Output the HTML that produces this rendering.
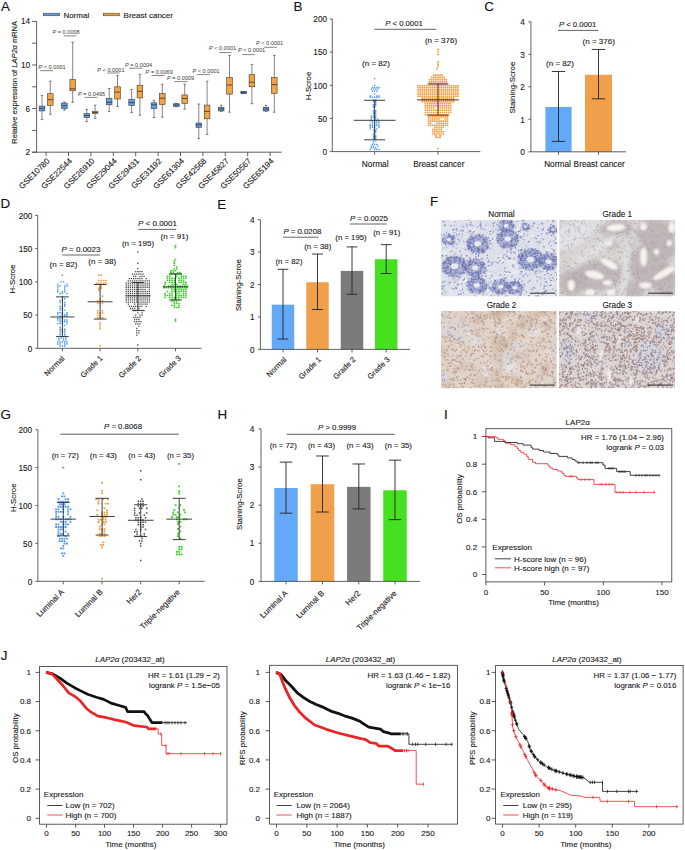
<!DOCTYPE html>
<html><head><meta charset="utf-8"><style>
html,body{margin:0;padding:0;background:#fff;overflow:hidden;}
svg{display:block;font-family:"Liberation Sans", sans-serif;}
text{stroke:#1a1a1a;stroke-width:0.12px;}
text.ns{stroke:none;}
</style></head><body>
<svg width="685" height="850" viewBox="0 0 685 850">
<defs><filter id="bl1" x="-0.2" y="-0.2" width="1.4" height="1.4"><feGaussianBlur stdDeviation="1.3"/></filter><filter id="bl2" x="-0.2" y="-0.2" width="1.4" height="1.4"><feGaussianBlur stdDeviation="2.2"/></filter><filter id="soft" x="0" y="0" width="1" height="1"><feGaussianBlur stdDeviation="0.3"/></filter><clipPath id="cn"><rect x="440.8" y="219.8" width="116.2" height="76.6"/></clipPath><clipPath id="c1"><rect x="559.2" y="219.8" width="116" height="76.6"/></clipPath><clipPath id="c2"><rect x="440.8" y="311" width="116" height="77.3"/></clipPath><clipPath id="c3"><rect x="559" y="311" width="116" height="77.3"/></clipPath></defs>
<rect width="685" height="850" fill="#fff"/>
<text x="0.9" y="10.8" font-size="13.4" text-anchor="start" fill="#111">A</text>
<text x="293.6" y="10.8" font-size="13.4" text-anchor="start" fill="#111">B</text>
<text x="484.2" y="10.7" font-size="13.4" text-anchor="start" fill="#111">C</text>
<text x="0.5" y="208.4" font-size="13.4" text-anchor="start" fill="#111">D</text>
<text x="217.35" y="208.6" font-size="13.4" text-anchor="start" fill="#111">E</text>
<text x="430" y="205.8" font-size="13.4" text-anchor="start" fill="#111">F</text>
<text x="0.56" y="418.8" font-size="13.4" text-anchor="start" fill="#111">G</text>
<text x="217.6" y="418.9" font-size="13.4" text-anchor="start" fill="#111">H</text>
<text x="444.1" y="418.9" font-size="13.4" text-anchor="start" fill="#111">I</text>
<text x="0.7" y="660.2" font-size="13.4" text-anchor="start" fill="#111">J</text>
<line x1="36.6" y1="21.4" x2="36.6" y2="152.2" stroke="#3a3a3a" stroke-width="0.8"/>
<line x1="32.1" y1="152.2" x2="281.7" y2="152.2" stroke="#3a3a3a" stroke-width="0.8"/>
<line x1="32.1" y1="152.2" x2="36.6" y2="152.2" stroke="#3a3a3a" stroke-width="0.8"/>
<line x1="32.1" y1="130.4" x2="36.6" y2="130.4" stroke="#3a3a3a" stroke-width="0.8"/>
<line x1="32.1" y1="108.6" x2="36.6" y2="108.6" stroke="#3a3a3a" stroke-width="0.8"/>
<line x1="32.1" y1="86.8" x2="36.6" y2="86.8" stroke="#3a3a3a" stroke-width="0.8"/>
<line x1="32.1" y1="65" x2="36.6" y2="65" stroke="#3a3a3a" stroke-width="0.8"/>
<line x1="32.1" y1="43.2" x2="36.6" y2="43.2" stroke="#3a3a3a" stroke-width="0.8"/>
<line x1="32.1" y1="21.4" x2="36.6" y2="21.4" stroke="#3a3a3a" stroke-width="0.8"/>
<text x="30" y="155.2" font-size="8.2" text-anchor="end" fill="#1a1a1a">2</text>
<text x="30" y="111.6" font-size="8.2" text-anchor="end" fill="#1a1a1a">6</text>
<text x="30" y="68" font-size="8.2" text-anchor="end" fill="#1a1a1a">10</text>
<text x="30" y="24.4" font-size="8.2" text-anchor="end" fill="#1a1a1a">14</text>
<text x="16.8" y="82.3" font-size="7.5" text-anchor="middle" fill="#1a1a1a" transform="rotate(-90 16.8 82.3)">Relative expression of <tspan font-style="italic">LAP2&#945;</tspan> mRNA</text>
<rect x="43.4" y="13.2" width="16.3" height="2.6" fill="#5ea2ea" stroke="#333" stroke-width="0.5"/>
<text x="63.4" y="17.5" font-size="8" text-anchor="start" fill="#1a1a1a">Normal</text>
<rect x="103.4" y="13.2" width="16.3" height="2.6" fill="#f2a443" stroke="#333" stroke-width="0.5"/>
<text x="123.6" y="17.5" font-size="8" text-anchor="start" fill="#1a1a1a">Breast cancer</text>
<line x1="46.1" y1="152.2" x2="46.1" y2="156.2" stroke="#3a3a3a" stroke-width="0.8"/>
<line x1="42" y1="95.4" x2="42" y2="106.1" stroke="#333" stroke-width="0.6"/>
<line x1="42" y1="110.9" x2="42" y2="119.6" stroke="#333" stroke-width="0.6"/>
<line x1="40.7" y1="95.4" x2="43.3" y2="95.4" stroke="#333" stroke-width="0.6"/>
<line x1="40.7" y1="119.6" x2="43.3" y2="119.6" stroke="#333" stroke-width="0.6"/>
<rect x="39.2" y="106.1" width="5.6" height="4.8" fill="#5ea2ea" stroke="#3a3a3a" stroke-width="0.6"/>
<line x1="39.2" y1="108.4" x2="44.8" y2="108.4" stroke="#222" stroke-width="0.7"/>
<line x1="50.3" y1="81.2" x2="50.3" y2="93.7" stroke="#333" stroke-width="0.6"/>
<line x1="50.3" y1="105.3" x2="50.3" y2="114.3" stroke="#333" stroke-width="0.6"/>
<line x1="49" y1="81.2" x2="51.6" y2="81.2" stroke="#333" stroke-width="0.6"/>
<line x1="49" y1="114.3" x2="51.6" y2="114.3" stroke="#333" stroke-width="0.6"/>
<rect x="47.5" y="93.7" width="5.6" height="11.6" fill="#f2a443" stroke="#3a3a3a" stroke-width="0.6"/>
<line x1="47.5" y1="99.7" x2="53.1" y2="99.7" stroke="#222" stroke-width="0.7"/>
<text x="50.2" y="161.5" font-size="8.1" text-anchor="end" fill="#1a1a1a" transform="rotate(-45 50.2 161.5)">GSE10780</text>
<line x1="68.5" y1="152.2" x2="68.5" y2="156.2" stroke="#3a3a3a" stroke-width="0.8"/>
<line x1="64.4" y1="102" x2="64.4" y2="103.1" stroke="#333" stroke-width="0.6"/>
<line x1="64.4" y1="108.6" x2="64.4" y2="110.2" stroke="#333" stroke-width="0.6"/>
<line x1="63.1" y1="102" x2="65.7" y2="102" stroke="#333" stroke-width="0.6"/>
<line x1="63.1" y1="110.2" x2="65.7" y2="110.2" stroke="#333" stroke-width="0.6"/>
<rect x="61.6" y="103.1" width="5.6" height="5.5" fill="#5ea2ea" stroke="#3a3a3a" stroke-width="0.6"/>
<line x1="61.6" y1="105.8" x2="67.2" y2="105.8" stroke="#222" stroke-width="0.7"/>
<line x1="72.7" y1="42.2" x2="72.7" y2="79.6" stroke="#333" stroke-width="0.6"/>
<line x1="72.7" y1="90.8" x2="72.7" y2="102.3" stroke="#333" stroke-width="0.6"/>
<line x1="71.4" y1="42.2" x2="74" y2="42.2" stroke="#333" stroke-width="0.6"/>
<line x1="71.4" y1="102.3" x2="74" y2="102.3" stroke="#333" stroke-width="0.6"/>
<rect x="69.9" y="79.6" width="5.6" height="11.2" fill="#f2a443" stroke="#3a3a3a" stroke-width="0.6"/>
<line x1="69.9" y1="88.8" x2="75.5" y2="88.8" stroke="#222" stroke-width="0.7"/>
<text x="72.6" y="161.5" font-size="8.1" text-anchor="end" fill="#1a1a1a" transform="rotate(-45 72.6 161.5)">GSE22544</text>
<line x1="90.9" y1="152.2" x2="90.9" y2="156.2" stroke="#3a3a3a" stroke-width="0.8"/>
<line x1="86.8" y1="109.4" x2="86.8" y2="113.5" stroke="#333" stroke-width="0.6"/>
<line x1="86.8" y1="117.5" x2="86.8" y2="121.6" stroke="#333" stroke-width="0.6"/>
<line x1="85.5" y1="109.4" x2="88.1" y2="109.4" stroke="#333" stroke-width="0.6"/>
<line x1="85.5" y1="121.6" x2="88.1" y2="121.6" stroke="#333" stroke-width="0.6"/>
<rect x="84" y="113.5" width="5.6" height="4" fill="#5ea2ea" stroke="#3a3a3a" stroke-width="0.6"/>
<line x1="84" y1="115.5" x2="89.6" y2="115.5" stroke="#222" stroke-width="0.7"/>
<line x1="95.1" y1="105.1" x2="95.1" y2="111.5" stroke="#333" stroke-width="0.6"/>
<line x1="95.1" y1="113.5" x2="95.1" y2="118.3" stroke="#333" stroke-width="0.6"/>
<line x1="93.8" y1="105.1" x2="96.4" y2="105.1" stroke="#333" stroke-width="0.6"/>
<line x1="93.8" y1="118.3" x2="96.4" y2="118.3" stroke="#333" stroke-width="0.6"/>
<rect x="92.3" y="111.5" width="5.6" height="2" fill="#f2a443" stroke="#3a3a3a" stroke-width="0.6"/>
<line x1="92.3" y1="112.5" x2="97.9" y2="112.5" stroke="#222" stroke-width="0.7"/>
<text x="95" y="161.5" font-size="8.1" text-anchor="end" fill="#1a1a1a" transform="rotate(-45 95 161.5)">GSE26910</text>
<line x1="113.3" y1="152.2" x2="113.3" y2="156.2" stroke="#3a3a3a" stroke-width="0.8"/>
<line x1="109.2" y1="88.5" x2="109.2" y2="98.4" stroke="#333" stroke-width="0.6"/>
<line x1="109.2" y1="104.8" x2="109.2" y2="111.4" stroke="#333" stroke-width="0.6"/>
<line x1="107.9" y1="88.5" x2="110.5" y2="88.5" stroke="#333" stroke-width="0.6"/>
<line x1="107.9" y1="111.4" x2="110.5" y2="111.4" stroke="#333" stroke-width="0.6"/>
<rect x="106.4" y="98.4" width="5.6" height="6.4" fill="#5ea2ea" stroke="#3a3a3a" stroke-width="0.6"/>
<line x1="106.4" y1="102.3" x2="112" y2="102.3" stroke="#222" stroke-width="0.7"/>
<line x1="117.5" y1="75.5" x2="117.5" y2="86.8" stroke="#333" stroke-width="0.6"/>
<line x1="117.5" y1="99" x2="117.5" y2="106.4" stroke="#333" stroke-width="0.6"/>
<line x1="116.2" y1="75.5" x2="118.8" y2="75.5" stroke="#333" stroke-width="0.6"/>
<line x1="116.2" y1="106.4" x2="118.8" y2="106.4" stroke="#333" stroke-width="0.6"/>
<rect x="114.7" y="86.8" width="5.6" height="12.2" fill="#f2a443" stroke="#3a3a3a" stroke-width="0.6"/>
<line x1="114.7" y1="92.1" x2="120.3" y2="92.1" stroke="#222" stroke-width="0.7"/>
<text x="117.4" y="161.5" font-size="8.1" text-anchor="end" fill="#1a1a1a" transform="rotate(-45 117.4 161.5)">GSE29044</text>
<line x1="135.7" y1="152.2" x2="135.7" y2="156.2" stroke="#3a3a3a" stroke-width="0.8"/>
<line x1="131.6" y1="89.5" x2="131.6" y2="99.3" stroke="#333" stroke-width="0.6"/>
<line x1="131.6" y1="105.6" x2="131.6" y2="112.5" stroke="#333" stroke-width="0.6"/>
<line x1="130.3" y1="89.5" x2="132.9" y2="89.5" stroke="#333" stroke-width="0.6"/>
<line x1="130.3" y1="112.5" x2="132.9" y2="112.5" stroke="#333" stroke-width="0.6"/>
<rect x="128.8" y="99.3" width="5.6" height="6.3" fill="#5ea2ea" stroke="#3a3a3a" stroke-width="0.6"/>
<line x1="128.8" y1="102.6" x2="134.4" y2="102.6" stroke="#222" stroke-width="0.7"/>
<line x1="139.9" y1="74.3" x2="139.9" y2="85.5" stroke="#333" stroke-width="0.6"/>
<line x1="139.9" y1="97.9" x2="139.9" y2="115.2" stroke="#333" stroke-width="0.6"/>
<line x1="138.6" y1="74.3" x2="141.2" y2="74.3" stroke="#333" stroke-width="0.6"/>
<line x1="138.6" y1="115.2" x2="141.2" y2="115.2" stroke="#333" stroke-width="0.6"/>
<rect x="137.1" y="85.5" width="5.6" height="12.4" fill="#f2a443" stroke="#3a3a3a" stroke-width="0.6"/>
<line x1="137.1" y1="91.3" x2="142.7" y2="91.3" stroke="#222" stroke-width="0.7"/>
<text x="139.8" y="161.5" font-size="8.1" text-anchor="end" fill="#1a1a1a" transform="rotate(-45 139.8 161.5)">GSE29431</text>
<line x1="158.1" y1="152.2" x2="158.1" y2="156.2" stroke="#3a3a3a" stroke-width="0.8"/>
<line x1="154" y1="100.3" x2="154" y2="102.8" stroke="#333" stroke-width="0.6"/>
<line x1="154" y1="108.6" x2="154" y2="117.5" stroke="#333" stroke-width="0.6"/>
<line x1="152.7" y1="100.3" x2="155.3" y2="100.3" stroke="#333" stroke-width="0.6"/>
<line x1="152.7" y1="117.5" x2="155.3" y2="117.5" stroke="#333" stroke-width="0.6"/>
<rect x="151.2" y="102.8" width="5.6" height="5.8" fill="#5ea2ea" stroke="#3a3a3a" stroke-width="0.6"/>
<line x1="151.2" y1="104.8" x2="156.8" y2="104.8" stroke="#222" stroke-width="0.7"/>
<line x1="162.3" y1="84.2" x2="162.3" y2="93.6" stroke="#333" stroke-width="0.6"/>
<line x1="162.3" y1="104.3" x2="162.3" y2="117.1" stroke="#333" stroke-width="0.6"/>
<line x1="161" y1="84.2" x2="163.6" y2="84.2" stroke="#333" stroke-width="0.6"/>
<line x1="161" y1="117.1" x2="163.6" y2="117.1" stroke="#333" stroke-width="0.6"/>
<rect x="159.5" y="93.6" width="5.6" height="10.7" fill="#f2a443" stroke="#3a3a3a" stroke-width="0.6"/>
<line x1="159.5" y1="98.2" x2="165.1" y2="98.2" stroke="#222" stroke-width="0.7"/>
<text x="162.2" y="161.5" font-size="8.1" text-anchor="end" fill="#1a1a1a" transform="rotate(-45 162.2 161.5)">GSE31192</text>
<line x1="180.5" y1="152.2" x2="180.5" y2="156.2" stroke="#3a3a3a" stroke-width="0.8"/>
<line x1="176.4" y1="103.5" x2="176.4" y2="103.8" stroke="#333" stroke-width="0.6"/>
<line x1="176.4" y1="106.4" x2="176.4" y2="106.6" stroke="#333" stroke-width="0.6"/>
<line x1="175.1" y1="103.5" x2="177.7" y2="103.5" stroke="#333" stroke-width="0.6"/>
<line x1="175.1" y1="106.6" x2="177.7" y2="106.6" stroke="#333" stroke-width="0.6"/>
<rect x="173.6" y="103.8" width="5.6" height="2.6" fill="#5ea2ea" stroke="#3a3a3a" stroke-width="0.6"/>
<line x1="173.6" y1="105" x2="179.2" y2="105" stroke="#222" stroke-width="0.7"/>
<line x1="184.7" y1="84.2" x2="184.7" y2="94.9" stroke="#333" stroke-width="0.6"/>
<line x1="184.7" y1="103.5" x2="184.7" y2="109.2" stroke="#333" stroke-width="0.6"/>
<line x1="183.4" y1="84.2" x2="186" y2="84.2" stroke="#333" stroke-width="0.6"/>
<line x1="183.4" y1="109.2" x2="186" y2="109.2" stroke="#333" stroke-width="0.6"/>
<rect x="181.9" y="94.9" width="5.6" height="8.6" fill="#f2a443" stroke="#3a3a3a" stroke-width="0.6"/>
<line x1="181.9" y1="98.5" x2="187.5" y2="98.5" stroke="#222" stroke-width="0.7"/>
<text x="184.6" y="161.5" font-size="8.1" text-anchor="end" fill="#1a1a1a" transform="rotate(-45 184.6 161.5)">GSE61304</text>
<line x1="202.9" y1="152.2" x2="202.9" y2="156.2" stroke="#3a3a3a" stroke-width="0.8"/>
<line x1="198.8" y1="104" x2="198.8" y2="123" stroke="#333" stroke-width="0.6"/>
<line x1="198.8" y1="127.5" x2="198.8" y2="138.6" stroke="#333" stroke-width="0.6"/>
<line x1="197.5" y1="104" x2="200.1" y2="104" stroke="#333" stroke-width="0.6"/>
<line x1="197.5" y1="138.6" x2="200.1" y2="138.6" stroke="#333" stroke-width="0.6"/>
<rect x="196" y="123" width="5.6" height="4.5" fill="#5ea2ea" stroke="#3a3a3a" stroke-width="0.6"/>
<line x1="196" y1="125" x2="201.6" y2="125" stroke="#222" stroke-width="0.7"/>
<line x1="207.1" y1="81.2" x2="207.1" y2="105.1" stroke="#333" stroke-width="0.6"/>
<line x1="207.1" y1="118.8" x2="207.1" y2="134.4" stroke="#333" stroke-width="0.6"/>
<line x1="205.8" y1="81.2" x2="208.4" y2="81.2" stroke="#333" stroke-width="0.6"/>
<line x1="205.8" y1="134.4" x2="208.4" y2="134.4" stroke="#333" stroke-width="0.6"/>
<rect x="204.3" y="105.1" width="5.6" height="13.7" fill="#f2a443" stroke="#3a3a3a" stroke-width="0.6"/>
<line x1="204.3" y1="111.4" x2="209.9" y2="111.4" stroke="#222" stroke-width="0.7"/>
<text x="207" y="161.5" font-size="8.1" text-anchor="end" fill="#1a1a1a" transform="rotate(-45 207 161.5)">GSE42568</text>
<line x1="225.3" y1="152.2" x2="225.3" y2="156.2" stroke="#3a3a3a" stroke-width="0.8"/>
<line x1="221.2" y1="105.3" x2="221.2" y2="107.3" stroke="#333" stroke-width="0.6"/>
<line x1="221.2" y1="110.9" x2="221.2" y2="111.4" stroke="#333" stroke-width="0.6"/>
<line x1="219.9" y1="105.3" x2="222.5" y2="105.3" stroke="#333" stroke-width="0.6"/>
<line x1="219.9" y1="111.4" x2="222.5" y2="111.4" stroke="#333" stroke-width="0.6"/>
<rect x="218.4" y="107.3" width="5.6" height="3.6" fill="#5ea2ea" stroke="#3a3a3a" stroke-width="0.6"/>
<line x1="218.4" y1="109" x2="224" y2="109" stroke="#222" stroke-width="0.7"/>
<line x1="229.5" y1="55.4" x2="229.5" y2="77.6" stroke="#333" stroke-width="0.6"/>
<line x1="229.5" y1="94.1" x2="229.5" y2="112.2" stroke="#333" stroke-width="0.6"/>
<line x1="228.2" y1="55.4" x2="230.8" y2="55.4" stroke="#333" stroke-width="0.6"/>
<line x1="228.2" y1="112.2" x2="230.8" y2="112.2" stroke="#333" stroke-width="0.6"/>
<rect x="226.7" y="77.6" width="5.6" height="16.5" fill="#f2a443" stroke="#3a3a3a" stroke-width="0.6"/>
<line x1="226.7" y1="85" x2="232.3" y2="85" stroke="#222" stroke-width="0.7"/>
<text x="229.4" y="161.5" font-size="8.1" text-anchor="end" fill="#1a1a1a" transform="rotate(-45 229.4 161.5)">GSE45827</text>
<line x1="247.7" y1="152.2" x2="247.7" y2="156.2" stroke="#3a3a3a" stroke-width="0.8"/>
<line x1="243.6" y1="91.6" x2="243.6" y2="91.6" stroke="#333" stroke-width="0.6"/>
<line x1="243.6" y1="93.6" x2="243.6" y2="93.6" stroke="#333" stroke-width="0.6"/>
<line x1="242.3" y1="91.6" x2="244.9" y2="91.6" stroke="#333" stroke-width="0.6"/>
<line x1="242.3" y1="93.6" x2="244.9" y2="93.6" stroke="#333" stroke-width="0.6"/>
<rect x="240.8" y="91.6" width="5.6" height="2" fill="#5ea2ea" stroke="#3a3a3a" stroke-width="0.6"/>
<line x1="240.8" y1="92.6" x2="246.4" y2="92.6" stroke="#222" stroke-width="0.7"/>
<line x1="251.9" y1="64.4" x2="251.9" y2="74.7" stroke="#333" stroke-width="0.6"/>
<line x1="251.9" y1="86.7" x2="251.9" y2="103.7" stroke="#333" stroke-width="0.6"/>
<line x1="250.6" y1="64.4" x2="253.2" y2="64.4" stroke="#333" stroke-width="0.6"/>
<line x1="250.6" y1="103.7" x2="253.2" y2="103.7" stroke="#333" stroke-width="0.6"/>
<rect x="249.1" y="74.7" width="5.6" height="12" fill="#f2a443" stroke="#3a3a3a" stroke-width="0.6"/>
<line x1="249.1" y1="82.2" x2="254.7" y2="82.2" stroke="#222" stroke-width="0.7"/>
<text x="251.8" y="161.5" font-size="8.1" text-anchor="end" fill="#1a1a1a" transform="rotate(-45 251.8 161.5)">GSE50567</text>
<line x1="270.1" y1="152.2" x2="270.1" y2="156.2" stroke="#3a3a3a" stroke-width="0.8"/>
<line x1="266" y1="105.3" x2="266" y2="107.3" stroke="#333" stroke-width="0.6"/>
<line x1="266" y1="110.9" x2="266" y2="111.4" stroke="#333" stroke-width="0.6"/>
<line x1="264.7" y1="105.3" x2="267.3" y2="105.3" stroke="#333" stroke-width="0.6"/>
<line x1="264.7" y1="111.4" x2="267.3" y2="111.4" stroke="#333" stroke-width="0.6"/>
<rect x="263.2" y="107.3" width="5.6" height="3.6" fill="#5ea2ea" stroke="#3a3a3a" stroke-width="0.6"/>
<line x1="263.2" y1="109" x2="268.8" y2="109" stroke="#222" stroke-width="0.7"/>
<line x1="274.3" y1="55.4" x2="274.3" y2="77.3" stroke="#333" stroke-width="0.6"/>
<line x1="274.3" y1="93.3" x2="274.3" y2="112.2" stroke="#333" stroke-width="0.6"/>
<line x1="273" y1="55.4" x2="275.6" y2="55.4" stroke="#333" stroke-width="0.6"/>
<line x1="273" y1="112.2" x2="275.6" y2="112.2" stroke="#333" stroke-width="0.6"/>
<rect x="271.5" y="77.3" width="5.6" height="16" fill="#f2a443" stroke="#3a3a3a" stroke-width="0.6"/>
<line x1="271.5" y1="84.6" x2="277.1" y2="84.6" stroke="#222" stroke-width="0.7"/>
<text x="274.2" y="161.5" font-size="8.1" text-anchor="end" fill="#1a1a1a" transform="rotate(-45 274.2 161.5)">GSE65194</text>
<text x="38.5" y="69.2" font-size="5.6" text-anchor="start" fill="#3a3a3a" class="ns"><tspan font-style="italic">P</tspan> &lt; 0.0001</text>
<line x1="40.1" y1="70.7" x2="53" y2="70.7" stroke="#555" stroke-width="0.7"/>
<text x="52.5" y="34" font-size="5.6" text-anchor="start" fill="#3a3a3a" class="ns"><tspan font-style="italic">P</tspan> = 0.0008</text>
<line x1="63.7" y1="35.9" x2="76.4" y2="35.9" stroke="#555" stroke-width="0.7"/>
<text x="78" y="95.6" font-size="5.6" text-anchor="start" fill="#3a3a3a" class="ns"><tspan font-style="italic">P</tspan> = 0.0495</text>
<line x1="84.6" y1="97.4" x2="97.5" y2="97.4" stroke="#555" stroke-width="0.7"/>
<text x="97.3" y="71.5" font-size="5.6" text-anchor="start" fill="#3a3a3a" class="ns"><tspan font-style="italic">P</tspan> &lt; 0.0001</text>
<line x1="107.2" y1="73" x2="119.7" y2="73" stroke="#555" stroke-width="0.7"/>
<text x="125" y="66.7" font-size="5.6" text-anchor="start" fill="#3a3a3a" class="ns"><tspan font-style="italic">P</tspan> = 0.0004</text>
<line x1="129.1" y1="68.2" x2="142.3" y2="68.2" stroke="#555" stroke-width="0.7"/>
<text x="145.6" y="73.8" font-size="5.6" text-anchor="start" fill="#3a3a3a" class="ns"><tspan font-style="italic">P</tspan> = 0.0069</text>
<line x1="151.7" y1="75.5" x2="164.5" y2="75.5" stroke="#555" stroke-width="0.7"/>
<text x="167" y="79.8" font-size="5.6" text-anchor="start" fill="#3a3a3a" class="ns"><tspan font-style="italic">P</tspan> = 0.0009</text>
<line x1="174.4" y1="81.6" x2="187.6" y2="81.6" stroke="#555" stroke-width="0.7"/>
<text x="192.5" y="72.8" font-size="5.6" text-anchor="start" fill="#3a3a3a" class="ns"><tspan font-style="italic">P</tspan> &lt; 0.0001</text>
<line x1="197" y1="74.6" x2="209.8" y2="74.6" stroke="#555" stroke-width="0.7"/>
<text x="209" y="50.2" font-size="5.6" text-anchor="start" fill="#3a3a3a" class="ns"><tspan font-style="italic">P</tspan> &lt; 0.0001</text>
<line x1="219.2" y1="52.6" x2="231.6" y2="52.6" stroke="#555" stroke-width="0.7"/>
<text x="237.9" y="52.4" font-size="5.6" text-anchor="start" fill="#3a3a3a" class="ns"><tspan font-style="italic">P</tspan> &lt; 0.0001</text>
<line x1="242.3" y1="54.6" x2="254.7" y2="54.6" stroke="#555" stroke-width="0.7"/>
<text x="256" y="44.5" font-size="5.6" text-anchor="start" fill="#3a3a3a" class="ns"><tspan font-style="italic">P</tspan> &lt; 0.0001</text>
<line x1="264.2" y1="47.3" x2="276.9" y2="47.3" stroke="#555" stroke-width="0.7"/>
<line x1="332.3" y1="19" x2="332.3" y2="151.6" stroke="#3a3a3a" stroke-width="0.8"/>
<line x1="329.8" y1="151.6" x2="332.3" y2="151.6" stroke="#3a3a3a" stroke-width="0.8"/>
<text x="327" y="154.8" font-size="8.2" text-anchor="end" fill="#1a1a1a">0</text>
<line x1="329.8" y1="118.45" x2="332.3" y2="118.45" stroke="#3a3a3a" stroke-width="0.8"/>
<text x="327" y="121.65" font-size="8.2" text-anchor="end" fill="#1a1a1a">50</text>
<line x1="329.8" y1="85.3" x2="332.3" y2="85.3" stroke="#3a3a3a" stroke-width="0.8"/>
<text x="327" y="88.5" font-size="8.2" text-anchor="end" fill="#1a1a1a">100</text>
<line x1="329.8" y1="52.15" x2="332.3" y2="52.15" stroke="#3a3a3a" stroke-width="0.8"/>
<text x="327" y="55.35" font-size="8.2" text-anchor="end" fill="#1a1a1a">150</text>
<line x1="329.8" y1="19" x2="332.3" y2="19" stroke="#3a3a3a" stroke-width="0.8"/>
<text x="327" y="22.2" font-size="8.2" text-anchor="end" fill="#1a1a1a">200</text>
<line x1="332.3" y1="151.6" x2="480.4" y2="151.6" stroke="#3a3a3a" stroke-width="0.8"/>
<line x1="374.6" y1="151.6" x2="374.6" y2="154.6" stroke="#3a3a3a" stroke-width="0.8"/>
<line x1="438" y1="151.6" x2="438" y2="154.6" stroke="#3a3a3a" stroke-width="0.8"/>
<text x="311.2" y="86" font-size="7.8" text-anchor="middle" fill="#1a1a1a" transform="rotate(-90 311.2 86)">H-Scroe</text>
<text x="375.2" y="166.6" font-size="8.3" text-anchor="middle" fill="#1a1a1a">Normal</text>
<text x="438.8" y="166.6" font-size="8.3" text-anchor="middle" fill="#1a1a1a">Breast cancer</text>
<text x="404" y="26.2" font-size="7.7" text-anchor="middle" fill="#1a1a1a"><tspan font-style="italic">P</tspan> &lt; 0.0001</text>
<line x1="374.4" y1="29.3" x2="436.4" y2="29.3" stroke="#555" stroke-width="0.9"/>
<text x="376" y="65.6" font-size="8" text-anchor="middle" fill="#1a1a1a">(n = 82)</text>
<text x="441" y="42.6" font-size="8" text-anchor="middle" fill="#1a1a1a">(n = 376)</text>
<path d="M373.93 78.67h1.35M373.93 85.3h1.35M371.73 87.45h1.35M373.93 87.45h1.35M376.12 87.45h1.35M378.32 87.45h1.35M370.62 89.11h1.35M372.82 89.11h1.35M375.03 89.11h1.35M377.23 89.11h1.35M371.73 91.27h1.35M373.93 91.27h1.35M376.12 91.27h1.35M373.93 93.92h1.35M369.53 95.91h1.35M376.12 95.91h1.35M378.32 95.91h1.35M369.53 97.23h1.35M371.73 97.23h1.35M373.93 97.23h1.35M376.12 97.23h1.35M378.32 97.23h1.35M372.82 99.99h1.35M375.03 99.99h1.35M372.82 101.51h1.35M375.03 101.51h1.35M375.03 103.04h1.35M372.82 104.56h1.35M375.03 104.56h1.35M372.82 106.09h1.35M375.03 106.09h1.35M372.82 107.61h1.35M372.82 110.66h1.35M375.03 110.66h1.35M372.82 112.18h1.35M375.03 112.18h1.35M372.82 113.71h1.35M375.03 113.71h1.35M370.62 115.95h1.35M372.82 115.95h1.35M375.03 115.95h1.35M370.62 117.57h1.35M372.82 117.57h1.35M375.03 117.57h1.35M370.62 119.19h1.35M375.03 119.19h1.35M377.23 119.19h1.35M369.53 120.81h1.35M371.73 120.81h1.35M373.93 120.81h1.35M376.12 120.81h1.35M378.32 120.81h1.35M371.73 122.43h1.35M373.93 122.43h1.35M376.12 122.43h1.35M378.32 122.43h1.35M369.53 124.05h1.35M371.73 124.05h1.35M373.93 124.05h1.35M376.12 124.05h1.35M378.32 124.05h1.35M369.53 125.67h1.35M371.73 125.67h1.35M373.93 125.67h1.35M376.12 125.67h1.35M378.32 125.67h1.35M369.53 127.29h1.35M371.73 127.29h1.35M373.93 127.29h1.35M378.32 127.29h1.35M369.53 128.91h1.35M373.93 128.91h1.35M376.12 128.91h1.35M372.82 130.49h1.35M375.03 130.49h1.35M375.03 132.04h1.35M372.82 133.59h1.35M372.82 135.14h1.35M375.03 135.14h1.35M372.82 136.68h1.35M375.03 136.68h1.35M372.82 138.23h1.35M375.03 138.23h1.35M372.82 141.16h1.35M375.03 141.16h1.35M372.82 142.82h1.35M371.73 144.47h1.35M373.93 144.47h1.35M376.12 144.47h1.35M370.62 146.13h1.35M372.82 146.13h1.35M377.23 146.13h1.35M370.62 147.79h1.35M372.82 147.79h1.35M375.03 147.79h1.35M369.53 149.45h1.35M373.93 149.45h1.35M376.12 149.45h1.35M378.32 149.45h1.35" stroke="#4a97ef" stroke-width="1.35"/>
<path d="M437.2 49.39h1.6M437.2 51.82h1.6M437.2 54.25h1.6M437.2 61.9h1.6M437.2 64.15h1.6M437.2 66.4h1.6M436.15 68.66h1.6M433 75.13h1.6M435.1 75.13h1.6M437.2 75.13h1.6M439.3 75.13h1.6M441.4 75.13h1.6M430.9 77.34h1.6M433 77.34h1.6M435.1 77.34h1.6M437.2 77.34h1.6M439.3 77.34h1.6M441.4 77.34h1.6M443.5 77.34h1.6M428.8 79.55h1.6M430.9 79.55h1.6M433 79.55h1.6M435.1 79.55h1.6M437.2 79.55h1.6M439.3 79.55h1.6M441.4 79.55h1.6M443.5 79.55h1.6M445.6 79.55h1.6M428.8 81.65h1.6M430.9 81.65h1.6M433 81.65h1.6M435.1 81.65h1.6M437.2 81.65h1.6M439.3 81.65h1.6M441.4 81.65h1.6M443.5 81.65h1.6M445.6 81.65h1.6M428.8 83.64h1.6M430.9 83.64h1.6M433 83.64h1.6M435.1 83.64h1.6M437.2 83.64h1.6M439.3 83.64h1.6M441.4 83.64h1.6M443.5 83.64h1.6M445.6 83.64h1.6M417.25 85.69h1.6M419.35 85.69h1.6M421.45 85.69h1.6M423.55 85.69h1.6M425.65 85.69h1.6M427.75 85.69h1.6M429.85 85.69h1.6M431.95 85.69h1.6M434.05 85.69h1.6M436.15 85.69h1.6M438.25 85.69h1.6M440.35 85.69h1.6M442.45 85.69h1.6M444.55 85.69h1.6M446.65 85.69h1.6M448.75 85.69h1.6M450.85 85.69h1.6M452.95 85.69h1.6M455.05 85.69h1.6M457.15 85.69h1.6M417.25 87.79h1.6M419.35 87.79h1.6M421.45 87.79h1.6M423.55 87.79h1.6M425.65 87.79h1.6M427.75 87.79h1.6M429.85 87.79h1.6M431.95 87.79h1.6M434.05 87.79h1.6M436.15 87.79h1.6M438.25 87.79h1.6M440.35 87.79h1.6M442.45 87.79h1.6M444.55 87.79h1.6M446.65 87.79h1.6M448.75 87.79h1.6M450.85 87.79h1.6M452.95 87.79h1.6M455.05 87.79h1.6M457.15 87.79h1.6M417.25 89.89h1.6M419.35 89.89h1.6M421.45 89.89h1.6M423.55 89.89h1.6M425.65 89.89h1.6M427.75 89.89h1.6M429.85 89.89h1.6M431.95 89.89h1.6M434.05 89.89h1.6M436.15 89.89h1.6M438.25 89.89h1.6M440.35 89.89h1.6M442.45 89.89h1.6M444.55 89.89h1.6M446.65 89.89h1.6M448.75 89.89h1.6M450.85 89.89h1.6M452.95 89.89h1.6M455.05 89.89h1.6M457.15 89.89h1.6M417.25 91.99h1.6M419.35 91.99h1.6M421.45 91.99h1.6M423.55 91.99h1.6M425.65 91.99h1.6M427.75 91.99h1.6M429.85 91.99h1.6M431.95 91.99h1.6M434.05 91.99h1.6M436.15 91.99h1.6M438.25 91.99h1.6M440.35 91.99h1.6M442.45 91.99h1.6M444.55 91.99h1.6M446.65 91.99h1.6M448.75 91.99h1.6M450.85 91.99h1.6M452.95 91.99h1.6M455.05 91.99h1.6M457.15 91.99h1.6M417.25 94.08h1.6M419.35 94.08h1.6M421.45 94.08h1.6M423.55 94.08h1.6M425.65 94.08h1.6M427.75 94.08h1.6M429.85 94.08h1.6M431.95 94.08h1.6M434.05 94.08h1.6M436.15 94.08h1.6M438.25 94.08h1.6M440.35 94.08h1.6M442.45 94.08h1.6M444.55 94.08h1.6M446.65 94.08h1.6M448.75 94.08h1.6M450.85 94.08h1.6M452.95 94.08h1.6M455.05 94.08h1.6M457.15 94.08h1.6M417.25 96.18h1.6M419.35 96.18h1.6M421.45 96.18h1.6M423.55 96.18h1.6M425.65 96.18h1.6M427.75 96.18h1.6M429.85 96.18h1.6M431.95 96.18h1.6M434.05 96.18h1.6M436.15 96.18h1.6M438.25 96.18h1.6M440.35 96.18h1.6M442.45 96.18h1.6M444.55 96.18h1.6M446.65 96.18h1.6M448.75 96.18h1.6M450.85 96.18h1.6M452.95 96.18h1.6M455.05 96.18h1.6M457.15 96.18h1.6M421.45 98.12h1.6M423.55 98.12h1.6M425.65 98.12h1.6M427.75 98.12h1.6M429.85 98.12h1.6M431.95 98.12h1.6M434.05 98.12h1.6M436.15 98.12h1.6M438.25 98.12h1.6M440.35 98.12h1.6M442.45 98.12h1.6M444.55 98.12h1.6M446.65 98.12h1.6M448.75 98.12h1.6M450.85 98.12h1.6M452.95 98.12h1.6M421.45 99.89h1.6M423.55 99.89h1.6M425.65 99.89h1.6M427.75 99.89h1.6M429.85 99.89h1.6M431.95 99.89h1.6M434.05 99.89h1.6M436.15 99.89h1.6M438.25 99.89h1.6M440.35 99.89h1.6M442.45 99.89h1.6M444.55 99.89h1.6M446.65 99.89h1.6M448.75 99.89h1.6M450.85 99.89h1.6M452.95 99.89h1.6M421.45 101.65h1.6M423.55 101.65h1.6M425.65 101.65h1.6M427.75 101.65h1.6M429.85 101.65h1.6M431.95 101.65h1.6M434.05 101.65h1.6M436.15 101.65h1.6M438.25 101.65h1.6M440.35 101.65h1.6M442.45 101.65h1.6M444.55 101.65h1.6M446.65 101.65h1.6M448.75 101.65h1.6M450.85 101.65h1.6M452.95 101.65h1.6M424.6 103.64h1.6M426.7 103.64h1.6M428.8 103.64h1.6M430.9 103.64h1.6M433 103.64h1.6M435.1 103.64h1.6M437.2 103.64h1.6M439.3 103.64h1.6M441.4 103.64h1.6M443.5 103.64h1.6M445.6 103.64h1.6M447.7 103.64h1.6M449.8 103.64h1.6M424.6 105.85h1.6M426.7 105.85h1.6M428.8 105.85h1.6M430.9 105.85h1.6M433 105.85h1.6M435.1 105.85h1.6M437.2 105.85h1.6M439.3 105.85h1.6M441.4 105.85h1.6M443.5 105.85h1.6M445.6 105.85h1.6M447.7 105.85h1.6M449.8 105.85h1.6M424.6 108.06h1.6M426.7 108.06h1.6M428.8 108.06h1.6M430.9 108.06h1.6M433 108.06h1.6M437.2 108.06h1.6M439.3 108.06h1.6M441.4 108.06h1.6M443.5 108.06h1.6M445.6 108.06h1.6M447.7 108.06h1.6M449.8 108.06h1.6M424.6 110.27h1.6M426.7 110.27h1.6M428.8 110.27h1.6M430.9 110.27h1.6M433 110.27h1.6M435.1 110.27h1.6M437.2 110.27h1.6M439.3 110.27h1.6M441.4 110.27h1.6M443.5 110.27h1.6M445.6 110.27h1.6M447.7 110.27h1.6M449.8 110.27h1.6M424.6 112.48h1.6M426.7 112.48h1.6M428.8 112.48h1.6M430.9 112.48h1.6M433 112.48h1.6M435.1 112.48h1.6M437.2 112.48h1.6M439.3 112.48h1.6M441.4 112.48h1.6M443.5 112.48h1.6M445.6 112.48h1.6M447.7 112.48h1.6M449.8 112.48h1.6M424.6 114.69h1.6M426.7 114.69h1.6M428.8 114.69h1.6M430.9 114.69h1.6M433 114.69h1.6M435.1 114.69h1.6M437.2 114.69h1.6M439.3 114.69h1.6M441.4 114.69h1.6M443.5 114.69h1.6M445.6 114.69h1.6M447.7 114.69h1.6M427.75 116.86h1.6M429.85 116.86h1.6M431.95 116.86h1.6M434.05 116.86h1.6M436.15 116.86h1.6M438.25 116.86h1.6M440.35 116.86h1.6M442.45 116.86h1.6M444.55 116.86h1.6M446.65 116.86h1.6M427.75 118.98h1.6M429.85 118.98h1.6M431.95 118.98h1.6M434.05 118.98h1.6M436.15 118.98h1.6M438.25 118.98h1.6M444.55 118.98h1.6M446.65 118.98h1.6M427.75 121.1h1.6M429.85 121.1h1.6M431.95 121.1h1.6M434.05 121.1h1.6M436.15 121.1h1.6M438.25 121.1h1.6M440.35 121.1h1.6M442.45 121.1h1.6M444.55 121.1h1.6M446.65 121.1h1.6M427.75 123.22h1.6M429.85 123.22h1.6M436.15 123.22h1.6M438.25 123.22h1.6M440.35 123.22h1.6M442.45 123.22h1.6M444.55 123.22h1.6M446.65 123.22h1.6M427.75 125.35h1.6M429.85 125.35h1.6M431.95 125.35h1.6M434.05 125.35h1.6M436.15 125.35h1.6M438.25 125.35h1.6M440.35 125.35h1.6M442.45 125.35h1.6M444.55 125.35h1.6M446.65 125.35h1.6M434.05 127.48h1.6M436.15 127.48h1.6M438.25 127.48h1.6M440.35 127.48h1.6M442.45 127.48h1.6M431.95 129.64h1.6M434.05 129.64h1.6M436.15 129.64h1.6M438.25 129.64h1.6M440.35 129.64h1.6M431.95 131.79h1.6M434.05 131.79h1.6M436.15 131.79h1.6M438.25 131.79h1.6M440.35 131.79h1.6M442.45 131.79h1.6M431.95 133.95h1.6M434.05 133.95h1.6M436.15 133.95h1.6M438.25 133.95h1.6M440.35 133.95h1.6M442.45 133.95h1.6M435.1 135.85h1.6M439.3 135.85h1.6M435.1 137.51h1.6M437.2 137.51h1.6M439.3 137.51h1.6M437.2 148.62h1.6" stroke="#f39a3c" stroke-width="1.6"/>
<line x1="374.6" y1="100.28" x2="374.6" y2="139.8" stroke="#2a2a2a" stroke-width="0.9"/>
<line x1="353.6" y1="120.31" x2="395.6" y2="120.31" stroke="#2a2a2a" stroke-width="0.9"/>
<line x1="364.1" y1="100.28" x2="385.1" y2="100.28" stroke="#2a2a2a" stroke-width="0.9"/>
<line x1="364.1" y1="139.8" x2="385.1" y2="139.8" stroke="#2a2a2a" stroke-width="0.9"/>
<line x1="438" y1="83.97" x2="438" y2="115.13" stroke="#2a2a2a" stroke-width="0.9"/>
<line x1="417" y1="99.89" x2="459" y2="99.89" stroke="#2a2a2a" stroke-width="0.9"/>
<line x1="427.5" y1="83.97" x2="448.5" y2="83.97" stroke="#2a2a2a" stroke-width="0.9"/>
<line x1="427.5" y1="115.13" x2="448.5" y2="115.13" stroke="#2a2a2a" stroke-width="0.9"/>
<rect x="545.4" y="106.95" width="26.2" height="44.85" fill="#63a9f8"/>
<line x1="558.5" y1="141.4" x2="558.5" y2="71.53" stroke="#222" stroke-width="0.9"/>
<line x1="551.8" y1="141.4" x2="565.2" y2="141.4" stroke="#222" stroke-width="0.9"/>
<line x1="551.8" y1="71.53" x2="565.2" y2="71.53" stroke="#222" stroke-width="0.9"/>
<rect x="585" y="74.78" width="27" height="77.03" fill="#f0a04a"/>
<line x1="598.5" y1="98.83" x2="598.5" y2="49.43" stroke="#222" stroke-width="0.9"/>
<line x1="591.8" y1="98.83" x2="605.2" y2="98.83" stroke="#222" stroke-width="0.9"/>
<line x1="591.8" y1="49.43" x2="605.2" y2="49.43" stroke="#222" stroke-width="0.9"/>
<line x1="530.9" y1="21.8" x2="530.9" y2="151.8" stroke="#3a3a3a" stroke-width="0.8"/>
<line x1="528.4" y1="151.8" x2="530.9" y2="151.8" stroke="#3a3a3a" stroke-width="0.8"/>
<text x="524.8" y="155" font-size="8.2" text-anchor="end" fill="#1a1a1a">0</text>
<line x1="528.4" y1="119.3" x2="530.9" y2="119.3" stroke="#3a3a3a" stroke-width="0.8"/>
<text x="524.8" y="122.5" font-size="8.2" text-anchor="end" fill="#1a1a1a">1</text>
<line x1="528.4" y1="86.8" x2="530.9" y2="86.8" stroke="#3a3a3a" stroke-width="0.8"/>
<text x="524.8" y="90" font-size="8.2" text-anchor="end" fill="#1a1a1a">2</text>
<line x1="528.4" y1="54.3" x2="530.9" y2="54.3" stroke="#3a3a3a" stroke-width="0.8"/>
<text x="524.8" y="57.5" font-size="8.2" text-anchor="end" fill="#1a1a1a">3</text>
<line x1="528.4" y1="21.8" x2="530.9" y2="21.8" stroke="#3a3a3a" stroke-width="0.8"/>
<text x="524.8" y="25" font-size="8.2" text-anchor="end" fill="#1a1a1a">4</text>
<line x1="530.9" y1="151.8" x2="626" y2="151.8" stroke="#3a3a3a" stroke-width="0.8"/>
<line x1="558.5" y1="151.8" x2="558.5" y2="154.8" stroke="#3a3a3a" stroke-width="0.8"/>
<line x1="598.5" y1="151.8" x2="598.5" y2="154.8" stroke="#3a3a3a" stroke-width="0.8"/>
<text x="515" y="87.6" font-size="7.9" text-anchor="middle" fill="#1a1a1a" transform="rotate(-90 515 87.6)">Staining-Scroe</text>
<text x="557.5" y="166.5" font-size="8.3" text-anchor="middle" fill="#1a1a1a">Normal</text>
<text x="599.2" y="166.5" font-size="8.3" text-anchor="middle" fill="#1a1a1a">Breast cancer</text>
<text x="577.6" y="27.3" font-size="7.7" text-anchor="middle" fill="#1a1a1a"><tspan font-style="italic">P</tspan> &lt; 0.0001</text>
<line x1="558" y1="30.4" x2="598.4" y2="30.4" stroke="#555" stroke-width="0.9"/>
<text x="560" y="65.5" font-size="8" text-anchor="middle" fill="#1a1a1a">(n = 82)</text>
<text x="598.7" y="44.4" font-size="8" text-anchor="middle" fill="#1a1a1a">(n = 376)</text>
<line x1="37.7" y1="215.4" x2="37.7" y2="348.3" stroke="#3a3a3a" stroke-width="0.8"/>
<line x1="35.2" y1="348.3" x2="37.7" y2="348.3" stroke="#3a3a3a" stroke-width="0.8"/>
<text x="32.3" y="351.5" font-size="8.2" text-anchor="end" fill="#1a1a1a">0</text>
<line x1="35.2" y1="315.07" x2="37.7" y2="315.07" stroke="#3a3a3a" stroke-width="0.8"/>
<text x="32.3" y="318.27" font-size="8.2" text-anchor="end" fill="#1a1a1a">50</text>
<line x1="35.2" y1="281.85" x2="37.7" y2="281.85" stroke="#3a3a3a" stroke-width="0.8"/>
<text x="32.3" y="285.05" font-size="8.2" text-anchor="end" fill="#1a1a1a">100</text>
<line x1="35.2" y1="248.62" x2="37.7" y2="248.62" stroke="#3a3a3a" stroke-width="0.8"/>
<text x="32.3" y="251.82" font-size="8.2" text-anchor="end" fill="#1a1a1a">150</text>
<line x1="35.2" y1="215.4" x2="37.7" y2="215.4" stroke="#3a3a3a" stroke-width="0.8"/>
<text x="32.3" y="218.6" font-size="8.2" text-anchor="end" fill="#1a1a1a">200</text>
<line x1="37.7" y1="348.3" x2="201.5" y2="348.3" stroke="#3a3a3a" stroke-width="0.8"/>
<line x1="62.4" y1="348.3" x2="62.4" y2="351.3" stroke="#3a3a3a" stroke-width="0.8"/>
<line x1="100.1" y1="348.3" x2="100.1" y2="351.3" stroke="#3a3a3a" stroke-width="0.8"/>
<line x1="137.8" y1="348.3" x2="137.8" y2="351.3" stroke="#3a3a3a" stroke-width="0.8"/>
<line x1="175.5" y1="348.3" x2="175.5" y2="351.3" stroke="#3a3a3a" stroke-width="0.8"/>
<text x="14.9" y="278.9" font-size="7.9" text-anchor="middle" fill="#1a1a1a" transform="rotate(-90 14.9 278.9)">H-Scroe</text>
<text x="64.9" y="359" font-size="7.7" text-anchor="end" fill="#1a1a1a" transform="rotate(-45 64.9 359)">Normal</text>
<text x="103.2" y="358.7" font-size="7.7" text-anchor="end" fill="#1a1a1a" transform="rotate(-45 103.2 358.7)">Grade 1</text>
<text x="141.5" y="358.9" font-size="7.7" text-anchor="end" fill="#1a1a1a" transform="rotate(-45 141.5 358.9)">Grade 2</text>
<text x="181.5" y="358.7" font-size="7.7" text-anchor="end" fill="#1a1a1a" transform="rotate(-45 181.5 358.7)">Grade 3</text>
<path d="M61.67 275.21h1.45M60.52 281.85h1.45M62.82 281.85h1.45M57.07 284.12h1.45M66.28 284.12h1.45M57.07 286h1.45M59.38 286h1.45M63.98 286h1.45M66.28 286h1.45M57.07 287.89h1.45M63.98 287.89h1.45M57.07 289.77h1.45M63.98 289.77h1.45M57.07 291.65h1.45M61.67 291.65h1.45M63.98 291.65h1.45M59.38 293.53h1.45M61.67 293.53h1.45M66.28 293.53h1.45M61.67 296.76h1.45M63.98 298.67h1.45M59.38 300.58h1.45M61.67 300.58h1.45M59.38 302.49h1.45M63.98 302.49h1.45M63.98 304.4h1.45M59.38 306.31h1.45M63.98 306.31h1.45M59.38 308.22h1.45M61.67 308.22h1.45M59.38 310.13h1.45M61.67 310.13h1.45M63.98 310.13h1.45M57.07 312.67h1.45M59.38 312.67h1.45M61.67 312.67h1.45M66.28 312.67h1.45M57.07 314.49h1.45M61.67 314.49h1.45M63.98 314.49h1.45M66.28 314.49h1.45M59.38 316.32h1.45M61.67 316.32h1.45M63.98 316.32h1.45M66.28 316.32h1.45M57.07 318.15h1.45M59.38 318.15h1.45M61.67 318.15h1.45M57.07 319.98h1.45M59.38 319.98h1.45M61.67 319.98h1.45M63.98 319.98h1.45M66.28 319.98h1.45M59.38 321.8h1.45M61.67 321.8h1.45M63.98 321.8h1.45M66.28 321.8h1.45M57.07 323.63h1.45M59.38 323.63h1.45M61.67 323.63h1.45M66.28 323.63h1.45M63.98 325.46h1.45M59.38 327.3h1.45M59.38 329.16h1.45M61.67 329.16h1.45M63.98 329.16h1.45M59.38 331.02h1.45M61.67 331.02h1.45M63.98 331.02h1.45M59.38 332.88h1.45M61.67 332.88h1.45M63.98 332.88h1.45M59.38 334.74h1.45M63.98 334.74h1.45M58.22 338h1.45M60.52 338h1.45M62.82 338h1.45M65.12 338h1.45M58.22 339.99h1.45M62.82 339.99h1.45M65.12 339.99h1.45M57.07 341.99h1.45M59.38 341.99h1.45M61.67 341.99h1.45M63.98 341.99h1.45M66.28 341.99h1.45M57.07 343.98h1.45M59.38 343.98h1.45M63.98 343.98h1.45M66.28 343.98h1.45M59.38 345.97h1.45M61.67 345.97h1.45M63.98 345.97h1.45" stroke="#4a97ef" stroke-width="1.45"/>
<path d="M98.1 275.21h1.6M100.5 275.21h1.6M98.1 280.52h1.6M100.5 280.52h1.6M102.9 280.52h1.6M105.3 280.52h1.6M95.7 283.18h1.6M98.1 283.18h1.6M100.5 283.18h1.6M102.9 283.18h1.6M105.3 283.18h1.6M100.5 286.17h1.6M98.1 288.16h1.6M100.5 288.16h1.6M98.1 290.16h1.6M101.7 296.34h1.6M99.3 298.73h1.6M96.9 301.12h1.6M99.3 301.12h1.6M101.7 301.12h1.6M96.9 303.51h1.6M99.3 303.51h1.6M101.7 303.51h1.6M96.9 310.69h1.6M101.7 310.69h1.6M96.9 313.08h1.6M99.3 313.08h1.6M101.7 313.08h1.6M96.9 315.47h1.6M99.3 315.47h1.6M96.9 317.87h1.6M99.3 317.87h1.6M101.7 317.87h1.6M99.3 322.72h1.6M99.3 324.71h1.6M99.3 326.7h1.6M99.3 328.7h1.6M99.3 345.64h1.6" stroke="#f39a3c" stroke-width="1.6"/>
<path d="M137.15 251.95h1.3M137.15 263.24h1.3M137.15 268.56h1.3M135.05 271.72h1.3M137.15 271.72h1.3M139.25 271.72h1.3M141.35 271.72h1.3M131.9 274.04h1.3M134 274.04h1.3M136.1 274.04h1.3M138.2 274.04h1.3M140.3 274.04h1.3M142.4 274.04h1.3M132.95 276.37h1.3M135.05 276.37h1.3M139.25 276.37h1.3M141.35 276.37h1.3M143.45 276.37h1.3M128.75 278.69h1.3M130.85 278.69h1.3M132.95 278.69h1.3M135.05 278.69h1.3M137.15 278.69h1.3M139.25 278.69h1.3M141.35 278.69h1.3M145.55 278.69h1.3M127.7 280.91h1.3M129.8 280.91h1.3M131.9 280.91h1.3M134 280.91h1.3M136.1 280.91h1.3M138.2 280.91h1.3M140.3 280.91h1.3M142.4 280.91h1.3M144.5 280.91h1.3M146.6 280.91h1.3M148.7 280.91h1.3M125.6 283.03h1.3M127.7 283.03h1.3M129.8 283.03h1.3M131.9 283.03h1.3M134 283.03h1.3M136.1 283.03h1.3M138.2 283.03h1.3M140.3 283.03h1.3M142.4 283.03h1.3M144.5 283.03h1.3M146.6 283.03h1.3M148.7 283.03h1.3M125.6 285.14h1.3M127.7 285.14h1.3M129.8 285.14h1.3M131.9 285.14h1.3M134 285.14h1.3M136.1 285.14h1.3M138.2 285.14h1.3M140.3 285.14h1.3M142.4 285.14h1.3M144.5 285.14h1.3M146.6 285.14h1.3M148.7 285.14h1.3M125.6 287.26h1.3M127.7 287.26h1.3M129.8 287.26h1.3M131.9 287.26h1.3M134 287.26h1.3M136.1 287.26h1.3M138.2 287.26h1.3M140.3 287.26h1.3M142.4 287.26h1.3M144.5 287.26h1.3M146.6 287.26h1.3M148.7 287.26h1.3M125.6 289.37h1.3M127.7 289.37h1.3M129.8 289.37h1.3M131.9 289.37h1.3M134 289.37h1.3M136.1 289.37h1.3M138.2 289.37h1.3M140.3 289.37h1.3M142.4 289.37h1.3M144.5 289.37h1.3M148.7 289.37h1.3M125.6 291.49h1.3M127.7 291.49h1.3M129.8 291.49h1.3M131.9 291.49h1.3M134 291.49h1.3M136.1 291.49h1.3M138.2 291.49h1.3M140.3 291.49h1.3M142.4 291.49h1.3M144.5 291.49h1.3M146.6 291.49h1.3M148.7 291.49h1.3M125.6 293.6h1.3M127.7 293.6h1.3M129.8 293.6h1.3M131.9 293.6h1.3M134 293.6h1.3M136.1 293.6h1.3M138.2 293.6h1.3M140.3 293.6h1.3M142.4 293.6h1.3M144.5 293.6h1.3M146.6 293.6h1.3M148.7 293.6h1.3M127.7 295.71h1.3M129.8 295.71h1.3M131.9 295.71h1.3M134 295.71h1.3M136.1 295.71h1.3M138.2 295.71h1.3M140.3 295.71h1.3M142.4 295.71h1.3M144.5 295.71h1.3M146.6 295.71h1.3M148.7 295.71h1.3M125.6 297.83h1.3M127.7 297.83h1.3M129.8 297.83h1.3M131.9 297.83h1.3M134 297.83h1.3M136.1 297.83h1.3M138.2 297.83h1.3M140.3 297.83h1.3M142.4 297.83h1.3M144.5 297.83h1.3M146.6 297.83h1.3M148.7 297.83h1.3M125.6 299.94h1.3M127.7 299.94h1.3M129.8 299.94h1.3M131.9 299.94h1.3M134 299.94h1.3M136.1 299.94h1.3M138.2 299.94h1.3M140.3 299.94h1.3M142.4 299.94h1.3M144.5 299.94h1.3M146.6 299.94h1.3M148.7 299.94h1.3M125.6 302.06h1.3M127.7 302.06h1.3M129.8 302.06h1.3M131.9 302.06h1.3M134 302.06h1.3M136.1 302.06h1.3M138.2 302.06h1.3M140.3 302.06h1.3M142.4 302.06h1.3M144.5 302.06h1.3M146.6 302.06h1.3M148.7 302.06h1.3M127.7 304.19h1.3M134 304.19h1.3M138.2 304.19h1.3M140.3 304.19h1.3M142.4 304.19h1.3M144.5 304.19h1.3M146.6 304.19h1.3M128.75 306.35h1.3M130.85 306.35h1.3M132.95 306.35h1.3M135.05 306.35h1.3M137.15 306.35h1.3M139.25 306.35h1.3M141.35 306.35h1.3M145.55 306.35h1.3M129.8 308.51h1.3M131.9 308.51h1.3M134 308.51h1.3M138.2 308.51h1.3M132.95 310.67h1.3M135.05 310.67h1.3M137.15 310.67h1.3M141.35 310.67h1.3M143.45 310.67h1.3M137.15 312.86h1.3M141.35 312.86h1.3M135.05 315.07h1.3M139.25 315.07h1.3M141.35 315.07h1.3M132.95 317.29h1.3M135.05 317.29h1.3M137.15 317.29h1.3M139.25 317.29h1.3M134 319.5h1.3M136.1 319.5h1.3M138.2 319.5h1.3M134 321.72h1.3M136.1 321.72h1.3M138.2 321.72h1.3M140.3 321.72h1.3M135.05 323.94h1.3M137.15 323.94h1.3M139.25 323.94h1.3M138.2 326.17h1.3M136.1 328.43h1.3M136.1 330.69h1.3M138.2 330.69h1.3M136.1 332.95h1.3M138.2 332.95h1.3M136.1 335.21h1.3M137.15 344.98h1.3" stroke="#4a4a4a" stroke-width="1.3"/>
<path d="M174.7 245.63h1.6M174.7 247.63h1.6M174.7 259.53h1.6M173.55 261.42h1.6M173.55 263.3h1.6M173.55 265.18h1.6M175.85 267.06h1.6M173.55 268.95h1.6M175.85 268.95h1.6M170.1 270.78h1.6M172.4 270.78h1.6M174.7 270.78h1.6M170.1 272.55h1.6M172.4 272.55h1.6M177 272.55h1.6M179.3 272.55h1.6M168.95 274.32h1.6M171.25 274.32h1.6M173.55 274.32h1.6M175.85 274.32h1.6M178.15 274.32h1.6M180.45 274.32h1.6M166.65 276.2h1.6M168.95 276.2h1.6M175.85 276.2h1.6M180.45 276.2h1.6M182.75 276.2h1.6M185.05 276.2h1.6M166.65 278.2h1.6M168.95 278.2h1.6M171.25 278.2h1.6M173.55 278.2h1.6M178.15 278.2h1.6M180.45 278.2h1.6M182.75 278.2h1.6M185.05 278.2h1.6M166.65 280.19h1.6M168.95 280.19h1.6M171.25 280.19h1.6M173.55 280.19h1.6M178.15 280.19h1.6M180.45 280.19h1.6M182.75 280.19h1.6M164.35 282.18h1.6M168.95 282.18h1.6M171.25 282.18h1.6M173.55 282.18h1.6M178.15 282.18h1.6M180.45 282.18h1.6M182.75 282.18h1.6M185.05 282.18h1.6M164.35 284.18h1.6M171.25 284.18h1.6M173.55 284.18h1.6M175.85 284.18h1.6M182.75 284.18h1.6M185.05 284.18h1.6M163.2 286h1.6M167.8 286h1.6M170.1 286h1.6M172.4 286h1.6M174.7 286h1.6M177 286h1.6M179.3 286h1.6M181.6 286h1.6M183.9 286h1.6M186.2 286h1.6M163.2 287.66h1.6M165.5 287.66h1.6M167.8 287.66h1.6M170.1 287.66h1.6M172.4 287.66h1.6M174.7 287.66h1.6M177 287.66h1.6M179.3 287.66h1.6M181.6 287.66h1.6M183.9 287.66h1.6M186.2 287.66h1.6M171.25 289.49h1.6M173.55 289.49h1.6M175.85 289.49h1.6M178.15 289.49h1.6M180.45 289.49h1.6M182.75 289.49h1.6M185.05 289.49h1.6M166.65 291.49h1.6M171.25 291.49h1.6M173.55 291.49h1.6M175.85 291.49h1.6M178.15 291.49h1.6M180.45 291.49h1.6M182.75 291.49h1.6M185.05 291.49h1.6M164.35 293.48h1.6M168.95 293.48h1.6M171.25 293.48h1.6M175.85 293.48h1.6M178.15 293.48h1.6M182.75 293.48h1.6M185.05 293.48h1.6M164.35 295.47h1.6M166.65 295.47h1.6M168.95 295.47h1.6M171.25 295.47h1.6M175.85 295.47h1.6M178.15 295.47h1.6M180.45 295.47h1.6M182.75 295.47h1.6M185.05 295.47h1.6M164.35 297.47h1.6M168.95 297.47h1.6M171.25 297.47h1.6M173.55 297.47h1.6M175.85 297.47h1.6M178.15 297.47h1.6M180.45 297.47h1.6M182.75 297.47h1.6M185.05 297.47h1.6M171.25 299.46h1.6M173.55 299.46h1.6M175.85 299.46h1.6M178.15 299.46h1.6M171.25 301.45h1.6M173.55 301.45h1.6M175.85 301.45h1.6M173.55 303.45h1.6M175.85 303.45h1.6M178.15 303.45h1.6M171.25 305.44h1.6M173.55 305.44h1.6M178.15 305.44h1.6M173.55 307.43h1.6M175.85 307.43h1.6M178.15 307.43h1.6M174.7 319.23h1.6M174.7 320.89h1.6" stroke="#33d11f" stroke-width="1.6"/>
<line x1="62.4" y1="296.87" x2="62.4" y2="336.47" stroke="#2a2a2a" stroke-width="0.9"/>
<line x1="50.25" y1="316.94" x2="74.55" y2="316.94" stroke="#2a2a2a" stroke-width="0.9"/>
<line x1="56" y1="296.87" x2="68.8" y2="296.87" stroke="#2a2a2a" stroke-width="0.9"/>
<line x1="56" y1="336.47" x2="68.8" y2="336.47" stroke="#2a2a2a" stroke-width="0.9"/>
<line x1="100.1" y1="284.51" x2="100.1" y2="319.06" stroke="#2a2a2a" stroke-width="0.9"/>
<line x1="87.7" y1="301.79" x2="112.5" y2="301.79" stroke="#2a2a2a" stroke-width="0.9"/>
<line x1="93.75" y1="284.51" x2="106.45" y2="284.51" stroke="#2a2a2a" stroke-width="0.9"/>
<line x1="93.75" y1="319.06" x2="106.45" y2="319.06" stroke="#2a2a2a" stroke-width="0.9"/>
<line x1="137.8" y1="282.51" x2="137.8" y2="310.42" stroke="#2a2a2a" stroke-width="0.9"/>
<line x1="124.9" y1="295.87" x2="150.7" y2="295.87" stroke="#2a2a2a" stroke-width="0.9"/>
<line x1="131.8" y1="282.51" x2="143.8" y2="282.51" stroke="#2a2a2a" stroke-width="0.9"/>
<line x1="131.8" y1="310.42" x2="143.8" y2="310.42" stroke="#2a2a2a" stroke-width="0.9"/>
<line x1="175.5" y1="273.88" x2="175.5" y2="299.99" stroke="#2a2a2a" stroke-width="0.9"/>
<line x1="162.8" y1="286.83" x2="188.2" y2="286.83" stroke="#2a2a2a" stroke-width="0.9"/>
<line x1="169.1" y1="273.88" x2="181.9" y2="273.88" stroke="#2a2a2a" stroke-width="0.9"/>
<line x1="169.1" y1="299.99" x2="181.9" y2="299.99" stroke="#2a2a2a" stroke-width="0.9"/>
<text x="81" y="251.6" font-size="8" text-anchor="middle" fill="#1a1a1a"><tspan font-style="italic">P</tspan> = 0.0023</text>
<line x1="62.4" y1="255" x2="100.1" y2="255" stroke="#555" stroke-width="0.9"/>
<text x="157.5" y="226" font-size="8" text-anchor="middle" fill="#1a1a1a"><tspan font-style="italic">P</tspan> &lt; 0.0001</text>
<line x1="138.4" y1="229.4" x2="176.1" y2="229.4" stroke="#555" stroke-width="0.9"/>
<text x="63.5" y="266.5" font-size="8" text-anchor="middle" fill="#1a1a1a">(n = 82)</text>
<text x="102.2" y="264.4" font-size="8" text-anchor="middle" fill="#1a1a1a">(n = 38)</text>
<text x="138" y="246.3" font-size="8" text-anchor="middle" fill="#1a1a1a">(n = 195)</text>
<text x="174.4" y="239" font-size="8" text-anchor="middle" fill="#1a1a1a">(n = 91)</text>
<rect x="271.75" y="304.65" width="22.5" height="44.75" fill="#63a9f8"/>
<line x1="283" y1="339.02" x2="283" y2="269.3" stroke="#222" stroke-width="0.9"/>
<line x1="277.6" y1="339.02" x2="288.4" y2="339.02" stroke="#222" stroke-width="0.9"/>
<line x1="277.6" y1="269.3" x2="288.4" y2="269.3" stroke="#222" stroke-width="0.9"/>
<rect x="306.25" y="282.27" width="22.5" height="67.13" fill="#f0a04a"/>
<line x1="317.5" y1="309.51" x2="317.5" y2="254.06" stroke="#222" stroke-width="0.9"/>
<line x1="312.1" y1="309.51" x2="322.9" y2="309.51" stroke="#222" stroke-width="0.9"/>
<line x1="312.1" y1="254.06" x2="322.9" y2="254.06" stroke="#222" stroke-width="0.9"/>
<rect x="340.75" y="270.92" width="22.5" height="78.48" fill="#7b7b7b"/>
<line x1="352" y1="294.27" x2="352" y2="246.92" stroke="#222" stroke-width="0.9"/>
<line x1="346.6" y1="294.27" x2="357.4" y2="294.27" stroke="#222" stroke-width="0.9"/>
<line x1="346.6" y1="246.92" x2="357.4" y2="246.92" stroke="#222" stroke-width="0.9"/>
<rect x="374.95" y="259.24" width="22.5" height="90.16" fill="#45e020"/>
<line x1="386.2" y1="273.51" x2="386.2" y2="244.65" stroke="#222" stroke-width="0.9"/>
<line x1="380.8" y1="273.51" x2="391.6" y2="273.51" stroke="#222" stroke-width="0.9"/>
<line x1="380.8" y1="244.65" x2="391.6" y2="244.65" stroke="#222" stroke-width="0.9"/>
<line x1="260.4" y1="219.68" x2="260.4" y2="349.4" stroke="#3a3a3a" stroke-width="0.8"/>
<line x1="257.9" y1="349.4" x2="260.4" y2="349.4" stroke="#3a3a3a" stroke-width="0.8"/>
<text x="254.5" y="352.6" font-size="8.2" text-anchor="end" fill="#1a1a1a">0</text>
<line x1="257.9" y1="316.97" x2="260.4" y2="316.97" stroke="#3a3a3a" stroke-width="0.8"/>
<text x="254.5" y="320.17" font-size="8.2" text-anchor="end" fill="#1a1a1a">1</text>
<line x1="257.9" y1="284.54" x2="260.4" y2="284.54" stroke="#3a3a3a" stroke-width="0.8"/>
<text x="254.5" y="287.74" font-size="8.2" text-anchor="end" fill="#1a1a1a">2</text>
<line x1="257.9" y1="252.11" x2="260.4" y2="252.11" stroke="#3a3a3a" stroke-width="0.8"/>
<text x="254.5" y="255.31" font-size="8.2" text-anchor="end" fill="#1a1a1a">3</text>
<line x1="257.9" y1="219.68" x2="260.4" y2="219.68" stroke="#3a3a3a" stroke-width="0.8"/>
<text x="254.5" y="222.88" font-size="8.2" text-anchor="end" fill="#1a1a1a">4</text>
<line x1="260.4" y1="349.4" x2="410" y2="349.4" stroke="#3a3a3a" stroke-width="0.8"/>
<line x1="283" y1="349.4" x2="283" y2="352.4" stroke="#3a3a3a" stroke-width="0.8"/>
<line x1="317.5" y1="349.4" x2="317.5" y2="352.4" stroke="#3a3a3a" stroke-width="0.8"/>
<line x1="352" y1="349.4" x2="352" y2="352.4" stroke="#3a3a3a" stroke-width="0.8"/>
<line x1="386.2" y1="349.4" x2="386.2" y2="352.4" stroke="#3a3a3a" stroke-width="0.8"/>
<text x="241" y="285" font-size="7.9" text-anchor="middle" fill="#1a1a1a" transform="rotate(-90 241 285)">Staining-Scroe</text>
<text x="287" y="360" font-size="7.7" text-anchor="end" fill="#1a1a1a" transform="rotate(-45 287 360)">Normal</text>
<text x="321.5" y="360" font-size="7.7" text-anchor="end" fill="#1a1a1a" transform="rotate(-45 321.5 360)">Grade 1</text>
<text x="356" y="360" font-size="7.7" text-anchor="end" fill="#1a1a1a" transform="rotate(-45 356 360)">Grade 2</text>
<text x="390.2" y="360" font-size="7.7" text-anchor="end" fill="#1a1a1a" transform="rotate(-45 390.2 360)">Grade 3</text>
<text x="302.4" y="233.5" font-size="7.8" text-anchor="middle" fill="#1a1a1a"><tspan font-style="italic">P</tspan> = 0.0208</text>
<line x1="283" y1="237.2" x2="318.6" y2="237.2" stroke="#555" stroke-width="0.9"/>
<text x="368.9" y="220.8" font-size="7.8" text-anchor="middle" fill="#1a1a1a"><tspan font-style="italic">P</tspan> = 0.0025</text>
<line x1="349.9" y1="224" x2="386.7" y2="224" stroke="#555" stroke-width="0.9"/>
<text x="289" y="263.5" font-size="7.8" text-anchor="middle" fill="#1a1a1a">(n = 82)</text>
<text x="317.7" y="248.5" font-size="7.8" text-anchor="middle" fill="#1a1a1a">(n = 38)</text>
<text x="351" y="239.5" font-size="7.8" text-anchor="middle" fill="#1a1a1a">(n = 195)</text>
<text x="386.7" y="235" font-size="7.8" text-anchor="middle" fill="#1a1a1a">(n = 91)</text>
<line x1="37.9" y1="429.7" x2="37.9" y2="581.3" stroke="#3a3a3a" stroke-width="0.8"/>
<line x1="35.4" y1="581.3" x2="37.9" y2="581.3" stroke="#3a3a3a" stroke-width="0.8"/>
<text x="32.2" y="584.5" font-size="8.2" text-anchor="end" fill="#1a1a1a">0</text>
<line x1="35.4" y1="543.4" x2="37.9" y2="543.4" stroke="#3a3a3a" stroke-width="0.8"/>
<text x="32.2" y="546.6" font-size="8.2" text-anchor="end" fill="#1a1a1a">50</text>
<line x1="35.4" y1="505.5" x2="37.9" y2="505.5" stroke="#3a3a3a" stroke-width="0.8"/>
<text x="32.2" y="508.7" font-size="8.2" text-anchor="end" fill="#1a1a1a">100</text>
<line x1="35.4" y1="467.6" x2="37.9" y2="467.6" stroke="#3a3a3a" stroke-width="0.8"/>
<text x="32.2" y="470.8" font-size="8.2" text-anchor="end" fill="#1a1a1a">150</text>
<line x1="35.4" y1="429.7" x2="37.9" y2="429.7" stroke="#3a3a3a" stroke-width="0.8"/>
<text x="32.2" y="432.9" font-size="8.2" text-anchor="end" fill="#1a1a1a">200</text>
<line x1="37.9" y1="581.3" x2="204.6" y2="581.3" stroke="#3a3a3a" stroke-width="0.8"/>
<line x1="63.3" y1="581.3" x2="63.3" y2="584.3" stroke="#3a3a3a" stroke-width="0.8"/>
<line x1="102.1" y1="581.3" x2="102.1" y2="584.3" stroke="#3a3a3a" stroke-width="0.8"/>
<line x1="140.7" y1="581.3" x2="140.7" y2="584.3" stroke="#3a3a3a" stroke-width="0.8"/>
<line x1="179.2" y1="581.3" x2="179.2" y2="584.3" stroke="#3a3a3a" stroke-width="0.8"/>
<text x="16" y="497.8" font-size="7.8" text-anchor="middle" fill="#1a1a1a" transform="rotate(-90 16 497.8)">H-Scroe</text>
<text x="64.5" y="592.6" font-size="8" text-anchor="end" fill="#1a1a1a" transform="rotate(-45 64.5 592.6)">Luminal A</text>
<text x="103.3" y="592.6" font-size="8" text-anchor="end" fill="#1a1a1a" transform="rotate(-45 103.3 592.6)">Luminal B</text>
<text x="141.9" y="592.6" font-size="8" text-anchor="end" fill="#1a1a1a" transform="rotate(-45 141.9 592.6)">Her2</text>
<text x="180.4" y="592.6" font-size="8" text-anchor="end" fill="#1a1a1a" transform="rotate(-45 180.4 592.6)">Triple-negative</text>
<path d="M62.4 467.6h1.8M62.4 493.37h1.8M61.2 496.4h1.8M63.6 496.4h1.8M57.6 499.18h1.8M64.8 499.18h1.8M67.2 499.18h1.8M57.6 501.71h1.8M60 501.71h1.8M62.4 501.71h1.8M64.8 501.71h1.8M67.2 501.71h1.8M58.8 504.24h1.8M61.2 504.24h1.8M63.6 504.24h1.8M57.6 506.76h1.8M60 506.76h1.8M62.4 506.76h1.8M64.8 506.76h1.8M67.2 506.76h1.8M55.2 509.29h1.8M57.6 509.29h1.8M62.4 509.29h1.8M67.2 509.29h1.8M69.6 509.29h1.8M55.2 511.82h1.8M57.6 511.82h1.8M60 511.82h1.8M62.4 511.82h1.8M67.2 511.82h1.8M55.2 514.34h1.8M67.2 514.34h1.8M55.2 516.87h1.8M57.6 516.87h1.8M62.4 516.87h1.8M69.6 516.87h1.8M55.2 519.4h1.8M57.6 519.4h1.8M60 519.4h1.8M64.8 519.4h1.8M67.2 519.4h1.8M69.6 519.4h1.8M60 521.92h1.8M62.4 521.92h1.8M64.8 521.92h1.8M69.6 521.92h1.8M55.2 524.45h1.8M57.6 524.45h1.8M62.4 524.45h1.8M64.8 524.45h1.8M67.2 524.45h1.8M55.2 526.98h1.8M57.6 526.98h1.8M60 526.98h1.8M62.4 526.98h1.8M64.8 526.98h1.8M57.6 529.38h1.8M60 529.38h1.8M62.4 529.38h1.8M57.6 531.65h1.8M64.8 531.65h1.8M57.6 533.92h1.8M60 533.92h1.8M62.4 533.92h1.8M67.2 533.92h1.8M57.6 536.2h1.8M64.8 536.2h1.8M58.8 538.57h1.8M61.2 538.57h1.8M63.6 538.57h1.8M66 538.57h1.8M58.8 541.03h1.8M61.2 541.03h1.8M63.6 541.03h1.8M63.6 543.49h1.8M66 543.49h1.8M62.4 545.96h1.8M60 548.42h1.8M62.4 548.42h1.8M61.2 553.35h1.8M63.6 553.35h1.8M62.4 555.81h1.8" stroke="#4a97ef" stroke-width="1.8"/>
<path d="M101.2 482.76h1.8M101.2 490.85h1.8M101.2 493.37h1.8M95.2 499.06h1.8M97.6 499.06h1.8M102.4 499.06h1.8M107.2 499.06h1.8M97.6 501.33h1.8M97.6 503.6h1.8M104.8 503.6h1.8M107.2 503.6h1.8M103.6 508.15h1.8M96.4 510.43h1.8M106 510.43h1.8M101.2 512.7h1.8M103.6 512.7h1.8M106 512.7h1.8M96.4 514.97h1.8M101.2 514.97h1.8M103.6 514.97h1.8M106 514.97h1.8M102.4 517.29h1.8M104.8 517.29h1.8M97.6 519.65h1.8M100 519.65h1.8M102.4 519.65h1.8M104.8 519.65h1.8M97.6 522.01h1.8M102.4 522.01h1.8M104.8 522.01h1.8M101.2 524.37h1.8M103.6 524.37h1.8M98.8 526.72h1.8M98.8 529.08h1.8M101.2 529.08h1.8M103.6 529.08h1.8M101.2 531.44h1.8M103.6 531.44h1.8M98.8 533.8h1.8M101.2 533.8h1.8M103.6 533.8h1.8M98.8 536.16h1.8M101.2 536.16h1.8M103.6 536.16h1.8M102.4 542.39h1.8M100 544.92h1.8M102.4 544.92h1.8M101.2 547.44h1.8M101.2 578.65h1.8" stroke="#f39a3c" stroke-width="1.8"/>
<path d="M139.95 470.63h1.5M139.95 479.73h1.5M141.15 499.06h1.5M137.55 501.33h1.5M139.95 501.33h1.5M142.35 501.33h1.5M137.55 503.6h1.5M139.95 503.6h1.5M142.35 503.6h1.5M137.55 505.88h1.5M139.95 505.88h1.5M142.35 505.88h1.5M133.95 508.2h1.5M138.75 508.2h1.5M141.15 508.2h1.5M145.95 508.2h1.5M133.95 510.55h1.5M133.95 512.91h1.5M138.75 512.91h1.5M145.95 512.91h1.5M133.95 515.27h1.5M136.35 515.27h1.5M143.55 515.27h1.5M135.15 517.63h1.5M137.55 517.63h1.5M139.95 517.63h1.5M144.75 517.63h1.5M135.15 519.99h1.5M137.55 519.99h1.5M139.95 519.99h1.5M142.35 519.99h1.5M137.55 522.34h1.5M139.95 522.34h1.5M142.35 522.34h1.5M144.75 522.34h1.5M137.55 524.7h1.5M139.95 524.7h1.5M142.35 524.7h1.5M139.95 527.06h1.5M142.35 527.06h1.5M135.15 529.38h1.5M139.95 529.38h1.5M144.75 529.38h1.5M133.95 531.65h1.5M136.35 531.65h1.5M136.35 533.92h1.5M143.55 533.92h1.5M133.95 536.2h1.5M136.35 536.2h1.5M138.75 536.2h1.5M141.15 536.2h1.5M143.55 536.2h1.5M141.15 538.57h1.5M138.75 541.03h1.5M141.15 541.03h1.5M139.95 543.49h1.5M139.95 545.96h1.5M139.95 560.45h1.5" stroke="#4a4a4a" stroke-width="1.5"/>
<path d="M178.3 463.81h1.8M178.3 486.4h1.8M178.3 491.25h1.8M178.3 493.68h1.8M174.7 505.18h1.8M179.5 505.18h1.8M178.3 507.56h1.8M173.5 509.94h1.8M183.1 509.94h1.8M172.3 512.32h1.8M177.1 512.32h1.8M184.3 512.32h1.8M172.3 514.7h1.8M174.7 514.7h1.8M179.5 514.7h1.8M171.1 517.09h1.8M175.9 517.09h1.8M178.3 517.09h1.8M175.9 519.47h1.8M183.1 519.47h1.8M185.5 519.47h1.8M177.1 521.84h1.8M179.5 521.84h1.8M177.1 524.21h1.8M179.5 526.58h1.8M177.1 528.95h1.8M179.5 531.32h1.8M177.1 533.69h1.8M177.1 536.06h1.8M179.5 538.43h1.8M178.3 546.91h1.8M180.7 546.91h1.8M178.3 549.37h1.8M180.7 549.37h1.8M175.9 551.83h1.8M178.3 551.83h1.8M175.9 554.3h1.8M178.3 554.3h1.8M180.7 554.3h1.8" stroke="#33d11f" stroke-width="1.8"/>
<line x1="63.3" y1="502.47" x2="63.3" y2="535.82" stroke="#2a2a2a" stroke-width="0.9"/>
<line x1="50.55" y1="519.14" x2="76.05" y2="519.14" stroke="#2a2a2a" stroke-width="0.9"/>
<line x1="56.95" y1="502.47" x2="69.65" y2="502.47" stroke="#2a2a2a" stroke-width="0.9"/>
<line x1="56.95" y1="535.82" x2="69.65" y2="535.82" stroke="#2a2a2a" stroke-width="0.9"/>
<line x1="102.1" y1="498.3" x2="102.1" y2="535.06" stroke="#2a2a2a" stroke-width="0.9"/>
<line x1="89.4" y1="516.49" x2="114.8" y2="516.49" stroke="#2a2a2a" stroke-width="0.9"/>
<line x1="95.6" y1="498.3" x2="108.6" y2="498.3" stroke="#2a2a2a" stroke-width="0.9"/>
<line x1="95.6" y1="535.06" x2="108.6" y2="535.06" stroke="#2a2a2a" stroke-width="0.9"/>
<line x1="140.7" y1="504.74" x2="140.7" y2="536.58" stroke="#2a2a2a" stroke-width="0.9"/>
<line x1="127.85" y1="520.28" x2="153.55" y2="520.28" stroke="#2a2a2a" stroke-width="0.9"/>
<line x1="134.2" y1="504.74" x2="147.2" y2="504.74" stroke="#2a2a2a" stroke-width="0.9"/>
<line x1="134.2" y1="536.58" x2="147.2" y2="536.58" stroke="#2a2a2a" stroke-width="0.9"/>
<line x1="179.2" y1="498.3" x2="179.2" y2="539.61" stroke="#2a2a2a" stroke-width="0.9"/>
<line x1="166.35" y1="519.14" x2="192.05" y2="519.14" stroke="#2a2a2a" stroke-width="0.9"/>
<line x1="172.7" y1="498.3" x2="185.7" y2="498.3" stroke="#2a2a2a" stroke-width="0.9"/>
<line x1="172.7" y1="539.61" x2="185.7" y2="539.61" stroke="#2a2a2a" stroke-width="0.9"/>
<text x="123" y="428.6" font-size="7.8" text-anchor="middle" fill="#1a1a1a"><tspan font-style="italic">P</tspan> = 0.8068</text>
<line x1="60.4" y1="434.2" x2="178.9" y2="434.2" stroke="#333" stroke-width="0.8"/>
<text x="65.2" y="457.6" font-size="7.8" text-anchor="middle" fill="#1a1a1a">(n = 72)</text>
<text x="103.4" y="457.6" font-size="7.8" text-anchor="middle" fill="#1a1a1a">(n = 43)</text>
<text x="141.9" y="457.6" font-size="7.8" text-anchor="middle" fill="#1a1a1a">(n = 43)</text>
<text x="180.5" y="457.6" font-size="7.8" text-anchor="middle" fill="#1a1a1a">(n = 35)</text>
<rect x="274.25" y="488.01" width="23.5" height="93.39" fill="#63a9f8"/>
<line x1="286" y1="513.17" x2="286" y2="462.08" stroke="#222" stroke-width="0.9"/>
<line x1="279.75" y1="513.17" x2="292.25" y2="513.17" stroke="#222" stroke-width="0.9"/>
<line x1="279.75" y1="462.08" x2="292.25" y2="462.08" stroke="#222" stroke-width="0.9"/>
<rect x="310.75" y="484.19" width="23.5" height="97.21" fill="#f0a04a"/>
<line x1="322.5" y1="512.02" x2="322.5" y2="455.99" stroke="#222" stroke-width="0.9"/>
<line x1="316.25" y1="512.02" x2="328.75" y2="512.02" stroke="#222" stroke-width="0.9"/>
<line x1="316.25" y1="455.99" x2="328.75" y2="455.99" stroke="#222" stroke-width="0.9"/>
<rect x="347.05" y="486.86" width="23.5" height="94.54" fill="#7b7b7b"/>
<line x1="358.8" y1="508.97" x2="358.8" y2="463.99" stroke="#222" stroke-width="0.9"/>
<line x1="352.55" y1="508.97" x2="365.05" y2="508.97" stroke="#222" stroke-width="0.9"/>
<line x1="352.55" y1="463.99" x2="365.05" y2="463.99" stroke="#222" stroke-width="0.9"/>
<rect x="383.25" y="490.29" width="23.5" height="91.11" fill="#45e020"/>
<line x1="395" y1="519.65" x2="395" y2="460.18" stroke="#222" stroke-width="0.9"/>
<line x1="388.75" y1="519.65" x2="401.25" y2="519.65" stroke="#222" stroke-width="0.9"/>
<line x1="388.75" y1="460.18" x2="401.25" y2="460.18" stroke="#222" stroke-width="0.9"/>
<line x1="261" y1="428.92" x2="261" y2="581.4" stroke="#3a3a3a" stroke-width="0.8"/>
<line x1="258.5" y1="581.4" x2="261" y2="581.4" stroke="#3a3a3a" stroke-width="0.8"/>
<text x="254.2" y="584.6" font-size="8.2" text-anchor="end" fill="#1a1a1a">0</text>
<line x1="258.5" y1="543.28" x2="261" y2="543.28" stroke="#3a3a3a" stroke-width="0.8"/>
<text x="254.2" y="546.48" font-size="8.2" text-anchor="end" fill="#1a1a1a">1</text>
<line x1="258.5" y1="505.16" x2="261" y2="505.16" stroke="#3a3a3a" stroke-width="0.8"/>
<text x="254.2" y="508.36" font-size="8.2" text-anchor="end" fill="#1a1a1a">2</text>
<line x1="258.5" y1="467.04" x2="261" y2="467.04" stroke="#3a3a3a" stroke-width="0.8"/>
<text x="254.2" y="470.24" font-size="8.2" text-anchor="end" fill="#1a1a1a">3</text>
<line x1="258.5" y1="428.92" x2="261" y2="428.92" stroke="#3a3a3a" stroke-width="0.8"/>
<text x="254.2" y="432.12" font-size="8.2" text-anchor="end" fill="#1a1a1a">4</text>
<line x1="261" y1="581.4" x2="419.9" y2="581.4" stroke="#3a3a3a" stroke-width="0.8"/>
<line x1="286" y1="581.4" x2="286" y2="584.4" stroke="#3a3a3a" stroke-width="0.8"/>
<line x1="322.5" y1="581.4" x2="322.5" y2="584.4" stroke="#3a3a3a" stroke-width="0.8"/>
<line x1="358.8" y1="581.4" x2="358.8" y2="584.4" stroke="#3a3a3a" stroke-width="0.8"/>
<line x1="395" y1="581.4" x2="395" y2="584.4" stroke="#3a3a3a" stroke-width="0.8"/>
<text x="241.9" y="504" font-size="7.9" text-anchor="middle" fill="#1a1a1a" transform="rotate(-90 241.9 504)">Staining-Scroe</text>
<text x="288.2" y="593.8" font-size="8" text-anchor="end" fill="#1a1a1a" transform="rotate(-45 288.2 593.8)">Luminal A</text>
<text x="324.7" y="593.8" font-size="8" text-anchor="end" fill="#1a1a1a" transform="rotate(-45 324.7 593.8)">Luminal B</text>
<text x="361" y="593.8" font-size="8" text-anchor="end" fill="#1a1a1a" transform="rotate(-45 361 593.8)">Her2</text>
<text x="397.2" y="593.8" font-size="8" text-anchor="end" fill="#1a1a1a" transform="rotate(-45 397.2 593.8)">Triple-negative</text>
<text x="337" y="430" font-size="7.8" text-anchor="middle" fill="#1a1a1a"><tspan font-style="italic">P</tspan> &gt; 0.9999</text>
<line x1="286.6" y1="434.3" x2="394.7" y2="434.3" stroke="#333" stroke-width="0.8"/>
<text x="283.2" y="447.6" font-size="7.8" text-anchor="middle" fill="#1a1a1a">(n = 72)</text>
<text x="321.5" y="447.6" font-size="7.8" text-anchor="middle" fill="#1a1a1a">(n = 43)</text>
<text x="360" y="447.6" font-size="7.8" text-anchor="middle" fill="#1a1a1a">(n = 43)</text>
<text x="398.4" y="447.6" font-size="7.8" text-anchor="middle" fill="#1a1a1a">(n = 35)</text>
<g clip-path="url(#cn)"><g filter="url(#soft)">
<rect x="440.8" y="219.8" width="116.2" height="76.6" fill="#dfe2ea"/>
<path d="M439.74 231.88l4.98 -6.93M482.21 269.59l8.47 5.19M453.35 220.31l7.13 16.2M460 283.12l15.48 -10.57M454.41 267.86l7.04 17.34M515.38 236.25l4.73 -11.98M497.33 257.46l11.43 -6.72M486.42 300.81l4.64 -9.38M448.56 217.57l6.12 7.59M545.82 249.47l8.36 2.39M459.88 248.81l7.97 -7.42M474.61 297.56l17.18 -9.2M459.99 237l10.51 -1.16M499.92 261.2l17.7 1.06M541.9 286.43l19.46 -4.78M475.5 231.54l13.23 7.76M531.75 291.9l12.48 7.31M439.78 281.78l9.09 -11.34M537.96 266.58l7.49 6.21M461.85 272.68l8.66 16.27M516.94 232.94l17.33 3.42M511.91 232.67l6.71 7.85M440.86 246.42l9.5 -1.76M474.88 251.58l9.55 -2.86M509.91 284.96l12.1 -2.23M543.57 293.68l17.86 1.82M551.82 276.71l8.85 7.18M470.02 226.75l12.75 13.12M509.21 260.44l8.13 2.34M510.64 232.67l17.07 -11.41M459.3 286.59l7.8 7.52M504.32 274.63l12.72 -3.13M442.58 253.09l18.67 -5.43M542.42 273l8.26 -6.93M550.35 231.9l11.37 5.97M488.46 277.08l10.37 8.09M488.82 282.8l7.3 -5.14M497.7 229.26l16.73 -0.84M448.65 288.54l7.28 13.11M450.43 238.84l8.46 -8.34M475.52 274.63l8.46 -0.36M533.98 256.63l12.14 -0.78M497.3 283.99l2.77 -7.59M467.72 244.41l10.76 7.84M508.74 263.37l6.51 10.32" stroke="#eceef3" stroke-width="1.3" stroke-linecap="round" fill="none" opacity="0.9"/>
<path d="M501.83 248.96l12.6 3.49M526.82 231.81l8.57 11.71M505.51 283.36l11.22 2.57M497.93 248.02l11.46 -7.46M447.58 260.09l8.75 7.38M456.66 247.77l11.88 1.24M500.93 285.21l5.8 13.35M516.87 263.28l4.36 -7.4M536.58 248.03l7.93 -9.19M478.01 272.16l15.67 -0.97M501.15 232.81l8.1 7.94M483.81 288.51l9.43 -11.27M465.22 277.57l7.48 -7.41M443.08 297.07l6.62 -8.28M513.36 247.15l13.86 -5.1M552.26 276.73l5.58 8.17M441.41 241.59l13.11 -5.55M492.87 294.13l10.14 4.27M454.67 226.51l4.97 -6.12M472.19 228.59l9.88 -10.71M482.85 257.46l10.93 7.18M486.44 232.82l11.08 -4.38M437.92 276.6l11.15 9.39M490.04 253.8l3.79 5.54M490.97 275.36l10.76 -6.09M543.33 286.35l4.27 -6.39M520.64 240.46l9.31 10.6M457.05 230.01l6.72 -6.68M537.33 224.86l6.58 -1.4M504.89 293.48l4.11 -7.98M475.07 246.44l6.35 6.34M486.14 292.92l6.47 -1.55M516.52 288.15l7.55 -8.19M443.7 278.49l3.22 -5.49M491.71 247.14l2.98 6.82M529.28 272.61l12.82 7.02M539.77 279.47l13.65 -6.2M543.92 249.26l5.25 6.67M502.34 274.73l6.16 10.37M488.82 231.33l9.37 -2.02M504.91 281.24l7.83 10.6M538.75 231.48l6.41 -4.19M482.05 236.86l6.07 0.89M472.91 292.04l15.03 2.51M486.39 242.11l6.68 3.37M468.91 258.67l7.12 -10.27M511.62 243.16l14 5.77M457.38 239.15l10.12 -4.06M467.21 289.52l7.58 -0.6M456.65 280.49l7.67 -5.86M447.62 277.6l11.5 4.8M468.5 272.44l6.42 14.15M486.41 223.1l9.21 5.37M446.97 281.86l9.62 -1.58M501.53 251.64l4.49 10.77M478.53 273.05l6.39 -0.58M493.41 221.38l6.88 6.35M502.9 244.36l15.47 -1.06M535.87 261.08l6.62 1.55M525.35 226.47l10.73 5.08" stroke="#b8bcc8" stroke-width="0.6" stroke-linecap="round" fill="none" opacity="0.6"/>
<g filter="url(#bl1)">
<ellipse cx="477.8" cy="243.8" rx="11.5" ry="9.78" fill="#a2a8cc" opacity="0.8"/>
<ellipse cx="507.8" cy="238.8" rx="11" ry="9.35" fill="#a2a8cc" opacity="0.8"/>
<ellipse cx="506.3" cy="225.8" rx="8" ry="6.8" fill="#a2a8cc" opacity="0.8"/>
<ellipse cx="454.6" cy="266.3" rx="12.5" ry="10.62" fill="#a2a8cc" opacity="0.8"/>
<ellipse cx="475.3" cy="267.8" rx="10.5" ry="8.92" fill="#a2a8cc" opacity="0.8"/>
<ellipse cx="530.4" cy="259.4" rx="12.5" ry="10.62" fill="#a2a8cc" opacity="0.8"/>
<ellipse cx="548.6" cy="261.8" rx="10" ry="8.5" fill="#a2a8cc" opacity="0.8"/>
<ellipse cx="476.8" cy="285.3" rx="10" ry="8.5" fill="#a2a8cc" opacity="0.8"/>
<ellipse cx="500.8" cy="286.8" rx="9" ry="7.65" fill="#a2a8cc" opacity="0.8"/>
<ellipse cx="514.8" cy="287.8" rx="8" ry="6.8" fill="#a2a8cc" opacity="0.8"/>
<ellipse cx="525.3" cy="226.8" rx="4.5" ry="3.82" fill="#a2a8cc" opacity="0.8"/>
<ellipse cx="448.8" cy="239.8" rx="6.5" ry="5.52" fill="#a2a8cc" opacity="0.8"/>
<ellipse cx="552.8" cy="229.8" rx="4.5" ry="3.82" fill="#a2a8cc" opacity="0.8"/>
</g>
<path d="M530.55 255.11l0.98 0.37M504.17 278.18l0.91 0.8M444.01 237.79l-0.05 0.8M445.16 291.56l-0.54 0.33M521.82 267.48l-0.48 0.41M487.6 255.27l-0.87 0.32M520.05 278.84l-1.04 0.33M549.52 232.57l-0.63 0.56M480.79 291.98l-1.05 1.17M510.64 247.83l1.17 1.03M543.24 228.44l-0.05 0.91M469.81 225l0.85 0.2M519.34 256.88l-1.25 0.4M542 222.95l-0.51 0.56M454.49 262.05l-0.09 1.02M450.51 225.26l0.8 0.45M537.78 241.81l-1.01 0.26M500.88 282.81l1.23 0.37M466.28 224.12l0.63 0.02M511.54 286.42l-1.4 0.47M521.09 249.33l-0.03 1.03M546.62 281.9l-0.31 0.67M462.41 288.82l0.43 1.29M442.88 286.62l0.25 1.33M518.23 249.6l0.66 1.29M513.5 252.07l0.71 0.36M470.33 230.21l-0.01 0.91M534.42 261.85l0.36 1.47M482.71 275.61l-1.2 0.72M479.34 277.8l1.01 1.04M491.43 264.48l-0.1 1.1M491.61 262.28l0.8 1.24M484.36 292.37l-0.68 0.56M522.43 219.07l-0.26 1.5M450.01 264.25l1.28 0.44M522.7 255.43l0.08 1.24M537.68 227.45l0.41 0.9M536.92 276.38l0.33 0.68M507.26 295.46l-0.36 1.14M497.32 240.57l-0.11 0.75M443.33 282.11l-1.21 0.11M478.49 275.5l0.77 0.2M537.9 250.47l1.37 0.28M500.15 274.43l-0.04 1.29M515.3 246.84l0.33 1.53M443.08 268.09l0.28 0.76M492.64 275.73l-1.51 0.22M521.7 258.87l-0.9 0.07M452.83 229.42l0.42 0.51M475.42 256.22l0.69 1.27M456.34 260.32l0.41 0.6M469.7 274.38l-0.69 0.86M473.44 289.21l0.77 0.03M534.79 223.03l-0.98 0.79M527.09 227.85l0.43 0.73M524.1 220.18l-0.87 0.86M542.06 223.81l0.73 0.1M485.51 289.68l0.78 0.28M498.2 230.23l-0.99 0.41M459.44 294.24l-1.45 0.51M529.86 265.43l-0.93 0.25M445.93 255.21l1.11 0.72M545.35 291.24l-0.54 1.23M481.01 285.41l0.91 0.66M518.1 280.92l0.27 0.78M495.08 287.02l0.05 1.5M512.14 284.6l1.31 0.45M476.42 259.05l-0.27 0.78M481.14 224.08l-0.22 0.96M536.38 261l0.84 0.59M545.03 259.19l0.83 0.87M498.31 291.09l0.17 1.32M482.8 294.29l-0.08 0.73M508.85 291.99l0.63 1.03M485.6 225.28l0.57 0.24M526.03 273.57l-0.5 0.76M468.65 249.35l-0.67 0M509.57 272.45l0.85 0.11M514.7 279.63l0.09 0.66M550.34 230.07l-0.12 0.59M509.18 272.01l0.53 0.38M462.97 273.33l-1.45 0.35M549.38 285.3l0.91 0.38M478.98 244.29l0 0.7M551.9 219.56l0.6 0.63M510.6 252.26l0.85 1.04M468.96 281.79l0.24 0.92M465.53 249.32l-0.5 0.53M480.86 270.09l0.17 1.24M555.45 290.38l0.7 0.68M473.9 261.06l-1.02 0.21M543.42 246.54l0.94 0.62M478.17 255.33l0.35 1.22M454.87 235.32l-0.44 0.52M522.66 281.09l-0.81 0.11M459.15 233.55l0.12 1.04M490.49 243.42l0.98 0.46M546.82 290.26l-0.62 0.84M522.4 257.65l-1.08 0.27M539.81 269.85l-0.94 0.3M469.94 224.33l0.92 0.61M550.52 280.53l1.1 0.02M441.8 255.29l0.79 0.57M460.23 257.28l-0.6 1.43M488.26 237.35l0.77 0.58M485.64 270.23l1.41 0.21M543.12 258.12l-0.31 0.7M464.06 258.55l-0.14 0.6M458.1 283.93l0.4 0.6M442 241.3l1.13 0.25M480.75 222.12l-0.37 0.7M460.36 277.55l-1.28 0.55M454 229.35l-0.02 0.82M546.2 270.91l0.29 1.3M456.65 228.22l-0.55 0.59M506.4 277.36l-0.44 0.66M545.74 268.18l-0.82 0.97M527.87 266.69l-0.96 0.83M521.64 271.57l-1.25 0.23M480.23 244.54l-1.32 0.53M521.54 255.61l-0.63 0.72M457.38 284.69l0.1 0.73M490.06 277.93l-0.65 0.62M556.42 278.77l0.51 0.83M455 282.36l-1.17 0.13M490.31 287.32l-0.54 0.63M537.44 295.49l1.31 0.52M503.24 262.36l-0.99 0.72M533.73 252.82l0.4 1.49M475.74 275.45l0.61 0.36M533.33 226.1l-1.4 0.05M453.97 225.04l0.76 0.14M523.24 256.71l-1.01 0.13M492.37 291.33l0.38 0.68M477.64 268.43l-0.2 0.69M480.45 226.73l1.08 1.16M556.35 274.57l0.98 1.22M477.75 249.9l-1.1 0.69M519.42 231.25l0.69 0.82M525.7 264.62l1.27 0.2M541.99 294.1l0.73 0.72M507.79 230.31l-0.11 0.78M507.8 271.64l-1.29 0.53M528.83 241.85l-0.5 0.69M480.76 225.28l-1.17 0.07M464.55 278.33l-0.42 1.23M544.95 274.48l-0.73 0.38M529.47 241.13l-1.1 1.07M486.57 241.09l0.08 1.25M523.88 289.74l-0.65 0.27M545.16 262.69l1.13 0.38M512.99 233.8l-1.26 0.2M469.57 242.29l-0.21 1.24M451.38 250.72l1.02 0.06M528.18 275.39l-1.05 0.5M517.03 237.23l0.56 0.68M504.05 254.68l-0.2 0.63M509.04 258.05l-0.01 1.35M505.17 223.05l0.81 0.11M492.6 238.64l-0.08 0.94M549.96 231.19l0.85 0.95M554.23 260.71l0.93 1.07M527.69 228.2l1.07 0.79M543.53 229.76l-1.22 0.47M451.54 267.34l-0.53 0.91M523.15 239.66l0.85 0.19M455.47 287.45l1.22 0.49M506.23 256l1.47 0.38M544.76 286.02l-0.31 0.68M550.83 235.36l0.66 0.25M542.14 233.92l-0.91 0.03M537.6 235.65l0.81 0.41M543.97 292.07l-0.72 0.71M555.25 238.2l0.61 0.9M520.57 237.9l1 0.13M511.06 240.48l0.78 0.3M469.41 239.01l-0.41 0.46M511.75 245.78l-0.82 1.23M476.37 263.3l-0.61 0.15M553.88 250.01l0.5 0.48M557.46 242.78l-1.12 0.31M536.6 270.74l-1.04 1.09M467.1 260.41l-0.65 0.2M535.09 287.88l-0.91 0.14M510 257.82l0.74 0.84M481.77 278.69l-0.01 0.8M456.72 288.5l-0.99 0.29M459.64 250.88l0.71 0.91M509.3 223.84l1.21 0.81M514.27 258.37l-0.5 0.75M455.6 260.37l1.06 0.74M463.33 279.98l-0.59 0.56" stroke="#6a78ba" stroke-width="1.05" stroke-linecap="round" fill="none" opacity="0.75"/>
<path d="M521.35 294.41l-1.3 0.55M549.92 241.3l0.98 0.16M511.57 249.58l-1.47 0.46M521.14 292.97l-1.46 0.29M456.4 270.07l-1.51 0.18M510.36 240.69l0.7 0.22M476.56 252.87l-0.76 1.18M506.53 231.25l0.01 0.6M535.41 295.77l0.68 0.66M491.73 295.55l-1.1 0.37M503.45 287.04l0.15 0.89M467.25 255.78l-0.79 0.15M520.32 236.77l0.58 0.77M534.8 273.14l1.55 0.04M537.17 295.44l-0.12 1.31M510.96 238.53l0.3 0.72M547.83 262.97l-0.53 1.18M509.43 225.91l-1.15 0.37M532.88 269.92l0.51 1.09M510.72 249.8l0.5 0.53M481.11 248.94l1.12 0.64M469.41 257.81l0.68 0.38M482.56 264.5l-0.74 0.45M523.92 235.69l-0.88 0.48M478.05 226.49l-0.74 0.89M445.44 242.34l-0.25 0.78M449.49 283.03l-0.54 0.55M524.02 249.88l1.36 0.06M546.77 251.52l-0.24 0.62M470.35 233.74l-0.14 0.7M504.51 270.95l0.48 0.79M510.43 235l0.13 0.7M450.34 282.4l-1.16 0.4M547.08 233.06l-0.22 1.37M526.35 257.85l-0.83 1M544.2 257.47l0.89 0.37M470.29 285.25l0.32 0.56M543.95 259.95l0.22 1.13M447.18 240.46l-0.67 0.41M481.99 290.59l0.47 0.48M461.16 254.59l0.42 0.57M471.58 242.24l-0.81 0.48M512.24 266.69l1.54 0.39M480.89 258.73l1.09 0.33M555.93 242.55l0.95 0.94M539.92 241.07l0.57 0.47M553.18 268.33l-0.84 1.03M481.79 258.5l0.85 0.31M555.1 253.25l-1.13 0.76M467.95 277.97l0.82 0.84M470 259l0.76 0.35M540.48 266.2l0.47 0.56M503.08 246.19l0.39 0.84M553.65 221.23l-1.2 0.45M504.53 296.2l0.55 0.36M541.93 238.6l1.26 0.78M532.18 289.76l-0.92 0.05M488.93 261.51l-1.1 0.81M474.95 295.52l0.25 1.35M540.19 253.04l-0.88 0.02M489.42 248.23l0.51 0.56M507.57 251.46l-0.92 0.45M523.54 275.22l0.42 0.89M478.9 253.86l-0.51 1.33M505.19 267.56l-0.46 0.92M523.88 283.89l1.09 0.07M497.55 257.59l1.29 0.04M554.02 220.57l-0.84 0.6M555.76 256.22l-0.32 1.32M454.71 221.67l-0.47 0.75M440.69 286.39l0.91 0.01M479.54 244.83l0.5 0.54M545.13 257.68l0.15 1.52M480.59 264.03l0.97 0.77M526 291.33l0.53 0.58M446.39 273.01l-0.55 0.28M468.83 269.41l-0.16 0.79M514.91 252.42l0.28 0.57M452.32 266.25l0.36 1M476.96 279.27l-0.84 0.25M478.79 234.3l0.95 0.22M476.1 253.19l-0.28 0.96M548.23 263.62l0.59 1.46M461.58 283.26l0.08 1.33M450.15 273l-0.84 0.06M443.13 255.87l-0.53 0.97M442.47 270.01l0.23 1.15M496.58 233.85l0.92 0.8M548.27 251.88l-0.51 0.55M535.71 238.23l0.99 0.53M535.16 256.99l0.83 1.35M539.75 242.25l-0.9 0.79M473.46 276.65l0.89 0.22M454.93 232.58l-0.78 0.47M442.02 288.73l1.06 0.53M449.76 257.82l-0.37 0.85M525.83 268.07l-0.11 1.43M442.99 221.42l1.39 0.44M472.91 232.55l-0.98 0.91M551.63 224.22l-1.12 0.51M554.53 250.14l-0.56 1M503.27 247.83l-0.75 0.03M494.25 279.97l0.97 0.71M500.15 260.71l-0.57 0.56M445.62 241.68l1.03 0.13M553.8 225.83l0.23 1.33M488.42 265.58l1.02 0.19M512.88 264.62l0.33 0.95M462.91 268.57l0.43 1.53M551.53 284.42l-1.01 1.09M489.4 287.54l-0.63 1.14M513.79 231.69l-0.85 0.13M472.58 225.21l-0.57 0.63M484.93 282.65l-0.61 0.67M526.6 245.53l-0.22 0.7M442.32 289.06l0.85 0.53M445.26 224.4l-0.62 1.43M534.82 237.59l-0.69 0.12M487.57 257.58l0.2 0.66M493.25 225.08l0.42 0.95M466.15 255.23l0.67 0.12M544.38 285.63l-0.35 1.11M471.82 274.25l-0.41 1.28M541.87 253.99l-0.78 0.6M523.4 233.83l1.44 0.16M454.07 288.55l-0.93 0.16M483.82 229.09l1.29 0.78M490.58 288.39l0.49 0.64M498.34 262.9l-0.74 0.07M548.73 242.91l0.12 1.16M520.08 267.83l-0.84 0.62M527.65 256.36l0.33 1.16M455.57 271.52l0 0.71M456.31 243.76l0.65 0.8M530.4 280.03l-0.51 0.92M490.14 288.67l0.23 1.44M479.86 245.86l-0.85 1.17M453.45 235.7l-1.26 0.52M452.49 273l-1.33 0.69M469.3 219.11l-0.6 1.43M454.01 246.12l-0.84 0.93M510.85 281.79l0.84 1.05M457.65 276.77l1.56 0.05M525.33 267.31l0.64 0.81M554.4 231.48l-0.95 1.11M443.6 284.97l1.07 0.94M470.82 231.25l-0.95 0.13M508.08 240.34l-0.59 0.58M463.22 230.19l-0.51 0.8M481.88 290.02l-0.85 0.86M486.7 237.52l-0.72 0.57M481.11 228.98l0.59 0.31M548.73 273.35l-1.44 0.11M517.95 261.58l-0.1 1.49" stroke="#7280c0" stroke-width="1.05" stroke-linecap="round" fill="none" opacity="0.75"/>
<path d="M553.95 240.81l-0.36 0.73M493.87 231.33l-0.91 1.27M452.21 288.25l0.98 0.96M505.75 253.86l-0.61 0.22M551.15 255.58l0.91 0.04M470.8 274.08l-1.14 0.08M529.66 248.93l-1.16 0.19M456.09 248.23l0.59 0.83M455.39 278.56l-0.76 0.07M446.49 232.06l0.03 0.76M470.58 246.01l-0.69 0.2M446.39 247.08l0.45 0.69M527.36 234.66l-0.07 0.94M474.73 285.82l-0.84 0.99M478.08 273.57l-0.72 0.3M533.6 287.02l-0.62 1.42M524.04 285.24l0.2 1.34M470.31 292.13l0.8 0.33M513.43 282.47l0.77 0.53M506.78 235.91l-0.99 0.2M477.17 290.24l-1.31 0.16M476.77 250.29l-0.44 1.36M512.19 275.99l-0.49 1.29M467.43 225.65l-0.48 1.17M462.64 226.34l1.21 0.62M460.47 294.01l0.26 0.61M504.95 237.95l-1.29 0.21M555.55 258.81l-0.66 0.27M463.38 241.07l0.92 1.14M514.68 279.07l1.17 0.01M505.77 284.75l-0 0.62M444.36 234.05l-1.12 0.52M531.54 255.95l-0.92 0.98M446.46 257.22l-0.33 0.81M553.65 279.8l0.43 0.59M482.93 237.4l1.03 0.23M517.93 221.26l-1.31 0.64M496.25 290.52l-0.93 0.68M528.26 269.64l0.88 0.84M537.78 292.22l-0.65 1M472.77 292.24l-1.1 0.03M498.71 295.81l-0.38 0.61M528.98 265.38l0.04 0.94M449.15 233.84l-1.25 0.38M481.76 263.46l0.8 0.61M456.88 229.24l-0.57 1.45M442.76 293.46l-1.53 0.35M484.46 239.87l-0.03 1.07M514.3 289.72l0.67 0.21M552.79 288.39l0.23 0.76M554.1 250.72l-0.98 0.63M521.1 273.58l-1.16 0.4M509.09 223.63l-1.21 0.24M515.38 288.31l0.14 1.31M461.88 236.48l0.1 0.81M533.23 222.81l0.4 0.81M488.36 260.13l0.68 0.84M456.47 233.4l-0.02 1.51M451.97 260.41l-0.64 1.44M477.5 281.77l-0.1 1.39M547.09 285.15l-0.89 1.03M553.92 235.01l0.17 1.21M537.32 264.85l-1.06 0.62M485.22 273.38l0.49 0.57M520.6 295.52l-1.57 0.31M454.58 252.99l0.33 1.35M443.78 234.31l0.54 1.18M525.2 253.67l0.42 0.99M488 265.86l0.12 0.84M555.83 293.87l0 1.22M556.21 295.67l1.09 0.8M484.2 273.03l1.45 0.51M508.11 237.35l-1.04 0.32M494.87 221.82l-0.31 1.17M511.98 293.41l0.79 0.53M458.76 234.97l-0.85 1.23M457.71 239.25l1.26 0.37M551.37 258.28l-0.66 0.63M554.88 242.69l0.07 1.38M452.75 278.88l0.66 0.47M445.25 280.81l-0.56 0.62M488.03 285.79l0.86 1.15M491.26 281.76l-1.23 0.44M443.76 247.86l-0.6 0.07M462.45 230.11l0.86 0.9M528.28 225.38l0.05 0.86M463.16 292.17l0.81 0.97M476.35 236.48l0.8 0.56M492.06 289.32l-0.87 0.87M460.91 290.37l-0.85 0.32M555.32 260.71l-0.8 0.96M522.2 271.87l-0.62 0.05M520.95 229.6l-0.6 0.89M527.32 230.66l0.64 0.46M449.74 271.82l1.39 0.58M521.17 292.29l0.86 0.64M459.72 240.44l-0.56 1.45M520.89 236.37l-1.35 0.69M550.92 245.64l0.6 0.18M458.5 279.67l-0.96 0.07M497.43 220.19l0.16 0.65M551.42 274.18l-0.21 1.21M520.82 249.99l-0.29 1.54M550.4 278.57l-1.39 0.15M464.28 261.22l-1.04 0.61M445.28 225.45l-1.55 0M528.6 281.24l-0.51 0.8M450.61 251.34l-0.72 0.57M509.33 245.49l-0.69 0.29M454.39 269.79l-0.87 0.08M441.13 234.63l0.1 1.38M457.74 230.79l0.61 0.14M553.56 269.66l0.66 0.11M537.02 252.31l0.83 0.01M472.28 269.55l-1.37 0.69M491.71 288.23l0.45 1.18M489.77 233.78l1.26 0.81M462.37 233.73l-0.68 1.11M498.03 224.92l0.36 0.87M485.22 267.34l-0.67 0.64M466.46 282.94l-0.65 0.71M497.73 234.8l0.11 1.19M551.73 248.52l0.61 0.54M496.59 224.03l0.31 0.77M496.58 262.21l0.74 0.64M478.98 248.91l1.03 0.55M494.54 261.74l-0.83 0.54M522.73 276.53l-0.14 0.8M492.3 223.27l1.54 0.21M447.05 259.57l-1.1 0.38M541.19 271.54l-1.23 0.77M508.17 284.92l1.03 0.4M470.3 264.64l-1.22 0.04M478.35 293.44l1.33 0.04M479.39 285.48l-0.46 0.66M555.74 272.37l-0.95 0.07M534.1 266.21l0.21 1M537.31 280.65l-0.37 1.02M490.74 231.37l-0.99 0.19M509.49 285.58l1.42 0.39M476.52 275.7l-1.53 0.18M540.41 283.86l0.53 1.24M475.57 282.49l-0.62 0.65M485.76 288.09l-0.92 0.92M488.44 283.8l1.02 0.36M546.75 232.6l-0.53 0.62M539.76 276.98l0.87 0.45M503.76 220.37l-0.11 1.18M544.82 278.52l0.7 0.76M537.07 271.66l0.88 0M451 271.11l0.69 0.06M468.99 231.16l-0.65 1.29M516.94 291.18l-0.88 0.89M542.36 257.89l0.53 0.31M509.51 230.14l-1.14 0.69M545.34 290.52l-0.86 1.13M504.63 274.38l0.56 0.89M548.17 220.17l-0.65 0.85M544.3 288.5l-0.8 0.5M542.94 270.82l-0.28 1.09M471.48 292.04l1.31 0.21M503.68 257.06l-0.79 1.08M480.02 283.43l-0.17 1.4M533.44 249.68l-0.51 1.2M469.96 260.75l1 1.03M471.94 262.15l0.58 0.54M545.13 281.27l0.2 0.72M515.47 227.29l0.54 0.58M445.78 244.09l-0.37 1.34M461.33 293.79l0.32 0.52M535.53 248.82l0.12 1.08M445.92 264.73l-0.72 0.34M480.32 224.07l0.4 1.26M512.02 245.42l0.42 1.21" stroke="#8592c8" stroke-width="1.05" stroke-linecap="round" fill="none" opacity="0.75"/>
<path d="M474.98 238.05l-0.19 -0.46M476.29 237.03l-0.09 -0.49M487.16 239.33l0.44 -0.25M478.98 235.1l0.06 -0.5M486.6 247.33l0.45 0.21M468.07 246.59l-0.47 0.16M471.47 248.33l-0.38 0.32M483.82 249.73l0.33 0.38M487.44 245.79l0.49 0.12M479.21 239.47l0.13 -0.48M472.81 249.28l-0.31 0.4M477.37 251.05l-0.03 0.5M467.21 242.08l-0.49 -0.09M477.25 239.69l-0.06 -0.5M472.94 252.38l-0.22 0.45M473.1 249.42l-0.29 0.41M482.32 250.35l0.25 0.43M475.84 238.19l-0.14 -0.48M487.13 248.21l0.44 0.24M469.26 246.22l-0.47 0.16M469.82 242.69l-0.49 -0.08M469.24 243.79l-0.5 -0M484.53 239.58l0.4 -0.3M482.12 251.81l0.21 0.45M473.47 240.69l-0.38 -0.32M470.53 237.12l-0.34 -0.37M481.98 236.28l0.21 -0.45M482.4 250.35l0.26 0.43M485.55 237.51l0.36 -0.35M479.53 249.96l0.12 0.49M470.1 247.86l-0.42 0.26M470.92 238.64l-0.37 -0.33M470.17 244.23l-0.5 0.03M486.2 248.68l0.41 0.28M487.89 247.19l0.46 0.18M472.78 247.06l-0.4 0.3M470.98 247.84l-0.41 0.29M514.82 239.34l0.5 0.05M517.3 236.1l0.47 -0.16M498.56 243.23l-0.44 0.25M502.63 246.5l-0.25 0.43M506.78 230.11l-0.05 -0.5M511.54 231.18l0.19 -0.46M508.1 246.91l0.02 0.5M498.69 242.08l-0.46 0.2M504.17 245.87l-0.2 0.46M517.07 238.35l0.5 -0.03M503.6 246.51l-0.21 0.45M517.3 235.45l0.46 -0.19M498.05 241.87l-0.47 0.17M509.74 235.02l0.2 -0.46M507.99 247.01l0.01 0.5M511.48 241.75l0.36 0.34M514.69 244.18l0.37 0.34M497.5 236.26l-0.48 -0.14M508.45 230.44l0.03 -0.5M516.35 236.64l0.48 -0.14M507.55 230.35l-0.01 -0.5M500.13 240.34l-0.49 0.12M504.67 245.2l-0.19 0.46M514.71 237.58l0.49 -0.1M504.04 247.17l-0.18 0.47M504.59 243.5l-0.25 0.43M501.25 234.35l-0.39 -0.31M498.78 234.34l-0.43 -0.25M500.77 239.69l-0.49 0.07M512.49 239.91l0.48 0.14M502.44 235.31l-0.4 -0.31M509.21 230.31l0.24 0.44M503.88 223.14l-0.3 -0.4M511.53 221.94l0.38 -0.33M510.11 221.82l0.31 -0.39M510.32 227.73l0.43 0.25M500.99 229.32l-0.39 0.31M507.8 222.51l0.18 -0.47M503.72 230.07l-0.23 0.45M503.79 227.03l-0.43 0.25M511.15 224.45l0.47 -0.16M509.07 225.81l0.5 0M501.72 221.71l-0.34 -0.36M503.04 228.91l-0.33 0.37M513.05 227.79l0.47 0.16M502.64 231.45l-0.24 0.44M501.53 229.29l-0.38 0.33M499.96 227.27l-0.48 0.13M504.67 228.94l-0.2 0.46M512.16 227.58l0.47 0.17M513.07 224.7l0.49 -0.09M461.85 266.17l0.5 -0.01M446.72 270.55l-0.42 0.27M458.31 266.54l0.5 0.04M451.9 263.01l-0.28 -0.41M456.65 258.57l0.11 -0.49M465.23 268.45l0.49 0.12M445.89 263.01l-0.46 -0.2M450.91 260.42l-0.23 -0.44M458.94 260.71l0.27 -0.42M455.23 258.91l0.04 -0.5M444.54 271.5l-0.43 0.26M463.11 270.44l0.43 0.25M462.35 272.27l0.37 0.34M455.39 261.91l0.07 -0.49M463.27 266.04l0.5 -0.02M458.27 267.58l0.46 0.19M443.17 264.04l-0.49 -0.11M444.45 263.07l-0.47 -0.18M461.99 266.46l0.5 0.01M454.04 260.58l-0.04 -0.5M449.07 262.49l-0.39 -0.32M445.9 269.8l-0.45 0.21M447.3 263.87l-0.47 -0.18M447.86 272.41l-0.34 0.37M459.82 260.35l0.3 -0.4M448.6 258.44l-0.27 -0.42M450.46 263.65l-0.4 -0.3M452.82 274.86l-0.09 0.49M458.59 272.46l0.24 0.44M461.65 263.12l0.44 -0.24M450.59 262.97l-0.36 -0.35M456.54 272.67l0.12 0.48M464.83 268.47l0.49 0.12M450.82 273.94l-0.19 0.46M460.11 273.72l0.27 0.42M448.48 266.75l-0.5 0.04M454.79 260.06l0.01 -0.5M456.93 269.2l0.28 0.41M457.92 271.19l0.25 0.43M455.64 270.97l0.09 0.49M451.3 270.31l-0.29 0.41M454.17 275.08l-0.02 0.5M449.62 262.01l-0.35 -0.36M475.54 259.34l0.01 -0.5M466.4 270.14l-0.48 0.15M467.15 272.83l-0.4 0.29M465.73 270.02l-0.48 0.13M470.3 260.85l-0.26 -0.43M477.97 276.12l0.13 0.48M479.01 260.42l0.2 -0.46M473.84 273.27l-0.11 0.49M473.12 275.92l-0.11 0.49M472.39 274.34l-0.18 0.47M483.01 267.48l0.5 -0.02M466.71 269.99l-0.48 0.14M477.87 263.84l0.24 -0.44M468.75 272.73l-0.37 0.33M481.26 262.77l0.35 -0.35M466.01 268.87l-0.5 0.07M477.42 275.99l0.11 0.49M476.06 276.34l0.04 0.5M478.93 271.39l0.32 0.38M472.5 262.71l-0.21 -0.45M468.25 262.42l-0.37 -0.34M483.08 267.09l0.5 -0.05M482.36 262.17l0.36 -0.34M524.14 266.8l-0.29 0.41M532.07 269.41l0.07 0.5M539.09 262.64l0.46 0.2M524.19 256.04l-0.42 -0.27M519.36 255.69l-0.46 -0.18M522.67 253.18l-0.36 -0.34M532.8 268.76l0.11 0.49M538.61 257.82l0.49 -0.11M519.07 256.31l-0.48 -0.15M520.16 262.09l-0.48 0.15M530.36 253.34l-0 -0.5M535.02 262.53l0.39 0.31M533.59 254.42l0.24 -0.44M538.92 257.88l0.49 -0.1M523.25 253.23l-0.35 -0.36M541.4 259.1l0.5 -0.02M533.63 250l0.14 -0.48M521.36 259.7l-0.5 0.02M530.52 266.4l0.01 0.5M524.18 262.69l-0.42 0.26M538.16 265.23l0.37 0.33M529.66 266.53l-0.04 0.5M540.8 254.34l0.43 -0.25M521.29 260.02l-0.5 0.04M521.37 253.77l-0.4 -0.3M536.8 255.38l0.4 -0.3M536.93 266.66l0.3 0.4M537.32 250.98l0.29 -0.41M522.68 265.03l-0.38 0.33M523.4 256.55l-0.45 -0.22M526.47 265.95l-0.23 0.45M534.04 252.73l0.21 -0.45M535.51 250.71l0.22 -0.45M532.23 267.76l0.09 0.49M541.59 255.66l0.47 -0.18M539.86 264.11l0.43 0.25M535.42 257.61l0.46 -0.19M541.01 254.65l0.44 -0.23M526.09 256.09l-0.37 -0.34M531.46 255.67l0.12 -0.49M521.81 263.49l-0.44 0.25M539.91 255.97l0.46 -0.2M539.7 256.3l0.47 -0.18M545.05 262.23l-0.49 0.07M549.88 257.62l0.13 -0.48M547.56 255.42l-0.07 -0.5M557.32 264.24l0.47 0.16M541.22 263.73l-0.48 0.15M545.95 254.02l-0.14 -0.48M547.36 269.05l-0.07 0.49M540.39 262.14l-0.5 0.02M548.87 268.72l0.02 0.5M553.54 267.34l0.3 0.4M544.31 267.61l-0.26 0.42M556.11 256.89l0.4 -0.31M553.95 261.31l0.5 -0.05M550.04 259.53l0.24 -0.44M540.55 263.43l-0.49 0.12M544.81 259.5l-0.41 -0.29M539.96 260.07l-0.49 -0.12M551.5 259.67l0.38 -0.33M468.84 282.58l-0.46 -0.19M478.28 278.39l0.09 -0.49M468.81 281.58l-0.44 -0.24M469.63 283.53l-0.48 -0.14M474.55 282.18l-0.26 -0.43M483.83 290.89l0.36 0.34M484.17 289.7l0.41 0.29M470.65 288.51l-0.43 0.26M471.67 279.82l-0.31 -0.39M477.43 289.95l0.06 0.5M472.06 279.91l-0.3 -0.4M483.51 286.97l0.48 0.14M474.94 288.87l-0.2 0.46M481.5 290.97l0.29 0.41M482.19 289.4l0.37 0.33M485.62 285.15l0.5 -0.01M482.57 280.31l0.35 -0.36M484 281.06l0.41 -0.29M469.54 284.21l-0.49 -0.09M471.2 279.84l-0.33 -0.38M482.08 282.72l0.43 -0.25M471.83 281.74l-0.38 -0.32M467.76 285.88l-0.5 0.04M473.36 279.95l-0.24 -0.44M480.23 290.02l0.26 0.43M480.88 288.49l0.37 0.34M477.72 279.73l0.07 -0.5M483.83 290.68l0.37 0.34M501.64 282.15l0.08 -0.49M494.63 290.1l-0.42 0.27M506.27 284.24l0.44 -0.24M503.34 280.57l0.16 -0.47M495.66 281.15l-0.3 -0.4M508.5 289.38l0.46 0.18M494.19 282.97l-0.41 -0.28M493.2 284.69l-0.47 -0.16M504.6 287.64l0.48 0.13M508.66 286.26l0.5 -0.04M495.45 291.65l-0.34 0.37M493.66 288.01l-0.49 0.1M499.14 290.97l-0.16 0.47M504.92 291.07l0.32 0.39M501.93 292.07l0.09 0.49M493.87 284.37l-0.46 -0.19M504.24 289.8l0.35 0.36M508.53 289.56l0.46 0.19M495.54 285.05l-0.47 -0.18M494.88 289.6l-0.44 0.24M507.47 285.47l0.49 -0.11M503.86 289.9l0.32 0.38M494.71 287.94l-0.49 0.11M516.53 291.42l0.19 0.46M517.68 291.92l0.25 0.43M509.79 292.63l-0.33 0.38M518.98 286.21l0.46 -0.21M508.02 287.66l-0.5 -0.01M509.3 290.7l-0.42 0.26M513.22 293.74l-0.11 0.49M515.78 282.13l0.07 -0.49M513.12 283.59l-0.16 -0.47M519.14 283.78l0.34 -0.37M511.2 290.53l-0.37 0.34M521.29 285.29l0.45 -0.21M510.78 292.72l-0.28 0.41M514.84 292.18l0 0.5M522.99 223.93l-0.28 -0.41M524.8 223.43l-0.06 -0.5M528.36 227.62l0.48 0.15M447.84 237.99l-0.2 -0.46M444.01 242.93l-0.4 0.31M451.53 237.12l0.33 -0.38M450.17 237.21l0.2 -0.46M454.3 242.14l0.45 0.22M450.77 243.96l0.19 0.46M444.45 241.64l-0.45 0.22M453.63 242.45l0.42 0.27M450.14 236.5l0.16 -0.47M450.96 239.33l0.48 -0.13M549.25 230.39l-0.49 0.1M556.83 229.46l0.5 -0.05M553.57 231.41l0.18 0.46M550.86 227.84l-0.32 -0.39" stroke="#7a82b8" stroke-width="1.25" stroke-linecap="round" fill="none" opacity="0.75"/>
<path d="M479.99 237.48l0.14 -0.48M474.21 250.36l-0.21 0.45M486.09 245.83l0.48 0.14M477.6 248.79l-0.02 0.5M484.88 241.5l0.47 -0.18M472 242.84l-0.49 -0.1M483.72 242.47l0.48 -0.13M483.52 251.93l0.26 0.43M478.76 250.76l0.06 0.5M479.5 249.71l0.12 0.49M470.99 239.99l-0.42 -0.28M469.91 242.61l-0.49 -0.09M468.91 240.19l-0.45 -0.22M486.54 243.11l0.5 -0.05M474.17 245.73l-0.42 0.27M479.64 235.94l0.1 -0.49M483.16 239.56l0.37 -0.34M482.43 244.26l0.5 0.06M471.56 249.35l-0.34 0.36M478.58 248.45l0.07 0.5M469.87 246.38l-0.47 0.18M474.69 242.04l-0.41 -0.28M467.74 245.21l-0.49 0.08M481.98 250.24l0.24 0.44M473.21 238.13l-0.28 -0.41M469.65 248.3l-0.42 0.27M472.4 239l-0.34 -0.36M484.3 239.98l0.41 -0.29M477.61 248.67l-0.02 0.5M481.55 250.63l0.21 0.45M469.62 246.79l-0.46 0.2M482.26 243.52l0.5 -0.04M469.12 248.57l-0.42 0.27M474.21 246.69l-0.36 0.35M470.64 247.31l-0.43 0.25M478.68 234.77l0.04 -0.5M499.76 235.23l-0.44 -0.23M514.98 240.24l0.49 0.12M510.53 244.88l0.18 0.47M511.88 230.43l0.19 -0.46M505.19 234.86l-0.24 -0.44M504.28 232.14l-0.2 -0.46M505.32 246.21l-0.14 0.48M505.48 230.13l-0.11 -0.49M517.16 238.68l0.5 -0.01M497.97 240.17l-0.49 0.08M512.35 238.75l0.5 -0.01M505.73 230.44l-0.1 -0.49M498.56 240.2l-0.49 0.09M498.85 238.18l-0.5 -0.04M513.75 244.87l0.32 0.38M516.78 234.96l0.45 -0.23M501.75 240.56l-0.47 0.16M502.47 234.98l-0.38 -0.32M518.07 240.59l0.49 0.1M501.45 233.07l-0.34 -0.36M513.41 232.5l0.3 -0.4M502.33 236.2l-0.44 -0.25M512.54 245.95l0.24 0.44M501.35 236.51l-0.46 -0.19M510.71 244.58l0.2 0.46M517.12 235.27l0.46 -0.2M497.17 238.51l-0.5 -0.02M509.69 229.77l0.29 0.41M511.81 221.41l0.36 -0.34M510.12 222.84l0.37 -0.34M500.17 222.54l-0.42 -0.27M509.95 221.97l0.31 -0.39M500.21 229.1l-0.42 0.27M503.02 221.25l-0.26 -0.43M503.4 227.43l-0.42 0.28M504.29 220.97l-0.17 -0.47M513.71 225.35l0.5 -0.04M506.18 231.63l-0.01 0.5M506.97 229.3l0.08 0.49M513.11 226.84l0.49 0.09M463.24 260.61l0.39 -0.31M454.34 258.74l-0.01 -0.5M449.35 260.3l-0.3 -0.4M443.85 263.66l-0.48 -0.14M454.88 273.21l0.02 0.5M447.11 260.63l-0.37 -0.33M444.38 268.43l-0.49 0.12M459.09 263.19l0.39 -0.32M465.01 267l0.5 0.04M453.23 257.76l-0.07 -0.5M447.95 267.48l-0.49 0.1M450.68 264.6l-0.44 -0.23M457.42 257.68l0.13 -0.48M449.06 275.55l-0.23 0.45M460.68 257.86l0.26 -0.43M447.64 258.16l-0.29 -0.41M445.15 262.2l-0.44 -0.23M445.19 270.68l-0.44 0.24M463.91 272.25l0.4 0.3M463.87 272.65l0.39 0.31M463.29 264.19l0.48 -0.14M463.7 260.65l0.4 -0.3M456.45 257.43l0.09 -0.49M464.94 263.02l0.47 -0.18M447.24 259.86l-0.35 -0.36M450.96 269.55l-0.34 0.36M451.56 257.58l-0.14 -0.48M444.85 261.63l-0.44 -0.25M456.95 276.25l0.1 0.49M464.86 267.91l0.49 0.09M446.3 272.95l-0.36 0.34M445.9 262.41l-0.44 -0.23M460.24 262.08l0.37 -0.33M462.47 264.07l0.47 -0.16M451.35 275.81l-0.14 0.48M443.6 263l-0.47 -0.17M463.44 261.72l0.43 -0.26M463.45 262.76l0.45 -0.21M479.93 262.86l0.31 -0.39M465.69 266.06l-0.49 -0.1M484.6 271.4l0.45 0.21M471.33 264.5l-0.36 -0.35M465.35 269.29l-0.49 0.09M467.59 268.91l-0.49 0.08M479.88 271.1l0.38 0.32M470.36 261.65l-0.28 -0.41M467.99 271.25l-0.44 0.24M480.61 268.45l0.49 0.07M478.06 274.08l0.17 0.47M476.06 272.31l0.07 0.5M476.16 263.08l0.08 -0.49M478.31 272.38l0.24 0.44M480.18 273.26l0.3 0.4M482.02 265.27l0.46 -0.2M483.74 264.77l0.46 -0.2M465.55 268.99l-0.49 0.07M469.31 261.61l-0.32 -0.39M471.83 272.23l-0.28 0.42M466.53 267.94l-0.5 0.01M478.22 265.53l0.37 -0.34M469.22 265.48l-0.46 -0.21M471.08 275.32l-0.21 0.45M474.27 272.76l-0.09 0.49M475.56 262.93l0.02 -0.5M475.01 262.94l-0.03 -0.5M466.06 264.9l-0.47 -0.17M532.97 264.15l0.21 0.45M524.66 258.68l-0.49 -0.07M533.84 257.06l0.39 -0.31M522.92 260.78l-0.49 0.11M533.6 266.67l0.17 0.47M520.43 258.89l-0.5 -0.03M521.46 264.58l-0.41 0.28M535.5 256.6l0.42 -0.27M527.97 251.26l-0.12 -0.48M520.94 260.5l-0.5 0.07M540.04 253l0.39 -0.31M518.87 256.4l-0.48 -0.15M525.61 253.03l-0.27 -0.42M526.77 255.01l-0.29 -0.41M535.28 259.13l0.5 -0.03M532.11 254.86l0.15 -0.48M537.64 252.91l0.34 -0.36M535.95 261.07l0.47 0.17M524.84 264.4l-0.34 0.36M523.04 255.17l-0.41 -0.28M536.86 259.79l0.5 0.04M529.4 252.97l-0.06 -0.5M536.76 260.85l0.48 0.13M536.08 266.88l0.27 0.42M535.83 264.38l0.34 0.37M533 265.6l0.17 0.47M525.85 268.18l-0.2 0.46M536.42 258.24l0.49 -0.11M528.16 253.53l-0.15 -0.48M521.81 256.6l-0.47 -0.18M533.87 266.43l0.19 0.46M541.19 263.06l0.46 0.19M520.83 257.88l-0.49 -0.09M531.64 250.69l0.06 -0.5M535.29 264.56l0.31 0.39M537.55 258.85l0.5 -0.05M538.23 261.08l0.48 0.12M522.74 255.83l-0.44 -0.24M533.49 266.18l0.18 0.47M519.73 263.4l-0.46 0.2M529.29 264.41l-0.09 0.49M547.16 254.6l-0.08 -0.49M548.23 256.74l-0.03 -0.5M547.57 269.85l-0.05 0.5M556.78 258.62l0.45 -0.21M542.27 263.91l-0.47 0.18M547.9 266.31l-0.06 0.5M544.12 255.17l-0.25 -0.43M546.28 257.5l-0.21 -0.46M549.59 267.23l0.08 0.49M551.65 254.5l0.17 -0.47M554.24 256.98l0.35 -0.36M553.1 264.21l0.42 0.27M556.21 263.84l0.48 0.15M545.08 268.07l-0.21 0.45M551.26 254.14l0.14 -0.48M544.66 257.75l-0.32 -0.39M540.31 261.62l-0.5 -0.01M552.88 257.59l0.33 -0.38M540.68 262.14l-0.5 0.03M554.69 263.93l0.46 0.19M545.35 265.88l-0.28 0.41M552.24 266.84l0.26 0.43M555.55 259.75l0.47 -0.16M546.52 267.46l-0.15 0.48M553.82 259.53l0.44 -0.23M552.92 259.91l0.44 -0.23M540.45 258.69l-0.46 -0.21M478.34 278.54l0.09 -0.49M486.44 284.34l0.5 -0.06M483.44 280.89l0.39 -0.31M481.99 287.11l0.46 0.19M471.52 289.99l-0.34 0.36M482.25 282.3l0.42 -0.27M474.11 279.57l-0.18 -0.46M480.06 279.92l0.23 -0.44M475.52 279.32l-0.09 -0.49M473.17 286.18l-0.48 0.14M483.2 288.29l0.44 0.24M479.97 282.59l0.35 -0.36M472.78 291.11l-0.25 0.43M485.48 288.26l0.46 0.19M479.93 291.16l0.21 0.46M480.02 290.38l0.24 0.44M467.29 285.56l-0.5 0.02M478.16 278.03l0.08 -0.49M468.91 284.14l-0.49 -0.09M504 280.75l0.2 -0.46M493.6 287.29l-0.5 0.04M498.55 291.24l-0.2 0.46M498.28 293.77l-0.15 0.48M495.21 281.43l-0.33 -0.38M507.33 282.63l0.4 -0.3M506.11 286.35l0.5 -0.05M499.59 292.45l-0.09 0.49M495.32 288.11l-0.48 0.14M505.1 282.92l0.34 -0.37M496.91 292.67l-0.24 0.44M492.48 286.99l-0.5 0.01M504.3 284.8l0.41 -0.28M508.52 287.81l0.49 0.08M500.57 281.55l-0.02 -0.5M502.75 292.67l0.13 0.48M502.54 288.94l0.28 0.41M498.09 290.61l-0.26 0.43M505.73 286.2l0.49 -0.07M509.12 286.69l0.5 -0.01M493.24 289.88l-0.45 0.22M520.57 285.79l0.46 -0.19M517.9 282.74l0.23 -0.44M519.16 283.81l0.34 -0.37M516.89 290.32l0.29 0.41M510.6 292.36l-0.31 0.39M510.1 290.54l-0.41 0.28M518.17 291.19l0.32 0.38M508.6 285.3l-0.45 -0.22M519.62 285.33l0.43 -0.26M510.06 285.4l-0.43 -0.26M518.84 283.51l0.31 -0.39M515.09 282.13l0.02 -0.5M513.2 282.27l-0.12 -0.49M514.85 281.76l0 -0.5M517.58 283.05l0.22 -0.45M521.99 287.16l0.5 -0.05M512.69 289.35l-0.38 0.33M519.14 286.17l0.46 -0.2M512 289.91l-0.37 0.33M511.18 288.05l-0.5 0.04M513.88 284.91l-0.13 -0.48M511.19 282.82l-0.26 -0.43M524.95 228.72l-0.07 0.49M526.99 228.26l0.35 0.36M523.32 227.02l-0.5 0.07M525.71 229.5l0.06 0.5M527.73 229.19l0.32 0.38M528.47 225.38l0.44 -0.24M452.65 236.59l0.36 -0.35M452.7 238.18l0.45 -0.22M448.69 234.82l-0.01 -0.5M449.86 236.44l0.13 -0.48M451.43 238.96l0.47 -0.18M449.24 243.32l0.05 0.5M451.26 243.66l0.24 0.44M454.27 237.84l0.46 -0.19M452.66 239.59l0.5 -0.03M452.52 243.84l0.31 0.39M453.04 238.48l0.47 -0.17M442.93 239.75l-0.5 -0M443.09 239.95l-0.5 0.02M552.89 233.31l0.01 0.5M553.55 226.32l0.09 -0.49M550.13 231.49l-0.4 0.3M556.03 230.03l0.5 0.04M556.19 231.63l0.42 0.27M548.67 229.7l-0.5 -0.01" stroke="#5a66a8" stroke-width="1.25" stroke-linecap="round" fill="none" opacity="0.75"/>
<path d="M468.2 245.32l-0.49 0.09M482.12 248.27l0.32 0.39M473.54 239l-0.3 -0.4M469.1 243.67l-0.5 -0.01M475.12 248.3l-0.22 0.45M484.07 239.89l0.4 -0.3M478.2 251.15l0.02 0.5M473.01 243.72l-0.5 -0.01M471.57 236.24l-0.29 -0.41M487.17 247.12l0.46 0.19M482.69 235.38l0.22 -0.45M473.75 251.3l-0.21 0.45M478.48 250.53l0.04 0.5M468.56 246.64l-0.47 0.17M482.99 250.41l0.28 0.42M476.42 236.57l-0.08 -0.49M484.38 251.51l0.29 0.41M469.97 242.12l-0.48 -0.12M479.05 252.5l0.06 0.5M467.85 242.42l-0.49 -0.08M480.76 237.91l0.2 -0.46M483.2 240.17l0.39 -0.31M483.9 249.6l0.33 0.37M471.75 250.74l-0.3 0.4M467.55 241.43l-0.48 -0.13M477.44 247.7l-0.04 0.5M515.94 244.2l0.39 0.31M517.02 241.03l0.48 0.14M510.01 232.16l0.14 -0.48M506.42 229.81l-0.06 -0.5M510.7 234.71l0.26 -0.43M502.92 246.32l-0.24 0.44M502.17 246.32l-0.27 0.42M506.1 244.1l-0.13 0.48M499.58 234.89l-0.44 -0.24M515.56 238.63l0.5 -0.01M502.13 231.12l-0.26 -0.42M507.34 245.12l-0.03 0.5M516.51 241.89l0.46 0.19M507.19 243.06l-0.06 0.5M515.75 233.13l0.38 -0.32M507.09 232.16l-0.04 -0.5M511.11 241.22l0.38 0.33M505.21 247.34l-0.12 0.48M511.76 243.52l0.29 0.41M516.47 237.15l0.49 -0.11M503.37 243.89l-0.3 0.4M511.93 231.45l0.21 -0.45M500.77 245.35l-0.34 0.37M502.02 233.63l-0.34 -0.36M503.59 239.38l-0.49 0.08M501.41 238.27l-0.5 -0.05M511.32 245.64l0.2 0.46M514.51 245.75l0.32 0.39M503.44 246.25l-0.22 0.45M509.61 245.24l0.12 0.49M517.03 237.02l0.49 -0.11M501.96 234.38l-0.37 -0.33M502.93 231.04l-0.24 0.44M511.49 223.07l0.42 -0.26M511.1 220.94l0.32 -0.38M512.39 226.05l0.5 0.02M506.24 231.73l-0 0.5M507.48 221.52l0.11 -0.49M511.31 225.27l0.5 -0.06M502.87 219.98l-0.22 -0.45M502.99 228.67l-0.35 0.36M509.67 231.48l0.22 0.45M505.85 229.35l-0.05 0.5M503.76 230.88l-0.19 0.46M504.01 225.22l-0.48 -0.14M503.15 223.6l-0.38 -0.32M506.04 219.69l-0.02 -0.5M462.88 267.36l0.49 0.07M462.41 265.41l0.5 -0.07M456.85 258.02l0.11 -0.49M462.82 266.75l0.5 0.03M460.09 260.29l0.31 -0.4M446.8 268.6l-0.47 0.16M444.08 262.67l-0.46 -0.19M461.88 264.58l0.48 -0.13M448.45 269.53l-0.42 0.26M464.51 266.89l0.5 0.04M462.89 259.16l0.35 -0.36M450.97 257.34l-0.16 -0.47M447.14 267.44l-0.49 0.09M459.8 260.82l0.31 -0.39M449.42 257.86l-0.23 -0.44M447.16 266.21l-0.5 -0.01M445.85 271.14l-0.42 0.27M450.36 271.63l-0.28 0.42M448.75 263.58l-0.44 -0.24M444.35 271.68l-0.43 0.26M443.52 265.55l-0.5 -0.04M463.94 266.78l0.5 0.03M443.33 267.79l-0.49 0.08M447.4 273.31l-0.33 0.38M450.31 260.98l-0.28 -0.41M448.77 260l-0.31 -0.39M448.94 272.92l-0.29 0.41M445.08 267.32l-0.5 0.06M460.47 272.67l0.31 0.39M453.78 276.21l-0.04 0.5M463.51 262.37l0.44 -0.23M458.54 259.6l0.22 -0.45M465.45 269.55l0.47 0.17M450.48 271.51l-0.28 0.42M458.75 259.7l0.23 -0.44M455.11 257.35l0.02 -0.5M477.6 271.94l0.21 0.45M466.44 268.81l-0.5 0.07M485.38 268.47l0.5 0.04M472.98 275.27l-0.13 0.48M482.39 266.94l0.49 -0.07M465.48 268.32l-0.5 0.03M476.49 271.77l0.12 0.48M483.23 264.91l0.46 -0.2M472.85 273.46l-0.17 0.47M478.48 275.91l0.16 0.47M470.37 263.69l-0.36 -0.35M469 263.88l-0.4 -0.3M473.62 259.35l-0.08 -0.49M469.44 272.48l-0.36 0.34M476.01 272.87l0.06 0.5M477.68 260.03l0.13 -0.48M481.65 266.83l0.49 -0.09M483.31 263.04l0.41 -0.29M483.94 263.97l0.44 -0.23M470.81 262.4l-0.29 -0.41M472.91 262l-0.16 -0.47M470.48 260.7l-0.25 -0.43M478.92 274.14l0.22 0.45M485.25 268.38l0.5 0.03M480.84 266.85l0.49 -0.1M468.89 265.83l-0.47 -0.17M469.77 267.83l-0.5 0M467.26 266l-0.48 -0.13M472.62 261.55l-0.17 -0.47M483.29 272.57l0.41 0.29M480.92 264.71l0.42 -0.27M539.32 258.91l0.5 -0.03M535.01 252.61l0.25 -0.43M541.28 262.98l0.47 0.18M523.37 267.83l-0.29 0.41M526.99 256.81l-0.37 -0.34M525.11 252.29l-0.27 -0.42M526.1 251.64l-0.21 -0.45M537.09 253.7l0.35 -0.35M520.13 262.93l-0.46 0.19M541.85 258.59l0.5 -0.04M523.17 262.36l-0.45 0.22M537.04 267.23l0.29 0.41M522.12 254.95l-0.42 -0.27M533.78 249.72l0.14 -0.48M528.29 264.32l-0.17 0.47M532.5 249.3l0.09 -0.49M522.2 260.29l-0.5 0.06M523.42 266.93l-0.31 0.39M518.93 257.08l-0.49 -0.12M526.93 266.7l-0.19 0.46M539.1 259.09l0.5 -0.02M536.59 251.5l0.28 -0.42M524.52 259.83l-0.5 0.04M521.09 258.26l-0.49 -0.07M535.36 253.42l0.29 -0.41M531.4 249.23l0.04 -0.5M519.7 254.78l-0.45 -0.23M535.08 254.32l0.31 -0.39M530.85 252.31l0.03 -0.5M541.95 257.37l0.49 -0.1M531.29 269.13l0.04 0.5M526.22 260.77l-0.47 0.18M531.07 252.4l0.04 -0.5M545.72 266.17l-0.24 0.44M539.69 262.47l-0.5 0.04M551.9 254.37l0.18 -0.47M544.82 257.87l-0.31 -0.39M544.43 256.18l-0.27 -0.42M557.58 258.68l0.46 -0.19M539.81 263.82l-0.48 0.13M552.8 261.08l0.49 -0.1M543.68 263.86l-0.45 0.22M543.47 268.67l-0.27 0.42M549.89 266.07l0.12 0.48M554.66 261.58l0.5 -0.02M553.21 257.01l0.32 -0.39M550.58 269.13l0.11 0.49M546.11 256.16l-0.17 -0.47M552.03 266.93l0.25 0.44M540.6 265.36l-0.44 0.23M539.97 260.73l-0.49 -0.07M552.84 268.15l0.25 0.44M552.69 259.41l0.41 -0.29M549.12 267.77l0.04 0.5M542.31 261.46l-0.5 -0.03M543.27 257.61l-0.37 -0.34M543.68 263.31l-0.47 0.17M542.94 262.42l-0.5 0.06M548.99 268.47l0.02 0.5M557.8 263.93l0.48 0.13M548.31 266.62l-0.03 0.5M548.23 268.87l-0.02 0.5M558.22 262.48l0.5 0.04M472 278.52l-0.26 -0.43M471.47 285.66l-0.5 0.04M482.16 283.75l0.47 -0.16M481.55 279.04l0.27 -0.42M479.71 291.9l0.17 0.47M484.84 285.57l0.5 0.02M471.23 281.37l-0.38 -0.32M473.85 277.7l-0.16 -0.48M470.59 289.94l-0.37 0.33M472.06 282.07l-0.39 -0.31M469.51 286.87l-0.48 0.12M483.76 279.68l0.36 -0.35M468.13 281.97l-0.46 -0.21M479.58 278.21l0.16 -0.47M482.33 286.51l0.48 0.13M471.47 281.37l-0.38 -0.33M471.89 288.87l-0.38 0.33M478.82 289.44l0.19 0.46M472.54 291.56l-0.25 0.43M471.94 279.2l-0.28 -0.41M485.78 288.02l0.47 0.17M470.58 285.34l-0.5 0M472.57 284.12l-0.47 -0.16M478.94 277.5l0.11 -0.49M469.32 289.62l-0.41 0.28M473.5 282.06l-0.33 -0.38M486.44 286.49l0.49 0.07M480.17 283.68l0.43 -0.25M505.82 287.06l0.5 0.03M509.3 287.52l0.5 0.05M505.68 291.08l0.35 0.36M497.67 292.3l-0.22 0.45M503.18 280.8l0.16 -0.47M507.62 288.07l0.49 0.11M506.55 283.83l0.43 -0.26M500.78 279.72l-0 -0.5M503.77 291.83l0.22 0.45M506.02 286.16l0.49 -0.07M502.05 279.59l0.07 -0.49M496.32 283.35l-0.37 -0.34M495.05 288.66l-0.47 0.18M501.71 293.54l0.06 0.5M504.3 285.34l0.45 -0.22M500.14 284.43l-0.11 -0.49M518 282.19l0.22 -0.45M512.68 292.23l-0.19 0.46M510.55 283.36l-0.31 -0.39M507.5 286.32l-0.49 -0.12M509.69 287.67l-0.5 -0.01M513.21 283.25l-0.14 -0.48M519.59 291.79l0.36 0.35M515.29 282.89l0.04 -0.5M521.22 290.5l0.45 0.22M514.5 283.59l-0.03 -0.5M522.25 287.8l0.5 0M520.94 288.49l0.5 0.07M526 224.16l0.11 -0.49M522.99 224.45l-0.32 -0.39M523.42 229.37l-0.26 0.43M523.07 224.46l-0.31 -0.39M525.3 223.99l-0 -0.5M524.26 228.76l-0.2 0.46M453.17 242.71l0.39 0.31M449.36 235.24l0.05 -0.5M448.7 236.42l-0.01 -0.5M445.55 242.19l-0.38 0.33M452.65 241.67l0.43 0.25M448.39 242.15l-0.07 0.49M442.98 238.84l-0.49 -0.1M451.29 243.23l0.26 0.43M552.72 226.28l-0.01 -0.5M552.94 232.68l0.02 0.5M556.64 231.02l0.47 0.18M550.19 228.55l-0.43 -0.25M550.89 227.74l-0.31 -0.4" stroke="#6872b0" stroke-width="1.25" stroke-linecap="round" fill="none" opacity="0.75"/>
<ellipse cx="477.8" cy="243.8" rx="3.45" ry="2.53" fill="#eeeff4" opacity="0.9"/>
<ellipse cx="507.8" cy="238.8" rx="3.3" ry="2.42" fill="#eeeff4" opacity="0.9"/>
<ellipse cx="506.3" cy="225.8" rx="2.4" ry="1.76" fill="#eeeff4" opacity="0.9"/>
<ellipse cx="454.6" cy="266.3" rx="3.75" ry="2.75" fill="#eeeff4" opacity="0.9"/>
<ellipse cx="475.3" cy="267.8" rx="3.15" ry="2.31" fill="#eeeff4" opacity="0.9"/>
<ellipse cx="530.4" cy="259.4" rx="3.75" ry="2.75" fill="#eeeff4" opacity="0.9"/>
<ellipse cx="548.6" cy="261.8" rx="3" ry="2.2" fill="#eeeff4" opacity="0.9"/>
<ellipse cx="476.8" cy="285.3" rx="3" ry="2.2" fill="#eeeff4" opacity="0.9"/>
<ellipse cx="500.8" cy="286.8" rx="2.7" ry="1.98" fill="#eeeff4" opacity="0.9"/>
<ellipse cx="514.8" cy="287.8" rx="2.4" ry="1.76" fill="#eeeff4" opacity="0.9"/>
<ellipse cx="525.3" cy="226.8" rx="1.35" ry="0.99" fill="#eeeff4" opacity="0.9"/>
<ellipse cx="448.8" cy="239.8" rx="1.95" ry="1.43" fill="#eeeff4" opacity="0.9"/>
<ellipse cx="552.8" cy="229.8" rx="1.35" ry="0.99" fill="#eeeff4" opacity="0.9"/>
<path d="M518.16 231.54l0.5 0M460.62 230.78l0.5 0M552.48 277.75l0.5 0M469.74 264.51l0.5 0M528.63 295.67l0.5 0M482.1 252.73l0.5 0M521.34 249.69l0.5 0M489.95 240.65l0.5 0M485.5 276.19l0.5 0M551.78 231.16l0.5 0M508.72 258.12l0.5 0M470.47 222.69l0.5 0M473.82 231.62l0.5 0M529.58 227.8l0.5 0" stroke="#8a4a50" stroke-width="1.2" stroke-linecap="round" fill="none" opacity="0.7"/>
</g></g>
<line x1="530" y1="293.2" x2="555" y2="293.2" stroke="#3a3a3a" stroke-width="1.1"/>
<g clip-path="url(#c1)"><g filter="url(#soft)">
<rect x="559.2" y="219.8" width="116" height="76.6" fill="#d9d4d2"/>
<g filter="url(#bl2)">
<ellipse cx="616.2" cy="227.8" rx="16" ry="8" fill="#bcb1b4" opacity="0.85"/>
<ellipse cx="656.2" cy="233.8" rx="20" ry="14" fill="#bcb1b4" opacity="0.85"/>
<ellipse cx="609.2" cy="243.8" rx="8" ry="6" fill="#bcb1b4" opacity="0.85"/>
<ellipse cx="649.2" cy="265.8" rx="20" ry="22" fill="#bcb1b4" opacity="0.85"/>
<ellipse cx="597.2" cy="275.8" rx="28" ry="15" fill="#bcb1b4" opacity="0.85" transform="rotate(-10 597.2 275.8)"/>
<ellipse cx="571.2" cy="282.8" rx="12" ry="13" fill="#bcb1b4" opacity="0.85"/>
<ellipse cx="665.2" cy="281.8" rx="12" ry="14" fill="#bcb1b4" opacity="0.85"/>
<ellipse cx="635.2" cy="289.8" rx="10" ry="8" fill="#bcb1b4" opacity="0.85"/>
<ellipse cx="669.2" cy="249.8" rx="8" ry="8" fill="#bcb1b4" opacity="0.85"/>
<ellipse cx="573.2" cy="233.8" rx="24" ry="12" fill="#e2e3e7" opacity="0.95" transform="rotate(-30 573.2 233.8)"/>
<ellipse cx="593.2" cy="250.8" rx="30" ry="4" fill="#e2e3e7" opacity="0.95" transform="rotate(-32 593.2 250.8)"/>
<ellipse cx="625.2" cy="269.8" rx="3" ry="30" fill="#e2e3e7" opacity="0.95" transform="rotate(5 625.2 269.8)"/>
<ellipse cx="599.2" cy="221.8" rx="10" ry="3" fill="#e2e3e7" opacity="0.95"/>
</g>
<path d="M567.62 235.83l1.12 0.66M646.96 229.15l-0.3 0.66M568.7 228.51l-0.08 1.07M600.33 231.73l-0.37 1.15M595.11 290.68l0.03 0.54M644.91 262.94l-0.12 0.81M626.2 278.5l-0.44 0.58M614.75 281.64l-0.49 0.83M659.29 266.87l-0.08 0.55M585.49 248.3l-0.27 0.64M671.78 290.41l-0.77 0.12M602.12 225.94l-1.02 0.35M642.36 294.79l-0.84 0.09M654.33 222.22l0.24 0.49M559.75 287.01l-0.24 0.6M585.9 253.34l-0.03 0.67M611.08 288.85l0.79 0.44M559.46 282.99l0.76 0.66M574.41 226.03l-0.47 0.42M581.15 295.25l-1.04 0.46M672.78 238.64l-0.53 0.17M596.57 274.5l-0.87 0.14M618.67 276.9l-0.54 1M602.95 255.47l-0.05 1.13M574.35 240.8l-0.53 0.12M569.76 249.32l-0.65 0.89M653.51 240.04l-0.45 0.76M614.49 260.47l-0.62 0.61M652.16 266.2l-0.48 0.3M673.68 242.68l-1.02 0.46M658.52 274.81l0.91 0.13M579.55 267.68l-0.41 0.3M674.5 233.81l-0.97 0.49M573.35 283.34l-0.86 0.87M657.82 245.93l0.71 0.66M644.96 237.39l-0.59 0.64M623.78 226.09l1.12 0.36M563.09 240.63l-0.77 0.48M669.72 277.92l-0.29 1.07M568.95 222.75l-0.42 0.38M589.31 284.52l-0.12 0.56M583.97 222.75l0.97 0.8M566.4 233.88l0.01 0.94M644.26 270.04l-0.59 0.38M560.69 289.48l-0.5 0.36M623.88 278.84l0.92 0.14M603.25 232.9l0.02 0.89M639.2 262.51l0.8 0.06M639.74 222.1l-0.89 0.31M662.6 273.43l-0.12 0.6M617.68 262.1l-0.63 0.38M654.41 252.09l0.35 1.16M600.92 275.71l-0.23 0.77M632.97 244.34l-0.08 0.54M581.55 279.55l-0.42 1.1M619.84 246.92l-0.06 0.6M620.53 282.18l-0.97 0.46M668.62 280.68l0.49 0.21M582.96 266.59l0.74 0.16M640.01 227.05l0.16 0.61M585.2 289.27l-0.45 1.02M606.17 235.91l-0.25 0.73M616.18 295.16l1.01 0.02M665.3 257.5l0.27 1.26M577.77 247.19l0.44 0.57M586.37 225.56l0.69 0.98M590.68 272.12l-1.23 0.24M574.88 230.95l0.6 0.89M568.7 244.81l-0.26 0.63M592.04 238.72l0.25 0.84M669.2 237.55l-0.42 0.85M638.43 230.29l-0.76 0.12M633.25 239.44l0.65 0.28M650.73 269.06l0.62 0.09M654.23 235.41l-1.1 0.51M600.27 254.05l-0.57 1.12M583.39 286.57l-0.84 0.08M625.75 245.31l-0.47 0.26M653.82 264.53l-0.34 0.7M605.15 261.9l0.4 1.14M583.18 287.66l-0.65 0.36M601.93 240.52l-0.64 0.25M613.12 253.64l0.95 0.69M670.92 276.76l0.47 0.28M648.73 227.64l0.89 0.01M610.66 231.52l-0.21 0.71M584.33 239.62l1.07 0.38M661.76 266.83l-0.34 0.5M658.87 267.24l-0.13 0.49M673.88 228.5l0.87 0.64M667.93 275.14l0.55 0.17M560.06 225.77l-0.64 0.73M645.91 249.03l-1.16 0.39M649.28 236l-0.74 0.89M559.03 290.5l0.74 0.06M653.95 269.37l-0.26 0.5M641.58 236.83l-0.13 0.9M593.3 245.47l0.89 0.47M562.74 291.45l-0.47 0.38M628.51 234.03l-0.24 0.66M645.63 283.48l-0.94 0.82M624.96 245.91l0.17 0.73M623.28 248.21l-1.03 0.42M649.31 295.06l-1.2 0.42M573.07 263.27l-0.31 0.56M664.24 282.4l0.11 0.53M590.84 255.78l1.11 0.1M569.83 294.65l-0.14 0.91M573.63 223.9l0.26 0.72M589.88 226.48l0.9 0.56M612.57 244.16l-1.03 0.65M669.1 275.88l0.19 0.51M561.75 252.9l0.7 0.92M619.19 284.71l-0.55 0.12M631.76 256.21l0.87 0.17M634.12 220.53l-0.73 0.88M590.14 222.82l-0.09 1.24M578.88 293.71l-0.71 0.25M617.19 227.71l-0.32 0.73M634.56 230.8l0.77 0.21M674.7 225.61l-0.82 0.2M643.41 265.8l-0.07 1.19M596.18 274.21l0.72 0.03M635.78 255.8l-0.82 0.45M647.89 245.25l-0.8 0.62M585.78 223.72l-0.48 0.54M583.5 285.85l-1.02 0.78M591.13 232.05l0.22 0.49M652.87 242.67l0.28 0.74M559.42 229.03l0.1 0.8M588.78 288.83l-1.11 0.14M589.18 251.21l-0.1 1.2M637.9 235.69l-0.01 0.89M668.41 221.09l-0.71 0.14M632.51 274.02l-0.74 0.12M564.69 232.73l0.29 0.49M559.61 275.01l-0.82 0.66M657.1 273.67l0.35 1.17M593.14 288.18l-0.33 0.77M629.99 233.6l0.18 0.57M594.07 267.45l1.08 0.63M647.21 253.43l-0.63 0.09M638.28 254.68l-0.35 1.07M575.26 290.22l0.73 1.02M624.52 288.88l1.14 0.33M595.58 234.11l-0.71 0.18M617.82 245.67l-0.12 1.21M632.31 293.19l0.1 0.55M649.57 262.02l-0.77 0.01M608.65 251.55l-0.46 0.8M664.47 284.15l0.45 0.36M622.65 262.66l1.07 0.69M565.29 280.76l-0.63 0.5M662.95 233.42l-0.88 0.76M625.4 249.71l-0.53 0.3M574.5 228.21l0.78 0.43M631.48 237.14l-0.17 0.92M568.99 262.59l0.41 0.29" stroke="#aaa0a6" stroke-width="1.1" stroke-linecap="round" fill="none" opacity="0.45"/>
<path d="M594.46 288.51l-0.19 0.5M570.8 258.18l0.06 1.21M656.79 259.44l0.41 0.82M577.94 221l-0.47 0.67M570.01 224.11l-0.52 0.94M581.63 221.98l0.03 1.21M620.12 258.19l0 1.15M643.42 234.67l-0.72 0.17M658.01 258.31l-0.43 1.08M649.81 243.53l-0.14 0.92M671.39 233.47l-0.42 0.63M647.95 248.42l0.21 0.58M669.35 294.84l0.94 0.29M639.18 219.74l-0.17 0.49M644.05 267.94l0.67 0.2M567.42 266.46l0.33 0.5M636.71 267.53l0.43 0.4M638.41 286.36l-0.33 0.46M631.18 246.41l-0.79 0.16M667.97 225.25l0.13 0.81M674.49 267.03l0.86 0.81M623.76 291.66l0.14 0.55M575.36 262.03l-0.28 0.58M647.3 228.7l-0.38 0.85M608.33 258.65l0.67 0.18M669.82 273.09l0.49 1.06M597.35 229.98l-0.91 0.23M615.61 273.04l0.17 1.21M590.68 247.25l-0.54 0.26M565.67 231.02l1.06 0.51M633.08 248l-0.55 0.25M668.9 273.83l0.57 0.64M609.65 244.7l-0.54 0.46M582.14 253.27l-0.65 0.51M607.5 291.1l0.43 1.06M630.38 222.77l-0.06 0.53M576.52 259.06l-0.55 0.86M569.85 265.53l-1.19 0.3M657.46 226.04l-0.32 0.39M571.04 267.89l-0.04 0.59M642.56 220.13l0.29 0.91M612.28 227.61l-0.84 0.66M604.39 259.89l-0.81 1.01M644.66 220.81l0.65 0.11M588.16 268.72l1.23 0.42M652.96 259.48l-0.63 0.09M634.61 230.56l0.01 0.63M608.16 272.56l-0.67 0.09M657.48 228.04l0.66 0.02M653.24 278.11l0.19 0.76M637.99 274.02l-0.6 0.28M628.5 225.18l-0.49 1.15M652.55 235.14l0.42 0.51M621.67 265.34l0.52 0.59M579.82 228.96l0.28 0.82M639.07 277.57l0.52 0.62M567.02 266.21l0.28 0.47M564.88 266.11l0.31 0.41M659.14 221.05l-0.77 0.26M594.57 293.28l0.53 0.86M632.04 228.18l-0.01 0.94M603.61 286l1.22 0.11M562.59 220.45l-0.77 0.1M600.05 225.6l0.09 0.58M651.41 242.35l0.44 0.68M586.89 238.21l-1.16 0.12M658.33 236.08l0.88 0.05M653.01 242.25l-0.52 0.59M616.74 246.79l1.19 0.24M666.01 235.04l-0.81 0.18M669.31 285.21l-0.49 0.92M616.23 237.55l1.15 0.02M627.65 270.87l-1.21 0.22M612.38 226.3l-0.56 0.56M603.19 259.76l0.4 0.4M560.3 292.92l-0.98 0.16M670.7 272.39l1.04 0.59M664.55 278.66l-0.74 0.6M636.64 278.45l-1.17 0.07M662.53 254.85l-0.12 0.6M666.43 275.37l0.66 0.29M592.35 246.6l1.22 0.04M670.3 292.02l1.18 0.08M563.99 237.59l-0.99 0.22M642.91 272.49l-0.74 0.55M572.74 267.82l1.14 0.12M659.5 270.77l0.12 0.91M612.53 219.63l0.05 0.57M564 261.1l0.87 0.11M622.52 252.22l0.26 0.76M629.66 283.31l-1.18 0.23M631.71 244.82l0.08 0.62M593.84 267.58l1.25 0.34M637.48 283.81l-0.67 0.37M571.65 243.55l-0.77 0.48M637.99 272.21l-0.5 0.46M622.95 293.28l-0.19 1.19M664.8 242.9l0.63 0.61M632.99 237.23l-1.06 0.24M655.4 259.79l-0.48 0.91M572.45 283.65l-0.94 0.55M580.9 245.27l1.03 0.17M638.42 276.88l-0.07 1.17M560.19 227.46l0.18 0.7M661.32 286.78l0.8 0.1M580.97 276.01l-1.28 0.2M605.68 230.65l-0.98 0.78M607.26 281.23l-1.04 0.24M652.26 267.16l-0.14 1.03M608.44 258.11l0.89 0.67M645.69 288.99l0.36 0.59M663.67 256.5l-0.49 0.1M652.6 229.99l-0.55 0.58M572.74 273.35l0.72 0.3M663.26 266.67l-1.05 0.07M597.37 238.3l1.08 0.47M610.88 287.55l0.46 0.42M667.73 270.95l-0.97 0.42M640.43 240.55l-0.12 0.67M667.97 279.03l-1.19 0.03M633.98 242.35l0.6 0.9" stroke="#968ca0" stroke-width="1.1" stroke-linecap="round" fill="none" opacity="0.45"/>
<path d="M616.64 274.41l0.25 1.12M670.18 235.21l-0.77 0.07M578.42 281.58l0.41 1.21M593.96 248.99l0.54 0.54M634.66 230.17l-1 0.36M628.14 293.58l-0.3 0.86M596.33 232.33l-0.37 0.41M573.03 244.13l-1.11 0.09M646.32 225.22l0.33 0.59M617.79 224.69l-0.49 0.31M601.78 221.13l-0.43 0.7M643.03 290.06l0.34 0.49M588.66 290.13l0.3 0.63M568.82 292.61l0.6 0.24M664.39 246.06l0.15 1.03M629.08 270.4l-0.36 0.84M606.47 278.19l-0.78 0.53M578.93 229.46l-0.58 0.51M611.38 261.41l-0.69 0.48M633.11 252.94l-0.34 1.19M573.19 276.44l-0.15 1.13M607.3 227.56l-0.89 0.17M584 238.05l-0.84 0.22M618.81 273.07l0.89 0.42M606.3 227.22l0.59 0.6M611.03 283.32l0.63 0.55M668.84 277.56l-0.46 1.19M565.08 245.93l-0.41 0.47M567.8 240.46l0.55 0.06M659.87 284.7l-0.57 1M576.16 278.9l0.45 0.31M613.59 280.02l-0.09 1.18M620.97 251.82l0.91 0.6M628.09 264.45l0.53 0.21M664.22 275.88l-0.04 1.04M623.72 281.21l0.25 0.62M591.08 278.45l-0.37 0.49M634.27 288.29l0.69 0.68M645.35 241.31l-0.87 0.64M661.03 289.32l0.91 0.85M576.47 238.55l-0.92 0.76M602.65 257.08l1.19 0.16M664.1 269.38l-0.64 0.37M597.48 226.49l-1.12 0.49M658.55 288.89l-0.97 0.44M647.93 267.33l0.16 0.71M648.07 289.26l0.95 0.26M597.65 226.34l-0.95 0.34M609.98 266.46l-0.17 1.21M630.59 253.57l0.59 0.42M674.95 275.68l-0.62 1.07M645.6 270.85l0.68 0.89M604.3 266.68l0.46 0.26M619.54 220.23l-0.23 1.01M641.46 236.78l-0.6 0.04M561.98 293.12l1.22 0.03M628.22 241.33l-0.21 1.26M575.16 263.14l1.02 0.53M659.59 275.41l-0.96 0.86M595.81 258.42l-0.24 0.56M602.75 282.88l-0.04 1M657.76 269.95l0.64 0.83M615.97 280.74l0.7 0.35M629.08 244.3l0.84 0.46M655.64 290.34l-0.14 1.12M577.29 227.67l0.74 0.9M575.14 276.91l-0.84 0.7M608.67 288.06l0.34 0.53M667.33 266.64l0.04 0.71M581.87 282.17l-0.64 0.3M638.2 233.65l1.11 0.57M636.64 271l0.71 0.51M562.14 235.34l-0.71 0.28M631.03 266.55l-0.26 0.52M604.46 228.01l0.34 0.4M595.39 238.98l0.22 0.51M599.09 279.31l-0.74 0.1M643.06 280.16l0.36 0.62M585.75 296.01l-0.64 0.29M558.99 283.98l0.8 0.13M661.67 256.85l0.43 0.59M584.05 255.66l-0.77 0.78M573.22 222.81l0.56 1.11M664.88 241.25l-0.11 1.27M588.38 255.61l-0.26 1.08M660.51 266.08l0.51 0.33M569.99 229.74l-0.79 0.76M573.76 238.92l-0.59 0.75M658.59 252.67l-0.61 0.84M560.56 221.34l-0.58 0.5M596.13 257.97l-0.3 1.16M588.26 237.01l0.09 1.25M623.05 227.03l-0.3 0.49M626.16 255.46l0.31 0.79M664.89 291.47l0.22 0.68M609.92 248.74l0.89 0M604.81 284.65l-0.57 0.46M653.1 294.25l-0.25 0.85M567.72 245.38l-0.92 0.03M569.11 265.99l-0.06 0.88M667.39 242.04l-0.46 0.61M661.79 288.24l-0.58 0.96M567.53 284.87l-0.67 0.93M593.78 264.21l0.9 0.26M642.25 288.69l-0.23 1.03M627.19 250.73l0 1.05M579.43 232.13l1.05 0.71M576.33 281.43l-0.64 0.23M672.92 230.54l-0.36 1.04M608.37 280.98l0.52 0.01M673.4 223.71l1.02 0.09M589.86 291.68l-0.04 1.25M564.8 261.39l0.75 0.35M655.68 243.27l-1.1 0.07M591.17 270.28l1.2 0.25M576.79 287.13l1.08 0.61M635.99 231.78l-0.61 0.48M616.38 231.39l-0.12 1.14M661.83 268.4l-0.79 0.28M581.52 271.65l-0.15 0.51M593.82 292.81l0.58 0.69M589.74 263.71l1.28 0.23M589.48 270.49l0.78 0.84M631.69 294.31l0.69 0.07M665.84 276.23l-0.54 0.63M590.25 294.94l-0.98 0.51M664.01 228.21l0.87 0.25M668.85 264.21l-0.23 0.51M664.05 264.17l-0.88 0.09M571.67 252.1l-0.48 0.53M654.02 286.55l0.09 0.99M599.96 219.98l0.89 0.1M559.91 294.75l-0.66 0.57M624.41 279l-1.05 0.68M633.85 274.27l0.23 0.57" stroke="#a48a80" stroke-width="1.1" stroke-linecap="round" fill="none" opacity="0.45"/>
<path d="M668.66 287.11l0.24 0.47M601.8 219.81l0.85 0.09M656.73 283.54l0.49 0.69M564.94 222.46l-0.04 0.54M597.82 238.12l-0.8 0.73M609.09 224.89l-0.77 0.5M635.53 223.38l0.87 0.22M560.09 292.47l-0.21 0.45M639.41 292.66l-0.64 0.1M616.7 292.69l-0.93 0.43M629.39 282.47l-0.2 0.57M587.87 219.5l0.13 0.76M611.79 225.75l0.68 0.85M583.72 279.18l-0.15 0.74M664.45 248.43l-0.01 0.54M662.11 257.88l-0.94 0.89M672.15 285.88l-0.43 0.33M617.68 233.86l0.81 0.3M580.3 226.14l-0.93 0.68M583.45 234.74l-0.69 0.33M647.26 253.5l0.04 0.8M650.84 251.82l-0.84 0.45M613.65 221.19l0.68 0.01M662.61 257.11l0.41 0.82M657.09 241.03l-0.7 0.85M607.76 271.29l-0.45 0.41M637.29 246.93l-0.6 0.68M575.18 236.52l0.79 0.64M566.28 270.3l0.71 0.77M605.49 293.54l0.11 0.84M581.71 237.4l-0.04 0.55M628.98 293.02l0.45 1M650.69 236.19l-0.69 0.42M559.72 266.68l0.85 0.88M650.6 238.1l-0.83 0.63M608.61 236.2l-0.92 0.52M594.99 249.67l-0.06 1.26M629.95 238.18l0.58 0.68M584.12 275.85l0.52 0.35M641.15 287.3l-0.92 0.07M579.54 282.18l-0.53 0.31M619.35 242.73l-0.72 0.26M629.82 240.62l-0.87 0.32M592.32 259.06l0.72 0M600.38 289.03l0.65 1.05M614.03 283.66l-0.81 0.36M583.45 294.49l-0.34 0.43M576.87 284.29l0.52 0.22M609.92 261.04l0.21 0.58M581.82 251.17l0.42 0.63M584.6 233.35l-0.2 0.54M593.8 230.39l0.93 0.53M563.42 252l0.11 0.99M614.29 240.7l0.4 1.19M628.29 290.64l-0.99 0.49M647.02 295.21l0.54 0.32M671.4 259.99l0.37 1.08M630.38 243.54l-0.45 0.6M586.17 279.11l-0.06 0.97M609.01 224l0.32 0.47M619.33 247.57l-0.88 0.64M630.85 283.34l1.06 0.6M568.51 279.08l1.03 0.18M662.22 243.21l0.66 0.28M582.07 269.73l0.8 0.09M649.8 263.2l-1.01 0M629.2 224.91l-0.88 0.7M654.17 287.94l1.13 0.3M579.36 291.7l-0.27 0.49M648.7 228.5l0.86 0.29M608.38 227.89l0.56 0.52M589.96 260.56l-0.46 0.47M646.47 255.26l-0.77 0.23M629.89 227.74l0.23 0.88M586.56 231.66l0.92 0.42M564.01 264.84l0.62 1.08M594.97 289.34l0.49 0.08M642.55 249.38l1.21 0.05M598.59 238.24l-0.05 0.88M560.93 254.4l-0.57 0.72M653.01 258.03l-0.46 0.74M602.74 237.74l0.84 0.18M628.88 285.28l-0.08 0.57M630.05 237.23l-0.09 1.17M616.51 244.22l0.83 0.09M613.15 221.29l1.22 0.02M605.11 255.28l-0.13 0.76M642.23 253.14l-0.67 0.4M647.43 281.86l-0.91 0.24M603.33 241.67l-0.41 0.91M618.51 251.38l0.8 0.23M652.29 230.52l0.85 0.58M595.39 292.76l0.49 1.03M614.18 239.62l0.3 0.42M600.17 228.58l-0.14 0.56M575.39 295.24l-0.92 0.57M644.54 235.54l-0.55 0.95M645.95 285.19l0.17 0.79M647.1 221.32l1.24 0.02M619.9 281.91l-0.61 0.56M666.27 242.68l-0.4 0.37M585.61 246.1l0.27 0.98M641 239.58l-0.19 0.48M653.92 247.18l0.51 0.02M580.93 236.17l0.45 0.78M650.28 250.49l-0.59 0.29M621.03 240.99l0.3 0.7M627.33 233.88l-0.32 0.89M606.42 223.09l-0.52 0.49M655.07 277.04l-0.11 0.86M593.77 260.82l0.96 0.61M596.33 275.14l-0.9 0.41M662.46 246.37l-1.11 0.34M626.56 234.59l0.36 0.76M578.78 237.5l0.47 0.71M589.23 240.41l-0.37 0.73M603.16 259.48l-0.86 0.63M654.61 245.58l-0.57 0.56M571.3 221.28l-0.39 0.43M646 257.49l0.96 0.23M577.63 227.26l0.82 0.38M673.07 226.79l0.94 0.52M618.92 269.6l0.08 1.23M640.67 247.27l0.78 0.47M616.94 290.68l0.69 0.53M641.94 283.88l0.62 0.12M606.82 282.04l-0.79 0.15M584.66 219.77l-0.27 1.04M645.56 233.45l-0.45 0.53M657.58 289.66l0.49 0.31M579.95 272.77l-0.94 0.24M597.12 245.05l0.44 0.28M611.05 270.28l0.93 0.6M562.16 241.96l-0.51 0.61M627.86 295.22l-0.43 0.66M602.43 231.59l-1 0.16M648.46 292.54l0.7 0.36M566.1 281.23l-0.05 0.67M659.65 276.64l-0.92 0.53M639.76 269.74l-0.08 1.07M651.54 274.89l-0.11 0.96M615.92 259.86l1.06 0.48M594.47 249.3l1.14 0.13M661.12 272.57l-0.67 1.04M572.08 224.66l-1.03 0.16M608.45 282.94l0.57 0.2M634.63 250.73l-1.21 0.22M583.96 234.67l-0.32 0.93M609.97 243.94l0.35 1.08M587.62 273.59l0.56 1.08M657.3 237.21l-1.03 0.35M646.83 285.51l-0.34 1.07" stroke="#98a0bc" stroke-width="1.1" stroke-linecap="round" fill="none" opacity="0.45"/>
<path d="M560.89 275.62l-1.2 0.31M672.84 228.16l-0.45 0.43M627.75 237.09l-0.89 0.55M605.44 295.18l0.47 0.49M610.63 273.48l0.51 0.24M561.89 292.6l0.98 0.18M626.81 256.45l0.36 0.65M642.75 271.27l0.28 0.45M589.11 261.47l-1.02 0.79M627.49 295.53l0.14 0.54M673.05 267.29l0.7 0.11M633.44 259.53l-0.83 0.2M584.06 284.62l1.15 0.21M596.42 293.06l0.27 1.04M577.37 263.24l-0.58 0.76M573.39 260.23l0.21 0.51M593.04 295.91l1.01 0.26M610.79 230.89l0.62 0.66M625.55 225.31l-1.03 0.37M619.88 256.8l0.21 1.06M604.4 285.27l0.86 0.92M571.42 246.03l-0.14 0.82M629.33 279.67l-0.69 0.81M625.29 220.69l1.17 0.55M623 240.53l-0.79 0.75M640.08 225.44l-0.36 0.91M657.66 274.01l0.62 0.04M568.43 231.63l-0.05 0.99M644.03 239.71l0.05 1.19M581.84 255.32l0.67 0.08M611.23 233.97l-0.23 0.76M668.48 292.16l0.67 0.79M560.07 270.92l-0.44 0.49M569.28 232.06l0.35 0.66M583.53 220.54l-0.56 0.38M582.52 273.09l-0.18 0.52M649.02 249.32l0.38 1.21M615.11 261.47l-0.16 0.83M650.64 221.35l0.68 0.23M593.62 254.77l-0.59 0.03M567.41 262.33l-0.4 0.52M618.05 232.98l0.48 0.4M581.82 250.96l0.33 0.72M662.62 292.02l0.62 0.89M597.44 224.26l1.07 0.37M669.9 254.4l0.51 0.85M585 273.64l0.77 0.44M667.81 291.65l-1.18 0.3M607.03 221.34l-0.93 0.52M633.71 251.79l-0.82 0.89M598.53 230.61l-0.05 1.05M584.34 277.92l1.05 0.71M632.08 280.87l-0.61 0.34M642.68 247.33l-0.95 0.33M661.18 225.46l0.45 0.51M565.36 251.22l-0.31 0.76M650.6 291.1l-0.59 0.07M563.08 267.89l0.54 0.67M620.14 232.04l0.99 0.54M593.41 274.38l-0.04 0.58M606.47 266.37l-0.61 0.43M619.82 288.77l-0.11 0.92M634.53 292.2l-0.33 0.39M615.51 285.89l0.26 0.99M644.24 252.95l0.19 0.73M634.52 245.86l-1.18 0.17M582.09 223.38l0.54 0.95M629.34 229.11l-0.2 0.99M648.29 283.46l0.15 0.76M621.92 293.76l-0.09 0.59M643.89 246.03l-1.06 0.2M619.51 252.27l-0.73 0.41M651.94 254.28l1.17 0.26M617.86 236.25l0.15 0.61M568.39 247.33l0.59 0.7M631.58 219.72l-0.58 0.49M591.81 288.15l-0.53 0.97M637.54 271.41l-0.16 0.82M602.09 295.96l0.86 0.28M670.67 268.3l0.25 0.69M623.53 238.4l-0.62 0.26M674.83 291.13l-0.25 0.58M597.57 264.86l-0.53 0.99M628.13 234.02l0.47 0.21M606.62 220.57l-0.51 0.69M597.4 261.74l0.63 0.91M587.54 277.74l-0.16 0.63M635.13 232.75l1.04 0.07M599.66 251.03l0.8 0.84M567.58 294.53l0.1 0.73M607.89 228.85l0.75 0.8M604.62 236.12l1.09 0.09M632.14 258.91l-1.27 0.01M594.86 264.77l0.48 0.67M634.17 223.66l0.65 0.09M575.39 238.94l-0.09 0.63M629.01 228.89l0.58 0.93M650.52 221.36l0.09 0.94M602.58 272.02l-0.56 0.01M671.23 231.97l-0.37 0.49M659.48 251.35l0.65 0.87M655.16 268.68l0.43 0.29M582.5 276.25l0.03 1.03M616.63 233.95l-0.75 0.48M586.04 276.54l0.34 1.25M620.35 228.1l1.15 0.04M620.64 235.29l-0.32 0.45M585.68 277.55l-0.11 1.09M673.52 229.49l0.41 0.93M670.18 267.08l0.62 0.72M567.43 290.89l0.87 0.67M590.18 261.38l0.38 0.6M576.06 272.87l0.64 0.19M615.26 284.02l-0.32 0.95M634.06 255.26l-0.46 0.39M604.4 257.37l-1.22 0.23M668.21 257.75l-0.73 0.45M617.07 291.45l1.11 0.53M633.76 273.82l-0.45 0.37M671.76 276.84l0.34 1.13M652.32 281.11l1.18 0.15M660.75 288.39l-0.53 0.82M561.26 286.67l0.75 0.34M631 267.38l0.75 0.83M600.22 240.26l-1.04 0.73M646 271.57l0.29 0.5M574.12 226.06l0.58 0.11M602.83 230.69l-0.58 0.14M668.3 269.9l-0.99 0.67M579.17 231.26l-1.24 0.17M601.65 247.37l1.15 0.57M575.56 220.5l-0.97 0.33M627.19 231.94l0.72 0.31M633.85 219.66l0.38 0.5" stroke="#9a8c94" stroke-width="1.1" stroke-linecap="round" fill="none" opacity="0.45"/>
<g filter="url(#bl1)">
<ellipse cx="616" cy="227.6" rx="9.8" ry="3.5" fill="#f6f3ef" transform="rotate(-5 616 227.6)"/>
<ellipse cx="643.6" cy="226.7" rx="3.5" ry="3.5" fill="#f6f3ef"/>
<ellipse cx="672" cy="227.6" rx="3.5" ry="5.6" fill="#f6f3ef"/>
<ellipse cx="609.2" cy="243.8" rx="3.5" ry="2.1" fill="#f6f3ef"/>
<ellipse cx="643.6" cy="256.8" rx="3.5" ry="9.8" fill="#f6f3ef"/>
<ellipse cx="656.5" cy="251.7" rx="2.8" ry="2.8" fill="#f6f3ef"/>
<ellipse cx="609.2" cy="263.8" rx="9.8" ry="3.5" fill="#f6f3ef" transform="rotate(30 609.2 263.8)"/>
<ellipse cx="594.5" cy="274.9" rx="9.8" ry="3.92" fill="#f6f3ef" transform="rotate(15 594.5 274.9)"/>
<ellipse cx="664.2" cy="273.2" rx="12.6" ry="3.5" fill="#f6f3ef" transform="rotate(-30 664.2 273.2)"/>
<ellipse cx="571.2" cy="285.3" rx="3.5" ry="5.6" fill="#f6f3ef"/>
<ellipse cx="607.4" cy="282.7" rx="4.9" ry="2.8" fill="#f6f3ef"/>
<ellipse cx="590.2" cy="292.2" rx="4.9" ry="3.08" fill="#f6f3ef"/>
<ellipse cx="645.2" cy="285.3" rx="6.3" ry="3.08" fill="#f6f3ef"/>
<ellipse cx="610.9" cy="292.2" rx="4.2" ry="2.8" fill="#f6f3ef"/>
<ellipse cx="669.2" cy="243.1" rx="2.8" ry="2.8" fill="#f6f3ef"/>
</g>
</g></g>
<line x1="648.2" y1="293.2" x2="673.2" y2="293.2" stroke="#3a3a3a" stroke-width="1.1"/>
<g clip-path="url(#c2)"><g filter="url(#soft)">
<rect x="440.8" y="311" width="116" height="77.3" fill="#e0d3c8"/>
<g filter="url(#bl2)">
<ellipse cx="506.96" cy="359.87" rx="10.76" ry="4.49" fill="#d6d8e2" opacity="0.8" transform="rotate(167.54 506.96 359.87)"/>
<ellipse cx="535.57" cy="332.43" rx="6.34" ry="3.94" fill="#e6e4e6" opacity="0.8" transform="rotate(135.09 535.57 332.43)"/>
<ellipse cx="516.42" cy="379.86" rx="8.11" ry="3.53" fill="#cfb6a4" opacity="0.8" transform="rotate(41.02 516.42 379.86)"/>
<ellipse cx="546.22" cy="325.42" rx="4.65" ry="2.81" fill="#c8ac98" opacity="0.8" transform="rotate(14.07 546.22 325.42)"/>
<ellipse cx="516.4" cy="358.7" rx="4.82" ry="4.59" fill="#d8c6b8" opacity="0.8" transform="rotate(171.02 516.4 358.7)"/>
<ellipse cx="499.19" cy="385.69" rx="4.5" ry="4.78" fill="#cfb6a4" opacity="0.8" transform="rotate(103.26 499.19 385.69)"/>
<ellipse cx="502.08" cy="345.42" rx="10.97" ry="4.04" fill="#cfb6a4" opacity="0.8" transform="rotate(154.54 502.08 345.42)"/>
<ellipse cx="550.25" cy="360.13" rx="5.09" ry="2.07" fill="#cfb6a4" opacity="0.8" transform="rotate(146.49 550.25 360.13)"/>
<ellipse cx="475.75" cy="334.91" rx="4.97" ry="2.12" fill="#cfb6a4" opacity="0.8" transform="rotate(105.86 475.75 334.91)"/>
<ellipse cx="498.35" cy="315.07" rx="5.47" ry="3.67" fill="#cfb6a4" opacity="0.8" transform="rotate(60.22 498.35 315.07)"/>
<ellipse cx="511.28" cy="367.88" rx="4.62" ry="4.68" fill="#d6d8e2" opacity="0.8" transform="rotate(156.07 511.28 367.88)"/>
<ellipse cx="490.23" cy="376.44" rx="10.78" ry="4.26" fill="#cfb6a4" opacity="0.8" transform="rotate(144.94 490.23 376.44)"/>
<ellipse cx="548.45" cy="353.95" rx="7.48" ry="2.87" fill="#e6e4e6" opacity="0.8" transform="rotate(58.83 548.45 353.95)"/>
<ellipse cx="519.84" cy="320.06" rx="4.9" ry="3" fill="#e6e4e6" opacity="0.8" transform="rotate(69.62 519.84 320.06)"/>
<ellipse cx="447.3" cy="386.76" rx="9.26" ry="2.81" fill="#cfb6a4" opacity="0.8" transform="rotate(95.02 447.3 386.76)"/>
<ellipse cx="473.8" cy="327.49" rx="9.87" ry="2.78" fill="#d8c6b8" opacity="0.8" transform="rotate(74.61 473.8 327.49)"/>
<ellipse cx="544.81" cy="368.96" rx="4.91" ry="4.4" fill="#c8ac98" opacity="0.8" transform="rotate(83.5 544.81 368.96)"/>
<ellipse cx="455.09" cy="335.87" rx="6.27" ry="4.21" fill="#cfb6a4" opacity="0.8" transform="rotate(4.21 455.09 335.87)"/>
<ellipse cx="468.95" cy="332.08" rx="4.55" ry="3.01" fill="#e6e4e6" opacity="0.8" transform="rotate(132.5 468.95 332.08)"/>
<ellipse cx="441.54" cy="351.56" rx="5.66" ry="3.84" fill="#cfb6a4" opacity="0.8" transform="rotate(89.24 441.54 351.56)"/>
<ellipse cx="476.1" cy="341.47" rx="8.19" ry="3.72" fill="#e6e4e6" opacity="0.8" transform="rotate(40.4 476.1 341.47)"/>
<ellipse cx="462.31" cy="319.51" rx="4.3" ry="2.48" fill="#cfb6a4" opacity="0.8" transform="rotate(62.24 462.31 319.51)"/>
<ellipse cx="444.62" cy="378.46" rx="4.82" ry="4.91" fill="#d6d8e2" opacity="0.8" transform="rotate(59.65 444.62 378.46)"/>
<ellipse cx="527.49" cy="354.26" rx="9.67" ry="2.12" fill="#d8c6b8" opacity="0.8" transform="rotate(121.06 527.49 354.26)"/>
<ellipse cx="455.17" cy="322.51" rx="4.9" ry="2.48" fill="#d6d8e2" opacity="0.8" transform="rotate(110.95 455.17 322.51)"/>
<ellipse cx="454.68" cy="335.47" rx="9.26" ry="4.54" fill="#d6d8e2" opacity="0.8" transform="rotate(33.94 454.68 335.47)"/>
<ellipse cx="447.48" cy="332.29" rx="5.4" ry="4.65" fill="#d6d8e2" opacity="0.8" transform="rotate(154.36 447.48 332.29)"/>
<ellipse cx="464.34" cy="325.91" rx="8.96" ry="2.85" fill="#d6d8e2" opacity="0.8" transform="rotate(163.34 464.34 325.91)"/>
<ellipse cx="516.63" cy="346.39" rx="8.39" ry="2.7" fill="#d6d8e2" opacity="0.8" transform="rotate(144.21 516.63 346.39)"/>
<ellipse cx="495.72" cy="338.68" rx="7.11" ry="3.2" fill="#cfb6a4" opacity="0.8" transform="rotate(66.41 495.72 338.68)"/>
<ellipse cx="503.33" cy="371.69" rx="7.09" ry="2.84" fill="#cfb6a4" opacity="0.8" transform="rotate(18.64 503.33 371.69)"/>
<ellipse cx="476.53" cy="316.43" rx="5.31" ry="2.99" fill="#d8c6b8" opacity="0.8" transform="rotate(150.19 476.53 316.43)"/>
<ellipse cx="496.62" cy="340.31" rx="4.92" ry="2.71" fill="#d8c6b8" opacity="0.8" transform="rotate(170.4 496.62 340.31)"/>
<ellipse cx="531.34" cy="319.58" rx="6.9" ry="2.44" fill="#c8ac98" opacity="0.8" transform="rotate(90.12 531.34 319.58)"/>
<ellipse cx="542.04" cy="312.15" rx="9.56" ry="3.19" fill="#cfb6a4" opacity="0.8" transform="rotate(161.87 542.04 312.15)"/>
<ellipse cx="503.7" cy="345.29" rx="7.72" ry="3.15" fill="#c8ac98" opacity="0.8" transform="rotate(17.38 503.7 345.29)"/>
<ellipse cx="477.38" cy="379.71" rx="10.77" ry="3.32" fill="#d8c6b8" opacity="0.8" transform="rotate(91.2 477.38 379.71)"/>
<ellipse cx="522.24" cy="323.62" rx="6.17" ry="3.62" fill="#c8ac98" opacity="0.8" transform="rotate(77.9 522.24 323.62)"/>
<ellipse cx="498.21" cy="358.33" rx="8.17" ry="4.76" fill="#d8c6b8" opacity="0.8" transform="rotate(74.58 498.21 358.33)"/>
<ellipse cx="444.69" cy="317.76" rx="4.1" ry="2.51" fill="#d6d8e2" opacity="0.8" transform="rotate(54.59 444.69 317.76)"/>
<ellipse cx="510.6" cy="367.39" rx="9.79" ry="4.79" fill="#e6e4e6" opacity="0.8" transform="rotate(144.78 510.6 367.39)"/>
<ellipse cx="494.47" cy="343.63" rx="5.36" ry="3.35" fill="#d8c6b8" opacity="0.8" transform="rotate(45.35 494.47 343.63)"/>
<ellipse cx="499.61" cy="331.14" rx="7.04" ry="3.5" fill="#e6e4e6" opacity="0.8" transform="rotate(63.11 499.61 331.14)"/>
<ellipse cx="542.47" cy="385.34" rx="4.83" ry="2.09" fill="#e6e4e6" opacity="0.8" transform="rotate(43.61 542.47 385.34)"/>
<ellipse cx="496.7" cy="312.59" rx="9.09" ry="3.88" fill="#c8ac98" opacity="0.8" transform="rotate(174.64 496.7 312.59)"/>
<ellipse cx="486.86" cy="373.08" rx="8.13" ry="4.47" fill="#e6e4e6" opacity="0.8" transform="rotate(63.15 486.86 373.08)"/>
<ellipse cx="478.49" cy="319.16" rx="6.02" ry="2.34" fill="#c8ac98" opacity="0.8" transform="rotate(162.07 478.49 319.16)"/>
<ellipse cx="462.29" cy="366.01" rx="4.22" ry="4.15" fill="#cfb6a4" opacity="0.8" transform="rotate(148.34 462.29 366.01)"/>
<ellipse cx="512.95" cy="333.12" rx="7.63" ry="2.96" fill="#cfb6a4" opacity="0.8" transform="rotate(77.94 512.95 333.12)"/>
<ellipse cx="513.13" cy="369.8" rx="7.58" ry="3.07" fill="#e6e4e6" opacity="0.8" transform="rotate(63.15 513.13 369.8)"/>
</g>
<path d="M548.72 361.02l7.19 -7.94M500.5 344.88l3.97 4.74M531.39 316l14.54 3.85M487.19 335.57l11.36 -2.21M475.4 357.66l6.26 0.82M521.42 341.4l6.14 -0.87M455.4 337.4l4.46 -5.24M521.87 350.17l4.26 -6.17M532.26 331.68l3.15 12.9M525.04 329.5l5.54 7.35M511.43 310.76l13.38 0.65M455.72 389.35l6.9 -10.4M484.99 371.89l7.91 -8.6M538.33 320.89l3.5 8.53M456.45 342.46l3.51 13.44M453.78 332.79l3.23 -6.58M548.82 379.25l7.93 -2.31M507.53 349.12l4.01 -9.79M539.13 367.04l9.34 -7.37M492.95 320.47l9.38 0.17M509.77 355.57l4.21 5.13M456.13 355.68l6.08 -4.44M469.88 364.49l6.29 -12.21M492.73 368.2l6.69 -2.6M457.07 331.82l7.31 0.93M522.83 374.04l2.1 6.28M448.61 312.75l10.41 7.1M440.97 323.83l6.25 0.85M454.49 358.69l5.28 7.78M499.02 322.66l8.87 -4.12" stroke="#ecebea" stroke-width="1.5" stroke-linecap="round" fill="none" opacity="0.35"/>
<path d="M499.02 351.02l0.72 0.32M484.91 318.48l-0.05 0.61M470.98 366.38l-0.21 0.65M545.6 368.66l0.31 1.11M503.42 376.78l0.38 0.46M474.51 374.96l0.76 0.1M549.98 340.75l0.2 1.38M554.25 382.52l-0.38 0.45M519.44 315.53l1.01 0.09M460.49 362.41l0.5 1.2M534.58 367.46l0.78 0.31M520.7 341.1l0.55 0.22M500.08 322.83l-0.13 1.16M494.27 354.23l0.98 0.89M503.77 336.68l0.51 0.24M518.91 318.45l0.32 0.39M530.98 325.85l1.22 0.59M462.69 341.5l0.01 0.81M490.77 356.65l-0.68 0.05M501.94 385.99l-0.96 0.16M442 314.41l-0.83 0.73M470.15 330.57l0.9 0.85M546.17 385.58l-0.99 0.31M528.04 364.35l-1.09 0.23M518.87 316.83l-0.55 0.19M455.8 329.32l-1.12 0.39M477.04 314.83l-0.5 1.23M447.43 354.32l0.69 0M443.29 380.75l-0.5 0.17M548.96 340.95l-0.78 0.83M453.38 387.58l1.08 0.51M465.03 378.84l0.5 0.79M552.67 372.72l0.56 0.13M460.01 355.28l-1.07 0.49M529.99 380.89l0.02 0.57M501.06 337.39l0.69 0.42M511.69 379.04l1.02 0.28M452.32 349.38l0.53 0.69M459.18 382.99l0.39 0.52M526.71 320.28l0.48 0.73M503.82 339.83l-1.18 0.01M554.98 332.62l-0.15 1.05M441.42 322.19l-0.04 1.05M523.74 366.1l-0.79 0.9M501.8 336.81l0.18 0.8M449.46 317.91l0.76 0M495.22 385.54l0.57 0.99M535.89 380.87l-0.56 1.06M449.69 310.89l-0.45 1.22M510.96 320.31l-0.46 0.5M507.99 377.09l0.33 0.92M546.9 374.14l0.64 1.04M512.86 323.12l0.35 0.78M472.59 313.04l-1.33 0.24M507.23 346.08l-0.6 0.1M499.87 320.09l-0.63 0.29M536.03 318.9l0.76 0.95M484.02 315.02l0.76 0.84M474.85 350.57l-0.26 0.56M443.37 370.31l0.05 0.59M515.61 384.7l1.01 0.53M504.49 369.89l-0.53 0.09M530.25 329l-1.37 0.17M464.23 331.43l-0.64 0.64M534.07 350.26l-0.28 1.16M472.39 379.27l0.52 0.54M486.72 317.53l0.55 0.24M467.4 376.64l-0.69 0.55M471.49 382.43l0.64 0.38M466.58 317.11l-0.47 0.58M548.02 333.7l0.21 0.8M490.51 387.05l-0.22 1.24M473.8 359.95l0.76 0.65M496.16 336.73l0.22 1.18M482.45 321.01l-1.1 0.12M481.87 345.56l0.14 0.52M455.28 327.81l-0.37 0.99M514.46 349.91l-0.04 1.16M515.1 313.71l0.14 0.64M482.98 321.9l-0.22 0.68M444.52 379.58l0.17 0.82M473.42 331.04l-0.79 0.43M490.18 316.51l-0.48 0.94M478.22 358.36l0.87 0.14M500.6 359.61l-0.57 1.27M516.1 382.93l-0.39 1.12M526.18 372.3l0.3 1.29M545.56 322.31l-1.28 0.4M485.83 346.75l-0.93 0.91M531.62 363.69l-0.51 0.61M480.78 355.97l0.59 0.26M554.24 314.1l0.82 0.54M556.28 382.01l-0.52 0.7M478.82 385.9l-0.53 0.38M543.16 339.67l-0.98 0.68M498.93 311.43l-0.74 0.35M474.1 353.43l-1 0.27M516.73 356.51l-0.05 0.56M543.04 367.85l-0.41 1.19M463.08 350.08l-0.31 0.4M464.49 382.85l0.81 0.07M524.3 337.08l-0.49 0.27M449.49 335.49l-0.5 0.06M494.88 341.2l0.23 0.9M468.19 325.07l-0.03 0.54M550.98 360.96l-0.14 0.86M458.37 368.61l-0.41 0.64M518.1 382.36l0.02 0.6M549.47 375.32l0.91 0.4M536.5 350.65l0.2 1.15M472.15 353.74l-1.15 0.65M470.31 369.75l-1.33 0.37M516.73 380l1.08 0.38M492.18 368.72l-0.05 1.19M521.58 370.44l-1.06 0.16M456.46 349.22l0.3 0.56M443.38 315.64l-0.49 0.53M496.94 322.94l1.25 0.22M554.36 379.06l-0.74 0.6M491.58 367.63l0.96 0.05M540.6 362.88l0.81 0.53M531.81 318.99l0.95 0.22M495.05 321.81l-0.89 0.87M491.54 347.31l0.62 0.3M535.86 328.81l0.55 0.3M483.95 386.1l0.31 0.57M510.03 319.66l0.93 0.1M473.38 382.78l0.61 0.92M473.68 346.71l-1.08 0.38M469.7 370.09l0.53 0.1M521.03 376.96l-0.47 0.4M491.81 351.02l-1.28 0.39M494.76 319.73l0.29 0.84M478.44 345.6l-0.13 1.2M494.91 331.25l-0.2 1.35M522.85 371.4l-0.9 0.31M532.15 379.51l1.28 0.21M529 383.24l0.83 1M449.98 327.57l0.05 0.75M472.46 317.34l0.45 1.12M466.61 352.87l-0.43 0.29M459.22 361.18l-0.77 0.48M458.78 338.08l0.66 0.07M544.72 312.58l0.57 0.68M456.15 370.63l-0.98 0.78M445.23 341.35l1.07 0.41M444.13 373.87l0.26 0.7M502.88 383.92l-0.19 0.73M553.59 322.65l0.75 1.17M492.35 311.28l0.24 0.63M483.61 350.59l0.41 1.09M524.31 368.37l-0.01 0.5M511.25 349l-0.65 0.33M473.4 321.46l1.04 0.02M472.79 364.49l-0.63 0.56M496.84 334.37l0.88 0.87M542.52 366.26l0.18 0.54M521.06 366.62l0.02 1.19M444.49 352.68l0.51 0.79" stroke="#a07264" stroke-width="1.2" stroke-linecap="round" fill="none" opacity="0.62"/>
<path d="M522.2 334.23l0.02 1.17M539.73 354.41l0.02 1.02M502.1 343.96l-0.32 0.53M458.61 339.24l0.27 0.88M479.51 335.84l1.26 0.21M483.17 369.93l-0.46 1.11M483.38 338.74l-1.01 0.31M547.55 336.16l-0.18 1.03M523.79 345.23l-0.3 0.8M552.47 367.4l0.73 1.16M490.17 332.28l0.04 1.07M463.43 323.3l0.37 1.04M510.62 311.12l-0.26 0.88M496.83 379.13l-0.28 0.54M533.66 329.34l-0.18 1.18M441.73 335.97l0.99 0.36M530.8 323.54l0.17 1.31M470.9 387.63l-0.46 1.26M548.43 348.41l0.87 0.27M460.77 341.47l-0.38 0.9M498.37 387.79l-0.52 0.69M487.84 369.11l-0.99 0.09M451.9 335.47l-0.66 0.31M540.35 345.66l-0.81 0.18M452.19 327.05l1.27 0.15M541.5 375.6l0.51 0.4M522.72 357.7l-1.31 0.22M490.98 362.71l-0.38 0.4M531.3 351.16l0.76 0.26M532.66 370.73l0.64 1.08M476.11 344.21l-0.29 0.54M507.87 385.23l-0.13 0.91M550.57 335.99l0.62 1.08M523.61 386.82l0.74 0.57M443.88 356.5l0.49 0.28M483.85 329.05l-0.26 0.52M555.9 331.15l-0.27 0.64M442.6 374.98l-0.58 0.68M452.79 355.33l-0.66 0.8M515.01 332.58l1.3 0.36M466.18 379.49l-0.5 1.12M543.41 322.15l-0.59 0.5M537.35 322.36l-0.9 0.68M455.26 359.4l-0.42 0.8M447.97 345.6l1.09 0.64M453.33 379.97l1 0.94M530.82 320.05l0.4 0.31M454.49 315.56l0.03 1.23M465.09 329.72l0.33 0.46M526.47 355.52l-0.69 0.37M528.71 361.94l-0.63 0.95M486.1 315.19l0.38 1.1M545.8 347.19l0.63 0.12M551.53 371.37l0.79 0.3M521.58 377.39l-0.98 0.16M447.88 331.1l0.32 0.97M538.82 364.5l0.83 0.42M532.64 337.3l-0.57 1.18M477.99 322.51l-0.14 0.86M478.79 340.87l-0.82 0.09M460.63 379.84l-0.39 0.71M500.55 334.7l1.24 0.49M553.54 349.74l-0.31 0.88M495 358.48l-0.53 0.81M487.43 379.95l0.3 0.55M538.57 376.33l-0.63 0.19M454.44 385.59l0.37 0.34M545.62 314.75l0.62 0.34M552.7 384.02l0.85 0.17M503.29 310.79l-0.25 1.23M449.98 362.39l-0.25 1.16M471.23 374.15l-0.71 0.84M444.31 326.87l-0.82 0.05M550.15 347.52l0.72 0.25M471.18 310.47l0.54 1.25M543.69 373.17l0.92 0.24M491.12 380.44l0.79 0.93M461.06 337.49l-0.57 0.15M523.19 336.18l-1.25 0.02M458.16 357.66l-1.3 0.03M463.99 342.85l-0.67 0.49M537.51 387.44l0.16 0.78M470.05 359.02l-1 0.21M499.81 340.7l0.68 0.17M449.13 346.87l-0.97 0.81M466.2 355.85l-0.73 0.34M465.54 311.95l1.04 0.44M485.36 385.09l0.42 0.37M484.44 344.79l-1.04 0.15M458.29 332.4l0.53 0.28M464.53 325.39l0.63 0.46M442.32 378.67l0.11 0.55M535.01 318.05l0.13 1.2M481.65 347.58l-0.58 0.25M552 374.06l0.53 0.85M451.13 378.72l-0.85 0.86M470.29 355.59l1.22 0.54M527.25 316.51l-0.27 0.47M454.57 365.51l0.58 0.05M483.35 322.74l0.68 0.8M481.1 362.55l-0.57 0.99M522.94 317.92l-0.58 0.58M464.12 382.83l0.12 0.93M508.09 363.62l-0.83 0.46M502.18 348.38l0.12 0.68M522.85 361.11l-0.08 1.19M452.91 348.78l-1.2 0.51M553.44 380.65l0.6 0.32M552.01 376.48l0.86 0.72M541.5 377.85l1.27 0.21M491.97 370.49l0.36 0.94M546.26 323.11l-0.79 0.95M479.61 317.55l-1.3 0.46M456.4 388.08l1.05 0.45M519.98 346.03l0.66 0.45M508.37 353.14l-0.88 0.12M524.92 385.02l0.39 0.71M536.23 345.39l0.78 0.7M555.63 347.93l0.29 0.45M508.87 311.19l-0.89 0.64M505.73 344.57l0.02 1.16M502.9 332.93l-0.81 0.64M470.33 362.96l-0.55 0.38M538.23 316.5l0.47 0.92M511.94 355.83l0.82 0.56M553.2 357.72l0.78 0.03M501.56 365.15l-0.31 1M501.02 355.67l-0.91 0.09M527.03 321.74l0.4 0.36M546.13 360.14l-0.2 1.24M508.51 353.72l0.25 0.8M528.54 329.9l1.16 0.35M533.76 329.69l0.5 0.14" stroke="#8e92b8" stroke-width="1.2" stroke-linecap="round" fill="none" opacity="0.62"/>
<path d="M490.88 369.76l-0.68 0.27M461.07 351.82l0.12 1.03M546.12 356.43l-0.41 0.74M465.79 351.6l1.25 0.26M473.3 369.13l-0.42 1.01M535.29 372.03l0.37 0.41M508.89 311.72l0.31 0.4M470.6 321.6l-0.43 0.3M544.79 383.8l-0.61 0.37M552.82 371.58l-0.91 0.26M458.9 342.6l-0.69 0.24M544.82 338.99l0.41 0.47M531.32 341.1l-0.59 1.06M544.8 323.12l-0.05 1.15M541.85 331.52l0.13 0.77M467.21 366.51l-0.52 0.14M548.94 353.72l-0.57 0.96M536.55 322.96l-0.82 1.04M462.69 326.29l-0.25 1.2M510.83 370.44l0.61 0.47M456.45 377.03l0.11 0.79M528.92 354.94l-0.31 1.29M545.45 370.06l-1.14 0.58M543.53 337.63l-0.94 0.7M496.96 333.18l0.14 1.08M442.28 364.09l0.93 0.63M507.95 310.95l-0.41 1.03M504.52 311.48l0.6 0.96M456.88 339.93l0.59 0.09M481.85 328.08l1.13 0.33M474.84 349.93l1.07 0.17M506.15 346.29l0.28 1.08M512.99 358.61l-0.9 0.11M549.01 329.13l0.67 0.42M545.04 360.76l-0.48 0.71M520.5 315.62l-0.83 0.44M471.89 333.44l0.56 0.39M529.48 361.31l0.26 0.73M460.56 383.93l0.81 0.26M521.61 334.35l0.31 0.82M509.78 360.83l0.49 0.14M468.18 313.66l0.41 1.07M538 349.49l-0.78 0.12M555.47 312.2l0.3 1.16M455.64 350.95l-0.47 0.3M517.35 384.96l0.45 1.05M544.86 346.41l-0.55 0.91M511.67 362.72l-0.97 0.02M495.7 374.88l1.25 0.32M479.34 370.03l-0.69 1.13M521.87 323.99l-0.99 0.25M540.37 385.14l-0.5 0.23M466.3 378.57l-0.43 0.35M468.89 378.16l1.29 0.08M453.03 378.96l0.51 0.66M487.45 328.23l-0.23 0.55M485.3 382.51l1.25 0.36M488.03 361.2l-0.65 0.23M537.22 320.68l-0.64 0.2M454.07 377.54l-0.4 0.87M529.37 380.89l-0.51 1.12M486.43 315.12l0.72 0.07M536.79 359.85l0 1.33M522.1 383.02l-0.7 0.48M495.51 337.97l-0.35 0.65M451.69 361.78l-0.35 0.36M445.11 359.35l0.52 0.85M502.41 350.71l0.91 0.81M451.69 378.74l0.12 0.87M523.6 361.16l0.59 0.44M455.63 371.62l0.77 0.46M544.37 311.37l-1.32 0.38M513.98 311.4l0.47 0.67M520.88 364.17l-0.02 1.03M456.5 355.69l-0.45 0.47M456.36 361.2l0.44 0.59M535.62 384.81l-1 0.41M533.88 372.27l-0.53 0.81M449.16 386.8l-0.41 0.84M461.26 344.44l-1.18 0.01M539.54 323.5l0.2 0.78M487.8 366.06l0.48 0.31M499.71 380.5l-1.08 0.8M495.14 340.71l-0.29 0.98M513.35 311.35l-0.71 1M545.64 330.58l-0.7 0.73M520.6 316.47l-0.63 1.08M489.06 368.93l0.94 0.23M552.84 364.37l1.3 0.44M454.6 339.18l-0.86 0.65M462.33 386.34l-0.69 0.44M521.77 387.22l-0.87 1.05M495.9 324.23l-0.55 1.02M468.76 349.15l0.16 0.65M497.17 378.66l0.83 0.5M450.09 384.09l-0.58 0.48M480.43 316.73l0.32 0.83M446.51 350.44l0.67 0.42M542.12 378.82l-0.08 0.55M490.64 385.55l-1.13 0.6M526.36 343.69l-0.46 0.23M494.34 317.49l-0.09 1M522.69 326.65l-0.68 0.25M511.53 381.7l-0.29 0.84M475.24 385.51l-0.81 0.6M506.38 376.47l-0.98 0.35M526.35 373.25l-0.41 0.44M478.84 329.5l0.83 0.21M471.9 338.73l0.39 0.73M524.36 324.76l-0.51 0.14M539.36 354.26l0.02 1.2M457.73 379.87l-0.37 0.52M507.46 379.42l-1.32 0.41M485.65 347.7l-1 0.25M511.82 340.3l0.76 0.09M524.12 316.23l-1.3 0.41M523.26 354.1l1.24 0.17M542.03 379.86l-0.44 0.32M445.54 356.21l-0.04 0.6M452.91 359.41l-0.11 0.89M539.5 320.19l-0.1 0.51M511.49 358.35l-0.99 0.78M451 326.91l1.11 0.82M457.01 339.37l0.32 1.32M465.5 369.26l-0.33 0.83M505.16 339.98l-1.03 0.11M487.2 365.9l-1.02 0.13M448.99 362.95l-1.27 0.55M504.41 332.49l-0.49 0.47M450.93 365.62l-0.43 0.62M480.33 318.04l0.67 0.22" stroke="#b08470" stroke-width="1.2" stroke-linecap="round" fill="none" opacity="0.62"/>
<path d="M492.8 332.01l-0.88 0.49M446.25 366.25l1.04 0.88M500.21 369.14l1.17 0.62M509.51 337.19l-0.18 0.98M511.51 358.77l1.23 0.31M507.32 321.12l0.51 0.69M512.43 369.17l0.4 0.49M541.37 363.89l1.24 0.54M442.94 364.94l0.62 1.08M532.41 337.66l0.89 0.83M454.87 323.49l-0.75 0.15M458.79 356.91l0.03 0.82M520.04 356.41l-0.11 0.56M501.08 381l-0.77 0.77M554.86 341.5l-0.11 0.6M510.65 348.45l-0.18 0.89M446.92 339.82l-1.04 0.02M482.67 319.06l0.34 0.96M484.64 362.24l-0.69 0.19M447.43 332.9l-0.46 0.52M458.97 368.87l-0.47 0.56M551.73 348.44l0.38 0.43M482.54 349.37l0.64 0.37M518.7 351.95l-0.6 0.57M548.11 314.28l-0.04 1.1M468.37 368.71l-0.41 0.74M452.3 317.92l-0.42 0.43M551.25 319.99l0.27 0.77M486.1 380.34l0.25 1.28M539.91 346.19l0.99 0.61M540.99 376.85l0.84 0.27M459.09 355.4l-1.16 0.27M524.23 368.35l1.17 0.55M527.74 372.99l-0.11 1.19M464.81 320.32l-0.1 0.7M516.98 364.43l0.7 0.04M530.51 380.95l-0.07 0.92M486.88 367.83l-0.15 1.07M483.13 385.5l0.34 0.54M486.3 354.17l-0.53 0.21M505.06 332.36l-0.59 0.11M497.85 317.6l0.06 0.52M499.18 321.95l-0.98 0.64M477.46 334.1l-0.34 0.79M510.37 337.28l0.37 0.68M488.78 328.92l-0.51 0.09M462.92 341.43l0.86 0.28M461.95 359.54l-0.52 0.1M548.98 375.37l-1.09 0.34M448.02 387.09l0.26 0.47M500.58 353.73l0.82 0.79M480.5 373.08l0.93 0.66M554.93 357.99l-0.31 1.1M506.98 356.47l0.78 0.94M498.17 380.4l-0.91 0.44M455.09 316.8l-0.24 0.45M484.87 340l-1.18 0.57M501.39 361.36l0.2 0.83M545.14 348.87l-1.1 0.51M469.2 365.47l-0.96 0.44M492.38 384.42l0.64 0.39M524.46 312.17l1.39 0.13M480.51 368.12l1.05 0.79M495.6 322.82l0.17 1.31M477.77 336.1l0.56 1.02M511.22 323.67l-0.05 0.51M534.72 315.73l-0.25 0.54M452.98 385.18l0.98 0.32M526.27 370.73l0.31 0.76M470.39 363.68l0.8 0.67M490.46 359.84l-0.86 0.04M506.4 375.6l0.13 0.49M447.06 337.29l0.68 0.69M452.19 359.73l0.71 0.18M477.73 335.38l1.2 0.51M551.75 342.55l-0.3 0.41M506.69 314.3l-0.87 0.26M507.17 373.48l0.19 0.49M497.58 326.07l0.49 0.44M505.35 348.96l1.04 0.05M498.42 342.97l0.26 1.33M497.01 370.54l-0.43 0.4M497.34 348.9l0.36 0.45M499.32 321.08l-1.04 0.54M536.91 341.71l-0.06 0.84M539.58 313.22l0.58 0.79M517.84 357.78l0.17 0.76M548.55 318.1l0.42 0.39M528.18 359.64l-0.74 0.72M553.69 351.28l0.64 0.3M448.11 353.72l0.23 0.72M454.71 349.66l-0.31 0.87M529.98 364.89l0.94 0.43M541.7 325.92l0.43 0.62M494.38 325.02l-0.02 0.69M495.42 336.51l0.75 0.26M442.28 336.7l1.33 0.2M511.16 310.87l0.97 0.97M479.89 330.19l0.11 0.71M480.83 344.2l0.53 0.93M503.56 326.38l-0.9 0.37M550.4 321.26l0.46 0.54M479.9 349.8l-0.86 0.41M486.76 362.86l-0.98 0.98M551.46 327.35l0.51 0.2M482.15 369.11l0.22 1.12M532.72 332.86l-0.36 0.91M473.73 350.27l-1.21 0.18M502.85 386.2l0.29 0.89M511.11 361.03l1.12 0.82M490.48 318.81l-0.03 0.86M485.71 327.74l-0.01 0.96M521.87 335.7l0.12 0.63M526.24 367.18l-0.77 0.01M535.91 318.22l0.52 0.12M461.47 345.85l-0.53 0.4M483.24 331.13l-0.15 1.16M512.6 343.55l-1.28 0.16M512.48 346.92l1.17 0.06M446.62 370l1.19 0.18M503.24 338.13l0.25 0.79M512.95 333.24l0.24 0.53M480.18 385.27l-0.91 0.14M539.15 337.18l0.7 0.8M501.11 330.42l-0.76 0.24M498.18 373.6l-0.19 1.38M477 379.01l0.35 0.45M522.1 315.36l0.71 0.92M442.27 382.3l1.21 0.38M517.14 321.57l-0.99 0.98M524.57 316.23l0.36 0.46M535.65 325.99l0.06 1.34M540.23 338.43l-0.14 0.89M541.48 374.92l-0.36 0.73M475.27 366.87l-0.5 0.31M520.08 362.23l0.48 1.03M445.49 386.55l-1.06 0.82M552.07 354.61l-0.31 0.45M448.64 378.6l-0.67 0.49M449.66 340.69l1.19 0.69M515.21 373.05l0.32 0.95M488.52 373.51l0.48 1.24M458.85 366.42l-0.11 0.58M556.16 376.99l-1.2 0.64M469.06 346.2l0.07 0.91M494.04 379.93l1.33 0.24M446.19 311.59l-0.56 0.68M476.2 369.48l-1.16 0.52M479.4 327.47l-0.04 0.67M507.78 387.42l0.11 0.63M448.14 369.96l-0.62 0.82M487.69 328.33l1.32 0.37M542.82 349.58l0.95 0.21M512.82 382.85l0.81 0.42M529.81 383.59l0.42 0.74M549.09 382.24l-0.19 1.06M515.39 347.2l0.25 0.58M541.64 348.2l0.6 0.38M554.27 383.42l0.74 0.29M485.73 318.26l0.11 1.13M472.85 367.55l-0.28 1.16M528.98 326.42l0.42 1.3M450.29 337.07l-0.1 1.33M544.95 346.06l1.12 0.74M526.66 365.85l0.61 0.84M501.78 349.85l-1.34 0.1M519.06 352.07l-0.83 0.73" stroke="#c8a898" stroke-width="1.2" stroke-linecap="round" fill="none" opacity="0.62"/>
<path d="M531.87 364.83l0.03 0.88M510.26 376.76l-0.77 0.32M475.54 334.74l0.69 0.43M486.88 350.2l-0.31 1.25M500.32 350.11l0.74 0.33M553.25 312.02l0.79 1.11M484.03 363l0.27 0.49M517.81 324.1l-0.79 0.95M448.07 316.92l0.18 0.58M527.95 314.34l-1.07 0.55M506.04 377.78l-0.39 1.34M526.13 320.8l-0.24 0.67M484.32 342.73l0.71 0.31M455.33 342.59l1.07 0.57M456.88 376.63l1.34 0.32M515.71 329.42l0.43 0.29M548.76 325.62l-0.04 0.6M448.86 340.7l0.45 0.66M536 343.55l-0.91 0.6M486.64 337.12l-0.48 0.22M545.82 328.94l0.07 0.84M541.93 311.36l-0.5 1.27M474.65 313.86l-0.9 0.13M484.35 343.11l0.64 0.65M533.08 347.11l-0.17 0.69M483.98 329.05l0.11 1.23M498 323.26l0.68 0.66M489.86 355.01l0.51 0.81M533.58 364.41l-0.86 0.49M465.02 348.37l-0.44 0.83M480.56 314.54l-0.13 1.08M502.51 332.54l0.07 1.14M473.59 364.71l0.31 0.65M480.23 383.93l0.16 1.17M528.66 350.91l1.2 0.35M449.96 322.15l-1.02 0.77M551.48 360.78l-0.24 1.11M551.68 351.04l1.17 0.08M555.87 364.99l-0.32 0.58M494.58 325.25l1.17 0.71M530.45 337.08l-0.79 0.2M490.36 347.21l-0.52 0.09M463.65 350.07l1.15 0.79M551.24 313.17l0.71 0.47M535.7 315.08l1.34 0.03M509.48 312.72l0.78 1.12M470.99 387.04l-0.87 0.76M543.87 386.22l-0.8 0.01M443 384.79l-0.8 0.6M457.68 326.76l0.54 0.29M512.1 337.2l0.94 0.14M550.46 319.4l-0.29 0.98M544.11 340.82l-0.84 0.54M448.73 334.9l-0.63 0.49M526.61 349.13l0.9 0.67M459.98 326.38l-0.66 0.19M532.34 344.3l0.5 1.12M479.94 346.61l-1.09 0.3M443.09 322.35l0.97 0.27M538.76 374.97l0.01 0.88M453.59 335.43l-0.21 1.24M492.37 342.96l0.11 0.76M536.83 375.65l0.51 0.78M496.71 336.89l1.33 0.01M475.83 320.62l-1.11 0.07M523.58 335.56l-0.22 0.96M451.18 384l-0.62 0.47M504.52 338.2l-0.05 0.53M487.81 370.8l0.51 0.96M482.97 355.88l-0.58 0.96M502.65 376.4l-0.36 0.74M454.74 374.25l0.61 0.19M530.57 387.29l0.23 1.06M545.41 386.58l0.53 0.36M484.05 324.94l-0.8 0.2M554.4 317.31l0.37 0.42M491.86 377.13l0.25 1.03M484.92 378.29l1.16 0.06M492.95 313.84l1.14 0.18M459.01 387.73l-0.84 0.23M517.38 379.97l-0.68 0.34M535.82 381.64l0.82 0.52M511.07 343.81l-0.11 1.34M452.27 336.85l0.62 0.14M445.35 316.01l1.24 0.49M496.3 343.2l-0.52 0.13M525.79 332.71l0.78 0.37M541.48 341.96l-0.34 1.22M498.28 375.21l-0.91 0.19M515.09 337.88l0.33 1.07M482.02 375.28l-0.57 0.75M537.88 386.08l-0.02 0.62M515.24 312.04l-0.86 0.17M548.6 320.26l0.28 0.88M499.54 329.48l-0.1 0.61M445.64 383.94l-0.12 0.66M481.4 313.02l1.04 0.19M493.78 331.41l-0.47 0.82M464.09 344.86l0.54 1.1M537.11 364.26l-0.05 0.64M534.13 337.47l0.83 0.4M455.14 372.39l-0.77 0.6M502.95 351.86l-0.36 0.37M476.21 329.92l0.46 0.59M454.55 338.22l0.97 0.77M487.13 377.31l1.17 0.14M496.12 356.57l-1.14 0.04M519.33 357.8l0.58 0.39M542.45 330.35l0.02 1.03M540.22 326.64l0.44 0.32M501.98 321.52l-0.41 0.62M525.85 386.62l-1.08 0.32M468.21 330.98l-1.11 0.65M483.64 345.76l0.53 0.87M459.67 355.26l0.58 0.79M550.56 358.52l-0.62 1.02M542.93 358.7l-0.5 1.07M487.65 388l0.52 0.21M536.46 358.99l-1.03 0.1M456.17 312.73l-0.04 0.52M456.71 367.96l-1.25 0.6M482.49 384.42l1.2 0.06M545.72 341.94l-0.79 0.66M535.5 343.77l0.68 0.26" stroke="#c09884" stroke-width="1.2" stroke-linecap="round" fill="none" opacity="0.62"/>
<path d="M463.98 386.49l-0.68 0.07M544.05 373.83l0.16 1M556.73 337.77l-0.22 1.15M447.32 349.3l-0.3 0.64M464.04 378.67l0.99 0.25M453.03 368.37l0.74 0.93M452.43 336.37l-0.91 0.3M512.56 333.51l1.08 0.42M518.23 325.85l-1.28 0.49M530.12 311.67l-1.04 0.6M518.91 324.95l-0.78 0.1M529.36 316.9l-0.84 0.62M505.64 379.26l0.48 1.3M507.14 314.92l0.85 0.87M455.5 360.11l-1.31 0.28M452.02 340.8l-0.89 0.96M532.81 373.57l-0.6 0.08M466.13 324.19l-0.12 0.57M450.77 344.14l0.95 0.54M520.14 335.79l-0.89 0.41M543.57 345.64l-0.85 0.24M471.3 367.02l1.29 0.12M556.45 352.07l-0.51 0.49M463.4 358.58l-0.12 0.95M458.59 367.77l-1.15 0.55M509.09 363.49l-0.71 0.45M476.64 358.81l-0.94 0.13M552.92 386.15l0.19 1.07M499.45 319.88l1.03 0.94M521.81 352.89l-0.68 0.79M536.98 364.83l-0.72 0.46M490.93 374.87l0.76 0.68M512.13 373.27l0.07 0.74M517.4 334.22l-1.04 0.91M513.94 315.12l-0.55 0.54M483.89 316.44l0.72 1.12M549.85 316.15l-0.86 0.46M501.51 376.15l-0.37 0.57M538.78 383.42l0.75 0.7M470.73 368.93l0.3 0.89M443.79 337.5l0.98 0.76M516.77 354.03l0.54 0.44M477.66 350.3l0.9 0.92M529.71 344.6l-0.5 0.07M494.81 379.87l0.47 0.35M459.7 346.73l0.25 0.66M528.58 349.87l1.02 0.89M515.37 356.2l0.74 0.57M547.24 356.46l-0.1 0.79M539.69 342.41l-1.19 0.73M473.61 375.75l0.63 0.11M496.15 327.15l-0.29 0.91M453.09 383.89l0.89 0.49M483.4 355.81l-0.08 0.65M486.76 354l0.7 0.72M518.85 343.43l0.34 0.39M537.16 378.33l0.71 0.35M554.5 344.6l1.13 0.7M502 326.34l-0.43 1.02M451.93 359.89l1.33 0.17M545.31 353.34l0.71 0.84M515.76 368.47l0.9 0.32M447.45 317.11l0.19 0.7M498.01 359.8l0.26 0.86M542.79 332.04l0.63 0.27M444.29 317.95l-0.67 0.29M520.02 313.93l0.45 0.57M448.48 369.89l-0.34 0.41M448.96 365.77l0.72 0.9M507.13 327.66l0.45 0.28M463.09 386.69l0.33 0.73M448.44 314.61l0.68 0.37M446.98 359.63l1.21 0.41M450.07 338.42l0.1 0.89M523.72 350.51l0.64 1.14M531.84 370.72l-0.39 0.43M515.89 360.94l-0.93 0.2M545.98 324.09l0.64 1.16M526.67 383.17l-0.01 1.12M461.18 355.33l-0.13 1.35M535.53 360.15l0.07 0.78M477.77 332.51l-0.5 0.64M547.5 333.31l0.53 0.84M547.06 371.23l-0.56 0.02M499.59 318.89l-0.91 0.2M485.9 371.77l-1.06 0.14M484.7 353.39l0.16 0.72M452 372.09l0.66 0.36M535.74 387.13l-0.56 0.59M554.53 328.03l0.47 0.66M479.98 387.77l0.94 0.86M446.96 336.51l-0.94 0.29M538.78 381.6l0.5 0.27M496.7 371.35l0.56 0.92M469.94 374.9l0.42 1.28M493.04 314.33l0.47 1.04M486.39 385.23l0.42 0.89M450.35 333.61l-0.65 0.8M448.12 356.27l0.44 0.43M466.45 335.33l0.32 0.69M463.15 378.52l0.77 0.28M549.41 327.19l0.55 0.01M521.98 346.15l-0.91 0.06M512.06 371.62l-0.59 0.15M522.28 381.28l-1.17 0.54M470.16 341.17l-0.82 0.66M474.37 311.58l-0.63 0.89M467.87 346.86l0.29 0.96M518.99 356.22l-1.13 0.65M471.36 329.41l0.03 0.9M488.7 337.68l0.57 0.78M443.75 384.14l-0.36 0.54M447.07 368.97l-0.43 1.29M554.9 366.36l0.76 0.69M531.26 373.8l-0.92 0.28M458.06 324.54l-0.43 0.61M445.02 337.29l-0.08 1.18M506.78 344.7l-0.57 1.17M551.69 345.91l0.21 0.75M528.74 373.66l-0.92 0.82M471.41 364.78l0.2 0.53M458.46 343.43l-0.63 0.16M497.58 313.55l-0.26 0.61M451.66 363.83l0.68 0.21M477.92 332.72l0.54 0.21M464.07 378.81l0.6 1.04M461.81 382.99l0.81 0.82M552.05 321.86l-1.32 0.47M469.57 318.54l0.88 0.04M519.92 379.53l-0.05 0.78M549.71 319.2l1.35 0.34M450.38 312.23l0.21 0.86M499.54 377.48l-0.94 0.47M500.38 337.11l0.6 0.02M518.98 311.51l-0.7 0M453.65 372.49l0.65 0.68" stroke="#b89080" stroke-width="1.2" stroke-linecap="round" fill="none" opacity="0.62"/>
</g></g>
<line x1="529.8" y1="385.1" x2="554.8" y2="385.1" stroke="#3a3a3a" stroke-width="1.1"/>
<g clip-path="url(#c3)"><g filter="url(#soft)">
<rect x="559" y="311" width="116" height="77.3" fill="#ddd5d2"/>
<g filter="url(#bl2)">
<ellipse cx="651" cy="356" rx="14" ry="16" fill="#d0d4e2" opacity="0.9"/>
<ellipse cx="664" cy="331" rx="8" ry="10" fill="#d0d4e2" opacity="0.9"/>
<ellipse cx="567" cy="351" rx="6" ry="12" fill="#d0d4e2" opacity="0.9"/>
<ellipse cx="589" cy="316" rx="10" ry="4" fill="#d0d4e2" opacity="0.9"/>
</g>
<path d="M620.57 356.16l-0.43 0.23M669.37 343.54l-0.61 0.48M590.92 357.83l-0.22 0.73M621.23 357.74l-0.27 0.39M608.47 329.99l-0.59 0.44M659.49 317.71l-0.21 0.53M607.97 346.66l-0.49 0.08M668.64 334.82l-0.46 0.2M647.3 385.58l-0.68 0.12M629.3 378.1l0.79 0.42M647.96 368.31l0.64 0.05M612.44 356.66l0.95 0.48M651.15 331.37l-0.13 0.38M642.9 359.57l-0.4 1.02M659.62 357.38l-0.6 0.26M645.83 314.31l0.32 0.28M648.68 335.07l0.46 0.44M657.93 344.54l0.37 0.91M652.35 319.29l-0.34 0.77M590.73 317.86l0.18 0.74M591.33 376.25l-0.63 0.28M567.37 333.77l0.33 0.83M560.42 355.63l0.34 0.99M620.78 359.42l0.45 0.12M639 320.43l0.88 0.03M559.13 338.93l0.02 0.62M643.65 327.72l-0.07 0.97M640.5 353.57l-0.93 0.33M561.84 346.42l-0.49 0.03M632.11 381.84l-0.61 0.16M648.11 379.15l0.75 0.17M595.3 349.04l-0.3 0.57M654.18 381.01l0.64 0.67M566.94 333.72l0.74 0.49M630.72 334.64l-0.47 0.69M656.58 346.63l0.22 0.54M611.88 338.36l-0.71 0.59M608.91 387.43l0.95 0.26M641.77 350.56l-0.97 0.3M640.92 327.44l-0.21 0.73M559.58 323.78l0.47 0.96M666.22 361.4l0.5 0.26M639.95 380.93l-0.25 0.63M649.82 312.96l0.55 0.04M631.33 374.77l0.64 0.27M633.32 348.23l0.28 0.57M606.54 381.87l-0.16 0.57M617.92 341.18l0.67 0.45M563.25 375.82l-0.67 0.69M567.81 383.74l-0.32 0.5M665.04 363.93l-0.58 0.05M627 361.65l0.46 0.17M567.74 312.83l-0.64 0.25M626.28 379.88l-0.73 0.65M653.52 384.16l0.8 0.42M671.04 320.01l-0.09 0.99M637.11 371.4l-0.57 0.86M572.23 313.62l-0.54 0.33M564.71 348.48l-0.08 0.97M593.2 323.27l0.45 0.49M570.65 373.3l0.24 0.39M594.32 350.56l-0.86 0.37M662.67 385.74l-0.75 0.05M673.41 329.16l0.12 0.44M579.83 327.8l0.25 0.55M656.19 325.19l-0.02 0.6M659.33 352.33l-0.44 0.24M622.09 344.17l0.17 0.58M600.3 376l-0.25 0.93M675.02 319.72l-0.98 0.27M641.72 326.7l-0.5 0.56M622.35 339.06l-0.27 0.3M651.39 384.98l0.43 0.14M641.45 329l0.18 0.57M612.42 386.77l0.15 0.64M586.55 346.46l-1.05 0.3M637.35 344.42l0.53 0.15M669.66 348.14l-0.4 0.9M609.56 331.77l-0.7 0.1M638.58 312.72l0.65 0.14M609.03 359.12l-0.53 0.19M632.22 367.17l-0.49 0.29M619.95 362.82l-0.29 0.81M639.4 365.24l0.77 0.16M667.29 379.07l0.64 0.54M657.61 386.3l0.66 0.44M660.39 363.43l-0.84 0.09M660.22 337.22l0.38 0.15M668.67 330.39l-0.02 1.03M662.15 375.89l0.15 0.71M608.26 377.15l-0.61 0.12M609.69 330.52l0.24 0.81M572.27 352.75l0.5 0.22M608.37 321.67l-0.91 0.24M652.54 349.77l-0.5 0.13M601.67 314.29l0.31 0.8M583.96 345.08l-0.54 0.13M596.45 363.25l0.46 0.46M640.44 338.32l-0.09 0.92M589.44 339.53l0.49 0.32M563.14 326.64l-0.48 0.1M594.82 341.6l0.79 0.37M591.36 347.34l0.78 0.66M641.48 314.26l-0.92 0.08M641.82 362.74l-0.22 1.06M606.58 346.13l-0.17 0.81M571.47 373.35l-0.85 0.43M586.71 354.52l0.41 0.06M614.11 360.04l0.78 0.09M660.34 382.64l0.95 0.33M644.7 331.09l0.21 0.64M656.24 335.01l0.28 0.41M645.53 377.62l0.1 0.5M634.74 342l0.44 0.8M565.5 384.82l-0.72 0.46M632.39 328.85l0.6 0.23M563.71 323.17l0.5 0.4M630.75 378.85l0.79 0.15M623.08 371.16l-0.65 0.71M564.09 320.62l0.66 0.27M580.62 344.68l-0.11 0.58M568.83 335.55l0.33 0.26M599.59 373.74l0.52 0.88M636.86 315.28l0.53 0.23M667.45 361.77l-0.41 0.59M560.43 387.81l-0.46 0.89M649.39 318.37l-0.21 0.45M663.07 356.54l0.23 0.66M575.66 386.43l0.55 0.36M569.24 316.5l-0.46 0.53M607.1 376.19l0.98 0.04M647.16 361.54l-0.44 0.75M589.75 356.25l-0.57 0.58M567.06 386.39l-0.12 0.62M671.43 334.39l-0.75 0.02M643.21 332.53l-0.3 0.29M645.43 356.99l-0.5 0.84M572.3 311.16l0.53 0.28M643.34 385.53l0.2 0.87M655.48 331.53l-0.59 0.85M639.81 320.56l-0.12 0.54M630.25 349.54l-0.27 0.82M585.01 328.66l0.35 0.5M629.1 355.11l0.21 0.39M621.1 351.87l0.95 0.54M570.85 379.57l0.28 0.47M628.93 384.38l-0.2 0.62M659.95 384.09l-0.77 0.27M593.7 323.64l-0.63 0.38M639.16 327.96l-0.02 0.54M592.42 335.56l-0.35 0.56M559.25 379.71l-0.15 0.85M647.64 332.21l0.8 0.74M624.07 355.63l0.15 0.68M589.09 349.8l-0.02 0.69M628.68 336.64l0 0.49M625.15 339.45l-0.31 0.48M591.05 332.92l-0.68 0.62M669.06 382.96l0.55 0.6M604.13 356.1l-0.79 0.1M583.66 352.56l-0.18 1.04M674.96 363.08l-0.7 0.09M653.87 337.51l-0.21 0.68M566.88 380.15l0.25 0.8M595.39 383.81l-0.01 0.72M594.46 315.98l0.15 0.48M585.03 345.36l0.28 0.85M629.51 324.68l-0.94 0.28M618.58 348.88l0.39 0.77M633.56 360.67l-0.68 0.75M587.79 344.54l-0.51 0.25M564.51 332.73l0.56 0.16M601.63 311.99l0.33 0.27M626.37 319.47l-0.38 0.3M596.75 374.91l-0.39 0.48M624.63 339.99l-0.28 0.34M589.41 339.13l-0.32 0.98M595.1 340.31l-0.07 0.46M577.56 315.87l0.12 0.42M652.84 367.71l0.82 0.15M621.36 335.45l-0.7 0.51M650.23 326.74l-0.51 0.42M608.57 348.71l0.01 1.01M558.73 382.82l0.73 0.02M631.17 324.74l-0.84 0.12M642 319.55l0.05 0.45M640.98 357.26l0.08 0.97M646.9 384.44l0.13 0.56M671.26 347.17l-0.82 0.34M669.92 316.46l-0.05 0.48M650.03 358.85l-0.2 0.94M609.92 348.56l0.64 0.15M663.31 357.58l1.04 0.11M587.56 382.16l0.59 0.77M613.86 352.74l-0.27 0.49M575.24 319.47l0.4 0.68M607.51 366.52l-0.62 0.25M582.73 334.79l0.47 0.8M663.35 380.25l0.66 0.67M673.61 330.27l-0.26 0.79M610.52 382.34l-0.86 0.57M649.42 377.35l-0.37 0.34M562.75 371.72l-0.23 1M663.33 378.38l-0.9 0.59M655.85 328.95l-0.66 0.56M674.98 338.66l-0.84 0.01M627.27 361.18l0.26 0.73M562.25 384.5l-0.88 0.16M672.24 325.04l-0.15 0.43M631.42 344.96l0.15 0.4M580.07 377.05l-0.5 0.63M595.54 311.33l-0.41 0.69M667.47 320.19l0.17 0.5M633.71 359.65l0.57 0.26M601.29 325.95l0.49 0.97M634.71 327.24l-0.62 0.28M669.32 375.35l-0.13 0.39M590.86 373.97l-0 0.91M653.3 355.63l0.07 0.56M645.12 359.08l-0.59 0.38M670.85 354.82l0.9 0.33M655.48 322.58l0.45 0.01M566.31 328.02l0.94 0.05M622.18 326.27l0.63 0.2M654.72 323.55l0.3 0.74M664.25 376.66l-0.23 0.56M585.77 349.36l-0.87 0.31M644.06 369l0.57 0.55M611.14 322.33l0.35 0.34M642.65 339.08l-0.79 0.68M617.78 380.67l0.22 0.44M646.63 372.11l-0.38 0.55M601.74 379.65l0.65 0.02M652.74 365.08l0.3 0.57M577.21 371.21l0.78 0.1M579.15 357.45l0.49 0M567.35 355.96l0.21 0.75M671.49 350.66l0.42 0.21M594.16 385l0.4 0.32M656.93 358.99l-0.63 0.68M632.34 319.23l0.72 0.65M613.22 346.96l0.32 0.53M669.57 342.01l0.52 0.51M663.69 329.22l0.56 0.36M579.05 355.88l-0.35 0.41M569.52 325.47l0.16 1M625.57 312.05l-0.01 0.8M653.52 337.02l0.76 0.32M593.75 315.3l0.33 0.54M670.45 352.61l-0.78 0.34M654.09 358.53l-0.24 0.75M638.25 360.71l0.74 0.2M672.73 329.37l-0.71 0.56M608.38 350.62l0.79 0.63M636.17 351.53l0.25 0.44M609.95 326.58l-0.21 0.4M632.62 347.94l-0.04 0.74M647.47 368.01l0.2 0.81M655.75 370.88l0.92 0.04M611.79 387.47l0.4 0.4M601.63 330.52l-0.12 0.47M625.72 366.22l0.17 1.02M605.62 347.97l0.46 0.15M606.67 336.48l-0.39 0.42M631.93 331.74l-0.84 0.39M631.49 335.68l0.43 0.25M629.47 345.04l-0.3 0.54M618.62 349.97l-0.62 0.07M590.78 375.55l0.09 0.42M665.37 359.97l-0.09 0.43M631.79 383.54l-0.4 0.57M658.32 344.56l-0.61 0.57M631.45 324.77l0.46 0.46M669.8 312.23l0.74 0.2M575.24 377.85l-0.46 0.32M660.85 346.98l0.12 0.78M620.59 345.2l0.84 0.5M612.38 328.92l0.53 0.49M671.21 369.07l-0.31 1.03M622.54 357.49l0.39 0.14M614.54 337.38l0.3 0.46M560.08 318.77l0 0.96M640.98 326.69l-0.26 0.36M650.23 341.27l-0.54 0.39M624.73 325.71l-0.04 0.49M665.54 357.08l0.03 0.45" stroke="#a07e80" stroke-width="1.3" stroke-linecap="round" fill="none" opacity="0.7"/>
<path d="M657.03 380.39l-0.42 0.15M594.09 318.08l0.86 0.46M656.27 372.43l0.08 0.89M667.23 356.09l0.17 0.86M649.46 337.05l-0.75 0.77M567.21 333.96l-0.54 0.37M571.56 351.44l-0.92 0.23M629.83 331.02l0.96 0.15M601.34 373.85l0.69 0.15M658.26 367.67l0.49 0.22M669.03 334.59l-0.8 0.14M649.69 333.85l-0.31 0.29M638.25 313.39l-0.36 0.68M671.03 387.57l-0.72 0.21M673.38 351.91l0.76 0.28M571.84 346.29l-0.2 0.4M645.66 372.19l-0.75 0.22M599.91 328.88l0.08 0.6M578.87 373.22l-0.23 0.89M588.62 320.22l-0.82 0.68M573.9 369.18l-0.99 0.44M563 369.38l-0.78 0.14M640.34 383.36l-0.6 0.28M569.49 370.95l-0.54 0.29M636.73 338.23l0.24 0.71M670.29 325.19l0.38 0.4M584.86 368.29l0.4 0.31M638.06 370.75l-0.81 0.64M602.49 368.75l0.41 1M597.03 348.99l-0.51 0.17M570.34 363.41l-0.92 0.13M592.42 370.77l0.39 0.55M571.15 378.06l-0.71 0.42M672.25 338.65l-0.35 0.58M672.91 368.43l0.49 0.82M617.8 310.68l-0.38 0.9M674.98 330.78l-0.21 0.62M595.71 324.67l0.36 0.22M627.66 337.13l-1.04 0.13M604.74 342.32l-0.42 0.98M667.64 357.82l0.01 0.75M581.34 358.19l-0.66 0.26M608.52 318.96l-0.53 0.86M669.98 368.01l0.12 0.92M619.19 327.8l-0.47 0.59M643.22 318.81l-0.4 0.25M643.97 338.54l-0.64 0.7M650.54 327.42l-0.78 0.76M611.21 376.36l0.61 0.14M614.59 335.35l-0.18 0.87M624.77 357.68l0.8 0.3M624.1 370.95l-0.03 0.67M647.02 364.55l-0.66 0.11M656.21 337.02l-0.17 0.77M668.57 318.09l-0.73 0.33M638.1 338.31l-0.48 0.08M619.04 341.56l-0.39 0.29M588.58 382.49l-0.04 0.65M567.51 374.6l0.41 0.3M621.74 325.5l0.79 0.5M632.62 338.85l-0.37 0.23M583.1 364.78l0.54 0.09M626.49 350.27l-0.66 0.49M629.17 313.67l-0.99 0.09M617.52 339.04l-0.35 0.44M631.12 369.59l-0.54 0.61M562.48 373.85l-0.5 0.02M559.48 331.84l-0.62 0.89M593.7 376.21l-0.6 0.04M609.75 352.46l-0.54 0.03M639.25 337.3l-0.39 0.81M647.76 340.28l-0.63 0.44M575.52 313.94l-0.34 0.94M621.11 325.73l-0.09 0.72M651.33 353.58l0.78 0.37M641.41 365.18l0.86 0.57M586 355l-0.71 0.77M618.25 329.06l-0.02 0.99M636.02 350.91l0.82 0.21M603.09 384.17l0.3 0.96M658.5 368.84l0.88 0.54M608.71 387.19l0.77 0.5M667.87 358.62l0.56 0.87M664.05 361.14l0.19 0.65M638.28 361.89l-0.62 0.77M612.43 373.1l0.17 0.63M612.24 318.2l-0.22 0.59M648.33 385.08l-0.25 0.89M623.48 339.52l0.43 0.41M564.49 380.69l1 0.11M582.83 376.47l0.64 0.02M663.22 321.02l-0.01 0.65M632.37 385.19l0.91 0.11M565.86 323.38l0.25 0.84M584.58 363.12l0.47 0.95M606.12 349.64l-0.6 0.87M591.82 385.19l-0.98 0.27M626.47 372.77l-0.55 0.1M589.42 338.25l-0.51 0.6M668.63 331l-0.51 0.39M562.12 319.76l0.18 0.59M594.03 382.71l-0.24 0.62M649.38 337.4l-0.7 0.51M656.12 344.17l-0.29 0.7M669.17 343.7l0.81 0.74M643.25 339.24l-0.19 0.5M671.46 329.36l0.34 0.83M670.8 377.53l0.68 0.23M639.53 365l-0.75 0.11M563.01 340.98l0.84 0.62M658.83 336.87l-0.53 0.79M566.91 347.3l0.69 0.6M658.5 365.1l0.62 0.6M587.94 355.96l0.36 0.95M610.28 360.61l0.54 0.26M562.74 376.54l0.43 0.91M586.59 350.55l-0.52 0.66M658.7 324.03l-0.59 0.28M613.96 347.19l-0.15 0.95M610.32 331.16l0.58 0.2M642.87 328.71l0.64 0.69M640.33 355.12l0.52 0.08M643.59 350.46l-0.43 0.6M586.5 383.24l0.03 0.57M613.1 379.14l0.65 0.87M662.85 312.93l-0.98 0.49M564.89 377.5l0.93 0.55M609.53 320.26l0.24 0.58M603.15 357.89l-0.08 0.48M628.61 381.29l-0.29 0.6M636.57 369.4l0.89 0.22M665.13 365.31l0.89 0.33M570.21 311.9l-0.03 0.56M577.44 325.73l0.04 0.48M586.12 314.77l-0.31 0.58M596.44 383.19l0.33 0.77M596.98 322.31l0.82 0.61M571.11 311.66l-0.28 0.59M611.28 322.72l-0.71 0.51M654.42 362.8l-0.43 0.15M573.13 378.17l-0.19 0.74M625.6 358.3l-0.81 0.2M576.24 350.85l0.05 0.45M633.39 336.04l-0.38 0.47M571.4 381.88l-0.92 0.12M626.34 349.37l-0.12 0.83M593.49 346.61l-0.52 0.49M580.7 359.21l0.3 0.55M621.6 343.64l-0.87 0.34M611.01 350.1l-0.81 0.25M666.58 320.56l0.21 0.7M567.49 347.23l0.97 0.16M571 322.78l-0.72 0.29M610.38 318.21l0.97 0.14M622.54 342.95l0.14 0.56M594.75 361.78l-0.94 0.2M570.97 313.18l-0.13 0.6M623.54 373.3l-0.16 0.87M602.97 311.22l-0.5 0.47M583.86 343.16l-0.59 0.54M639.92 353.11l0.7 0.15M606.52 342.97l-0.04 1M577.79 321.75l-0.12 0.76M651.98 364.1l-0.74 0.31M613.67 315.92l-0.92 0.43M654.37 365.97l0.62 0.72M579.39 332.36l0.6 0.11M665.93 312.44l0.42 0.07M576.62 351.44l0.71 0.79M650 342.79l0.6 0.61M653.68 339.56l0.21 0.38M615.28 354.77l0.67 0.31M654.32 368.39l-0.36 0.54M624.44 360.72l-0.32 0.35M579.53 384.07l0.26 0.42M564.12 327.88l-0.57 0.62M636.03 377.1l-0.21 0.77M671.28 342.2l0.7 0.8M563.18 339.66l0.67 0.14M605.64 322.6l-0.26 0.31M580.67 386.99l0.88 0.59M568.85 317.46l0.12 0.56M615.77 359.77l-0.45 0.03M646.04 361.55l0.78 0.42M666.03 311.68l-0.83 0.1M649.47 345.73l0.83 0.1M641.26 332l0.78 0.64M609.14 315.88l-0.39 0.72M635.07 346.46l-0.34 0.73M571.64 368.17l0.25 0.51M640.97 385.27l-0.64 0.7M577.63 321.64l-0.01 0.68M622.08 358.48l0.2 0.52M649.64 385.03l-0.21 0.84M565.08 367.45l-0.19 0.46M592.49 331.61l-0.35 0.24M590.15 372.94l-0.71 0.17M613.7 384.16l0.45 0.29M566.57 360.9l-0.43 0.37M621.26 380.64l-0.21 0.52M659.55 311.83l-0.16 0.4M630.85 335.06l0.22 0.34M652.77 320.16l0.66 0.23M593.44 356.38l0.79 0.59M570.36 368.68l-0.82 0.26M637.33 349.92l-0.14 0.4M559.73 312.21l1.02 0.18M637.32 380.98l0.16 0.83M626.54 387.15l-0.9 0.4M672.7 381.82l-0.32 0.49M591.66 321.97l0.68 0.14M599.81 383.34l0.57 0.01M655.37 316.58l0.54 0.15M582.79 366.42l1 0.24M648.67 356.21l-0.26 0.63M618.62 385.21l-0.3 0.39M633.48 354.78l-0.11 0.64M622.71 352.13l0.12 0.5M588.64 314.58l0.43 0.33M637.28 332.58l0.35 0.24M596.98 311.86l0.47 0.42M625.58 368.12l0.45 0.61M624.91 339.68l-0.18 0.82M638.56 386.99l-0.11 1.09M624.8 312.45l-0.17 0.49M614.7 356.1l-0.49 0.72M649.81 369l-0.4 0.79M650.99 371.99l0.57 0.33M591.17 363.35l0.5 0.68M622.58 313.02l0.07 0.93M565.9 365.48l0.37 0.86M671.59 331.28l-0.62 0.22M571.89 314.36l-0.75 0.69M627.74 312.09l-1.05 0.3M674.24 321.85l0.93 0.34M636.76 345.71l-0.89 0.27M616.44 350.2l0.41 0.62M634.48 342.07l-0.47 0.93M591.39 388.02l0.1 0.5M612.97 334.86l-0.14 0.86M595.35 316.08l0.35 0.23M577.43 329.63l-0.02 0.94M634.13 350.41l0.99 0.34M566.02 313.71l0.8 0.45M638.13 327.33l0.36 0.31M577.6 374.77l0.69 0.03M635.61 339.3l0.04 0.65M596.45 358.91l-0.01 1.01M565.15 338.99l0.26 0.54M650.5 373.2l0.98 0.07M579.16 319.36l-0.96 0.43M639.9 353.68l0.43 1M673.3 373.3l0.62 0.42M609.76 336.76l0.05 0.8M570.68 371.79l0.59 0.2M604.35 382.85l0.85 0.3M646.06 336.12l1.01 0.07M591.81 379.58l0.53 0.95M612.92 353.77l-0.38 0.37M594.49 372.23l-0.23 0.48M561.54 379.98l0.09 0.77M577.26 310.93l0.59 0.13M609.32 376.59l-1.05 0.1M626.76 325.87l0.79 0.22M660.74 334.7l0.43 0.27M635.45 341.83l-0.03 0.76M613.31 341.55l-0.22 0.49M654.56 342.66l-0.54 0.18M649.81 366.41l0.75 0.57M595.64 345.41l-0.45 0.3M639.23 340.77l0.09 0.86M639.43 330.72l-0.83 0.17M636.73 327.11l-0.54 0.33M567.33 352.77l0.37 0.92M611.53 317.13l0.69 0.62M577.74 382.94l0.3 0.42M589.53 314.95l-0.98 0.19M664.05 366.03l0.74 0.29M609.77 382.61l1.06 0.1M671.31 326.98l-0.53 0.55M573.56 353.16l0.45 0.23M628.93 315.76l0.81 0.2M658.45 312.12l0.31 0.85M619.46 324.42l0.59 0.21M617.66 324.39l-0.56 0.45M651.58 354.37l-0.91 0.03M647.77 346.9l-0.72 0.32M577.73 370.06l0.32 0.24M592.67 344.07l0.67 0.66M671.86 330.92l-0.56 0.93M636.78 373.54l-0.02 0.7M580.7 319.83l0.6 0.52" stroke="#8e6a6e" stroke-width="1.3" stroke-linecap="round" fill="none" opacity="0.7"/>
<path d="M661.73 339.06l-0.79 0.25M595.01 326.68l0.79 0.49M650.86 342.06l-0.05 0.57M645.2 386.57l-0.51 0.43M573.84 332.17l0.69 0.21M586.06 333.42l0.14 0.96M671.68 376.9l0.3 0.88M646.47 365.28l-0.53 0.27M606.11 346.48l0.16 0.56M578.5 345.23l-0.23 0.4M637.38 342.22l-0.1 0.5M578.7 377.32l-0.51 0.39M658.57 321.72l-0.42 0.36M572.08 384.37l-0.08 0.5M639.14 355.21l-0.38 0.77M629.57 334.14l0.05 0.62M589.34 333.64l0.53 0.59M651.92 319.87l-1.05 0.2M613.04 331.68l-0.3 0.3M645.19 362.09l0.57 0.14M637.27 383.61l0.41 0.59M660.25 333.21l-0.42 0.07M590.68 336.91l0.53 0.01M601.11 366.62l0.64 0.25M580.17 312.78l0.06 1.08M585.63 349.2l0.41 0.72M651.2 364.27l0.04 0.46M581.77 331.8l1.09 0.03M560.55 385.45l-0.54 0.82M639.71 386.34l0.11 0.64M601.14 385.02l-0.7 0.08M666.42 332.81l-0.08 0.92M575.63 366.51l1.03 0.1M585.95 342.44l-0.5 0.11M663.06 312.23l0.66 0.54M615.57 325.32l-0.14 0.96M616.31 379.42l0.75 0.44M560.25 378.74l-0.17 0.41M666.71 376.91l-0.65 0.24M628.34 346.06l0.42 0.32M570.22 336.26l-0.65 0.61M640.83 336.42l0.7 0.33M644.62 374.65l-0.91 0.19M635.49 346.5l0.18 0.43M591.2 380.17l-0.69 0.44M613.77 326l-0.04 0.84M641.27 335.31l0.81 0.41M605.79 324.9l-0.19 0.71M592.1 327.27l-0.03 0.58M600.73 360.54l0.54 0.57M575.54 327.56l0.58 0.31M625.24 384.9l-0.46 0.41M644.88 356.86l0.5 0.38M624.05 331.11l0.81 0.44M602.45 361.77l0.02 0.88M566 319.47l-0.14 1.09M571.07 341.84l0.22 0.4M586.53 354.16l-0.55 0.32M621.7 319.66l0.34 0.22M575.94 358.88l0.62 0M663.56 338.46l0.49 0.03M619.31 369.56l0.7 0.01M598.4 355.71l-0.69 0.32M591.14 348.82l-0.44 0.31M667.28 356.85l0.72 0.72M598.76 360.63l-0.26 1.03M567.58 380.61l-0.24 0.92M619.92 330.8l-0.85 0.67M573.94 354.34l-0.46 0.51M593.64 346.85l-1.01 0.39M613.64 316.56l-0.46 0.93M560.37 331.5l0.03 0.42M603.42 377.09l0.45 0.01M610.82 349.04l-0.47 0.39M598.92 377.2l-0.19 0.37M669.26 368.51l-0.38 0.99M670.22 358.89l0.35 0.73M614.76 377.86l0.17 0.57M573.09 366.76l-0.72 0.25M640.47 318.97l-0.35 0.43M566.18 348.57l-0.72 0.03M650.98 355.21l0.76 0.39M563.45 322.87l0.86 0.02M583.83 324.83l0.72 0.06M673.55 357.5l0.31 0.57M565.59 384.64l0.77 0.09M672.59 377.55l0.98 0.04M662.68 326.68l-0.22 0.35M602.8 355.97l-0.78 0.67M667.44 321.95l0.18 0.59M562.32 352.33l-0.07 0.56M566.53 313.92l-0.8 0.46M578.26 325.19l-0.09 0.48M575.13 385.19l-0.76 0.36M669.56 344.13l1.01 0.22M643.47 370.85l-0.71 0.63M654.61 362.56l0.04 1.07M659.72 349.46l-0.17 0.42M570.48 371.86l0.59 0.37M646.07 338.2l-0.72 0.69M559.52 325.95l0.34 0.92M623.48 320.01l-0.1 0.97M601.1 369.3l-0.82 0.59M587.5 363.44l-0.79 0.4M586.02 384.4l-0.4 0.02M598.35 381.7l-0.41 0.66M585.98 383.53l0.51 0.1M564.49 364.76l-0.1 1.05M614.18 350.28l-0.34 0.99M636.8 347.05l0.54 0.54M585 334.49l-0.44 0.86M671.33 378.72l0.6 0.42M634.41 366.07l-0.45 0.87M595.62 328.34l-0.05 0.48M577.75 363.95l0.81 0.51M634.52 363.88l-0.54 0.26M599.37 356.25l0.55 0.65M573.16 349.77l0.16 0.37M602.74 377.61l0.65 0.25M661.61 340.64l-0.41 0.02M593.24 359.05l-0.48 0.52M576.55 349.69l-0.28 0.88M628.25 339.02l0.44 0.45M636.13 329.74l0.41 0.92M572.65 330.72l-0.38 0.45M569.68 348.34l0.04 0.54M576.44 387.18l0.65 0.3M629.6 358.74l-0.73 0.01M636.39 334.96l-0.53 0.64M584.56 347.99l0.7 0.69M584.5 353.19l-0.35 0.77M624.06 365.72l-0.87 0.52M673.44 359.99l-0.31 0.27M593.71 374.74l0.4 0.2M618.06 342.58l0.31 0.82M652.54 341.75l0.44 0.71M624.76 326.33l-0.47 0.37M617.42 330.04l0.95 0.41M630.89 366.13l0.91 0.49M572.53 386.85l-0.02 0.5M634.25 374.18l0.32 0.94M651.54 359.76l-0.7 0.37M613.78 386.38l-0.21 0.42M561.38 365.79l0.8 0.11M599.81 314.77l0.37 0.66M602.03 337.44l-0.2 0.8M629.03 367.61l-0.44 0M612.58 375.78l0.12 0.47M637.1 329.57l-0.52 0.69M571.22 336.61l-0.34 0.51M651.29 313.72l0.05 0.89M620.65 372.92l-0.74 0.67M647.94 355.41l0.38 0.8M611.25 385.27l-0.12 0.44M618.18 314.59l-0.25 0.4M621.86 339.26l-0.11 0.53M591.34 332.19l-0.33 0.77M590.94 374.15l-0.45 0.23M616.19 372.64l1.04 0.05M610.87 324.68l0.5 0.3M578.38 363.02l0.03 0.54M568.56 328.7l-0.12 0.8M559.79 348.99l-0.12 0.58M627.13 356.65l-0.62 0.31M592.43 382.41l-0.77 0.33M652.76 322.71l-0.07 1.01M627.73 313.33l-0.1 0.69M598.66 361.93l-0.18 0.5M569.68 368.3l0.87 0.35M619.85 322.6l-0.75 0.31M632.4 360.65l0.36 0.6M622.42 383.72l0.11 0.82M585.14 378.95l0.47 0.35M668.86 337.9l-0.22 0.5M670.78 337.69l0.47 0.83M587.05 359.95l-0.07 0.65M604.46 351.69l0.07 0.62M584.23 312.8l-0.22 0.81M589.79 343.24l-0.29 0.65M559.92 320.37l1.02 0.07M631.77 386.09l0.41 0.97M607.44 320.88l0.5 0.5M579.67 359.24l0.53 0.38M560.76 356.19l-0.13 0.9M666.49 328.86l-0.2 0.63M666.1 375.1l0.41 0.49M620.51 358.83l0.65 0.5M642.87 367.35l0.23 0.38M592.56 364.79l-0.79 0.01M674.94 356.01l-0.21 0.9M664.16 355.37l-0.85 0.02M643.03 381.08l-0.09 0.45M559.24 314l0.04 0.53M648.18 383.11l0.19 0.37M575.06 344.91l-0.46 0.04M591.53 387.27l0.24 0.63M562.96 374.17l0.41 0.26M618.93 322.42l0.81 0.26M669.4 379.91l0.83 0.62M636.47 349.43l0.12 0.44M600.62 325.6l0.38 0.41M599.66 373.31l0.22 0.7M623.08 325.27l0.39 0.2M605.15 312.75l-0.56 0.38M634.07 379.47l0.03 0.71M620.2 316.93l0.63 0.13M620.31 352.13l0.86 0.25M659.36 367.36l-0.32 0.26M624.65 332.17l-0.2 0.88M620.11 380.45l-0.68 0.06M588.35 388.07l-0.61 0.29M609.98 368.96l-0.01 0.72M631.04 325.32l-0.27 0.77M606.52 350.78l0.5 0.85M646.26 313.47l0.83 0.39M674.6 365.43l0.33 0.51M632.68 377.72l0.08 0.4M621.78 364.88l0.34 0.44M654.42 352.28l0.32 0.37M650.12 371.07l-0.58 0.68M657.77 384.85l0.96 0.33M667.01 325.19l-0.78 0.09M637.71 334.95l0.31 0.79M589.35 362.28l-0.53 0.02M585.58 375.6l0.58 0.37M585.51 342.68l-0.38 0.5M634.79 319.76l0.31 0.35M665.7 360.31l0.23 0.99M567.99 378.89l0.91 0.42M668.15 359.2l-0.89 0.42M620.31 315.51l0.61 0.25M667.52 374.16l-0.8 0.25M620.52 322.72l-0 0.43M566.24 376.35l-0.45 0.9M627.73 377.77l-0.59 0.7M647.59 377.31l-0.32 0.4M581.45 356.45l0.63 0.53M668.32 370.08l-0.51 0.09M585.71 355.79l0.22 0.58M656.38 371.42l0.45 0.63M590.95 365.26l-0.53 0.26M594.95 382.54l0.07 0.47M578.25 386.9l0.53 0.15M609.79 345.78l0.06 0.99M592.7 348.42l0.17 0.42M625.21 365.54l-0.93 0.5M673.52 312.56l0.96 0.21M633.5 339.19l0.49 0.09M666.36 347.09l-0.03 0.99M586.1 379.12l0.24 0.41M636.11 311.51l-0.37 0.35M568.12 332.4l-0.38 0.14M622.72 373.8l0.12 0.51M565.21 385.75l-0.53 0.75M604.52 349.78l0.29 0.44M587.12 368.64l-0.29 0.33M563.59 371.69l0.92 0.16M590.73 383.29l-0.38 0.59M565.94 345.13l0.57 0.86M629.62 378.16l0.85 0.18M655.73 352.23l-0.02 0.41M672.96 314.89l-0.36 1.03M649.1 330.94l0.19 0.37M672.82 327.21l-0.1 0.89M601.04 384.61l-1.04 0.24M562.03 329.38l0.23 0.33M622.51 355.03l0.96 0.23M614.76 337.16l-0.66 0.21M595.16 380.29l0.76 0.04M567.28 351.32l0.16 0.98M624.59 350.25l0.12 0.87M658.81 342.19l-0.9 0.31M609.3 347.61l0.58 0.46M602.27 341.77l0.59 0.08M616.6 368.26l0.82 0.72M643.08 372.7l-0.34 0.88M596.94 364.33l0.9 0.1" stroke="#94747c" stroke-width="1.3" stroke-linecap="round" fill="none" opacity="0.7"/>
<path d="M617.99 322.88l0.74 0.18M588.8 353.36l-0.39 0.61M625.16 340.87l0.67 0.86M591.95 380.88l-0.26 0.49M591.61 383.18l-0.59 0.05M622.01 369.97l1.01 0.04M595.34 362.27l-0.6 0.86M615.02 376.94l0.47 0.28M619.35 385.64l0.03 0.42M566.66 318.5l-0.76 0.37M625.34 376.42l-0.78 0.04M570.08 346.4l0.17 0.62M580.5 328.33l0.46 0.03M637.99 327.78l0.05 0.62M618.33 339.32l0.04 0.59M626.23 331.3l0.61 0.54M641.44 380.05l0.58 0.39M565.52 380.13l-0.32 0.33M636.64 315.65l0.08 0.52M615.28 365.71l0.49 0.39M615.87 345.29l-0.55 0.23M626.82 372.97l-0.88 0.1M654.94 316.32l0.09 0.69M562.19 367.5l0.48 0.41M672.61 351.89l0.09 0.69M621.92 318.91l-0.71 0.47M599.81 341.22l0.53 0.4M651.69 368.41l0.72 0.66M670.1 358.57l-0.55 0.35M586.28 311.28l-0.82 0.12M608.37 326.43l-0.35 0.23M674.21 384.83l0.55 0.38M619.68 378.43l0.44 0.82M587.92 382.72l-0.23 0.96M588.19 314.01l-0.55 0.06M608.24 337.93l0.23 0.55M657.95 386.9l-0.36 0.33M583.29 314.5l-0.33 0.31M595.26 374.52l-0.82 0.15M576.61 355.47l-0.97 0.3M604.56 382.53l-0.56 0.53M667.01 371.39l0.63 0.51M575.1 383.62l0.24 0.53M672.17 338.48l0.63 0.37M595.47 331.4l0.59 0.37M609.03 332.15l0.57 0.52M623.91 328.8l0.56 0.5M566.11 377.19l0.36 0.7M626.38 345.22l0.65 0.4M655.07 335.66l0.61 0.45M588.37 374.05l0.05 1.05M635.89 360.03l0.69 0.28M633.83 381.9l0.52 0.36M601.96 342.25l-0.92 0.09M617.98 358.52l-0.43 0.55M596.22 366.07l-1 0.06M631.92 369.58l0.65 0.35M582.77 332.75l-0.21 0.37M669.42 336.87l-0.7 0.13M588.69 330.49l0.62 0.44M564.39 379.79l0.36 0.31M613.48 314.5l-0.52 0.47M568.31 351.5l-0.15 0.98M632.84 310.96l0.8 0.48M592.84 380.23l-0.08 0.68M630.07 377.12l-0.45 0.99M594.62 335.58l-0.75 0.09M650.47 317.42l0.64 0.73M616.34 360.12l-0.21 0.39M652.14 382.68l-0.51 0.2M591.75 354.95l0.31 1.02M647.22 349.38l0.31 0.78M590.33 381.61l0.38 0.55M668.13 375.89l-0.83 0.15M669.28 353.88l0.16 1M607.03 354.82l-0.25 0.77M612.81 373.99l-0.19 0.83M579.51 349.31l0.61 0.12M584.63 361.62l0.2 0.72M663.46 363.73l0.7 0.45M617.66 320.9l0.46 0.4M573.09 338.97l-1.02 0.41M578.88 370.56l-0.43 0.48M650.23 332.87l-0.84 0.42M657.76 314.02l-0.93 0.13M662.12 359.15l-0.08 0.51M565.16 325.58l0.71 0.49M561.23 333.44l-0.6 0.81M640.73 362.72l0.81 0M586.21 378.45l-0.47 0.47M601.07 337.39l0.76 0.36M635.22 384.04l-0.85 0.03M581.29 358.74l0.12 0.4M564.56 347.79l0.63 0.38M663.22 344.45l0.37 0.26M604.79 342.75l0.05 0.42M621.89 366.36l0.08 0.5M638.03 366.68l-0.72 0.37M655.68 345.14l-0.8 0.21M570.95 366.88l0.04 0.45M591.58 354.73l0.1 0.5M655.21 335.75l-0.95 0.42M630.23 384.74l-0.82 0.01M562.37 330.71l0.74 0.33M583.22 339.32l0.77 0.52M619.01 327.48l-0.91 0.39M674.52 379.43l-0.34 0.37M643.89 349.72l-0.03 0.65M662.85 349.01l0.69 0.84M633.17 382.93l0.11 1.09M603.89 385.92l-0.38 0.28M645.32 350.43l0.16 0.48M607.98 325.17l0.4 0.75M594.13 338.93l-0.86 0.63M634.66 382.52l-0.34 0.88M666.79 331.25l-0.62 0.52M657.98 333.66l0.83 0.17M609.13 354.6l0.01 0.64M667.93 384.08l-0.22 0.38M568.97 382.41l-0.3 0.75M648.3 382.78l0.54 0.14M639.99 353.49l0.41 0.7M565.18 316.25l-0.5 0.25M663 336.68l-0.26 1.04M664.46 329.98l0.62 0.09M565.55 323.04l0.49 0.89M583.55 364.09l0.29 0.32M574.75 327.31l0.8 0.16M628.91 340.1l-0.09 0.78M602.01 368.13l0.54 0.05M595.85 314.95l0.31 0.51M602.72 364.3l-0.7 0.47M607.94 313.38l0.38 0.25M640.11 357.48l0.52 0.12M605.28 362.68l0.34 0.27M579.16 359.19l-0.03 1.06M620.97 325.75l-0.72 0.68M662.91 348.31l0.36 0.41M663.21 326.74l0.43 1M652.49 354.67l0.09 0.68M662.24 360.72l0.37 0.37M619.03 349.61l0.75 0.44M607.39 325.64l-0.85 0.23M618.78 382.24l0.3 0.41M566.83 339.58l-0.63 0.37M577.74 340.68l0.09 0.41M643.79 373.42l0.75 0.41M617.48 321.33l-0.16 0.84M570.65 330.33l0.62 0.04M588.54 362.41l0.67 0.72M630.05 343.28l0.54 0.45M572.91 368.36l0.24 0.32M634.18 344.74l0.59 0.19M592.61 344.2l0.02 0.9M596.43 356.61l0.4 0.19M617.51 385.01l-0.69 0.18M632.98 362.49l-0.85 0.36M672.89 361.06l-0.41 0.18M593.93 355.49l-0.45 0.44M635.58 367.14l-0.6 0.01M579.44 369.26l-0.77 0.3M584.21 310.85l0.17 0.89M587.63 323.39l0.28 0.44M636.23 362.5l-0.49 0.85M608.69 354.31l0.22 0.39M596.66 385.31l-0.6 0.3M639.29 317.52l0.91 0.41M607.87 345.77l-0.69 0.51M674.87 337.68l-0.13 0.9M566.95 327.76l-0.7 0.09M624.91 371.41l-0.8 0.15M621.93 314.12l0.15 0.84M639.99 362.19l-0.67 0.53M634.1 387.52l0.22 0.52M559.79 352.94l-0.26 0.34M569.58 366.89l0.62 0.8M584.35 343.57l0.72 0.2M600.44 385.46l0.84 0.55M565.85 355.61l-0.41 0.89M658.41 357.69l-0.72 0.18M667.36 353.05l-0.52 0.36M673.63 350.93l-0.61 0.81M657.62 356.13l0.76 0.54M616.5 313.59l0.75 0.22M564.02 343.26l0.22 0.34M670.95 375.52l0.37 0.39M591.09 321.7l-0.74 0.05M619.58 334.42l-0.22 0.49M628.01 333.16l0.4 0.82M661.22 370.1l-0.54 0.96M580.24 359.23l-0.99 0.4M592.61 336.16l-0.44 0.49M669.75 311.33l-0.45 0.74M615.04 337.57l0.11 0.4M602.15 314.72l-0.9 0.05M590.5 361.13l-0.36 0.83M588.23 337.23l-0.96 0.45M643.17 314.32l0.88 0.51M662.23 383.77l0.52 0.27M645.45 343.59l0.5 0.48M660.51 326.56l-0.59 0.29M602.04 336.46l0.05 0.63M560.85 333.94l-1.09 0M662.7 375.89l0.53 0.43M653.79 380.33l-0.52 0.73M658.29 325.91l1.08 0.18M576.2 325.71l-0.01 1M628.95 361.29l-0.79 0.68M654.67 367.72l-0.35 0.26M622.17 350.49l0.08 0.56M657.6 359.21l0.7 0.58M609.76 312.34l0.65 0.87M568.92 358.06l0.55 0.78M617.67 359l-0.55 0.92M583.81 371.73l-0.37 0.61M642.52 336.26l0.99 0.2M648.92 362.84l-0.37 0.77M591.94 341.09l1.02 0.32M591.22 339.17l-0.39 0.44M635.3 369.29l-0.05 0.97M576.85 314.18l-0.54 0.15M605.28 337.23l-1.03 0.31M624.5 343.13l0.41 0.67M620.64 360.62l-0.81 0.21M616.57 332.53l0.98 0.46M614.79 378.77l-0.7 0.17M598.88 324.77l-0.05 0.86M616.33 369.86l0.63 0.59M596.64 359.65l0.93 0.01M572.51 387.77l1.05 0.18M656.4 317.17l0.62 0.41M594.27 385.53l0.38 0.67M613.06 358.05l-0.74 0.24M601.19 361.37l0.82 0.16M609.81 387.57l0.29 0.96M651.71 356.17l-0.27 0.81M655.93 380.81l0.09 0.55M653.14 367.85l0.13 0.5M663.08 355.66l0.99 0.01M615.15 384.72l-0.39 0.24M621.74 348.87l-0.1 0.65M653.37 339.93l-0.35 0.4M610.61 339.86l-0.65 0.86M581.45 372.85l-0.63 0.4M590.2 359.72l-0.68 0.03M575.67 330.14l-0.79 0.11M587.49 348.39l0.35 1.03M673.1 336.62l0.44 0.19M617.35 312.28l0.86 0.34M637.61 323.96l-0.37 0.42M674.83 312.32l-0.64 0.01M559 367.41l0.18 0.52M575.47 381.45l-0.36 0.92M581.68 342.88l0.43 0.1M669.75 342.59l0.34 0.34M623.51 382.96l-0.04 0.86M570.48 354.28l0.55 0.28M630.62 370.08l-0.7 0.45M593.04 330.61l0.71 0.21M565.7 349.9l0.51 0.65M604.53 317.08l0.22 0.56M658.13 366.96l1 0.25M625.86 316.47l-1.02 0.16M629.11 333.35l0.89 0.3M581.69 343.07l-0.66 0.14M657.02 332.17l-0.35 0.91M602.21 382.88l-0.35 1M628.81 331.49l-0.97 0.23M616.77 385.63l0.53 0.09M574.83 318.62l0.16 0.54M611.85 367.23l-0.59 0.19M674.2 318.63l-0.85 0.12M661.7 314.21l-0.37 0.3M660.15 325.78l0.35 0.31M667.63 363.98l0.37 0.32M630.99 387.53l-0.98 0.14M653.09 356l-0.46 0.96M633 369.34l0.49 0.67M610.16 380.87l-0.54 0.41M621.06 365.39l0.01 1.09M609.38 315.61l-0.47 0.77M580.79 325.3l-0.37 0.28M628.47 341.65l-0.8 0.1M576.36 353.15l-0.15 0.74M600.23 316.02l0.79 0.27M602.65 323.01l0.33 0.96M571.04 355.13l-0.42 0.86M566.82 345.79l0.08 0.43M604.7 342.22l-0.13 0.72M601.68 333.88l-0.54 0.28M617.21 317.33l-0.8 0.24M617.12 315.35l0.41 0.25M613.39 342.32l-0.31 0.44M626.23 342.91l-0.37 0.76M568.99 334.73l0.58 0.08M561.45 379.28l-0.24 0.73M581.79 328.21l0.45 0.77M623.37 331l1.09 0.17M564.16 311.39l-0.3 0.31M584.84 332.58l0.51 0.78" stroke="#98a0c0" stroke-width="1.3" stroke-linecap="round" fill="none" opacity="0.7"/>
<path d="M648.97 368.93l0.18 0.5M569.17 315.53l-0.3 0.41M653.53 355.69l0.06 0.45M621.18 380.15l-1.05 0.03M598.86 339.02l-0.41 0.14M620.54 315.25l0.42 0.43M590.45 349.43l-0.37 0.66M587.94 364.46l0.56 0.4M674.28 322.46l0.55 0.88M667.25 386.72l-0.13 0.91M673.98 322.4l-0.61 0.05M658.54 357.62l0.67 0.14M622.44 346.4l-0.85 0.58M616.33 341.12l-0.2 0.37M673.24 374.91l-0.48 0.88M611.5 327.6l0.21 0.49M646.08 358.97l0.66 0.07M572.77 329.16l0.39 0.13M660.7 370.73l0.69 0.6M593.52 352.09l1.03 0.24M667.58 337.21l0.31 0.3M594.56 323.77l-0.31 0.92M617.71 313.73l-0.39 0.23M659.28 383.49l0.46 0.85M609.61 357.93l-0.36 0.29M581.6 365.06l0.66 0.41M638.25 313.06l0.85 0.22M668.25 328.85l0.63 0.49M586.34 339.41l-0.69 0.17M591.06 336.81l-0.9 0.22M565.89 347.95l-0.03 0.48M630.59 350.8l0.9 0.32M663.05 360.66l0.39 0.91M572.51 312.45l-0.82 0.28M668.84 342.11l-0.34 0.86M620.38 327.75l0.27 0.84M634.89 318.79l-0.74 0.38M645.93 350.45l-0.46 0.69M588.04 375.63l0.71 0.13M598.82 358.24l0.7 0.56M622.38 358.36l0.54 0.69M613.96 345.35l-0.4 0.63M635.3 372.69l-0.13 0.72M588.48 350.64l-0.97 0.27M632.19 367.61l-0.49 0.39M670.97 341.45l0.73 0.27M597.74 345.42l-0.57 0.73M611.64 368.1l-0.19 0.46M666.75 329.26l0.21 0.37M631.88 366.39l0.39 0.37M578.1 365.91l0.58 0.31M635.64 381.62l0.58 0.22M563.94 318.93l-0.52 0.18M663.15 342.6l0.87 0.2M660.01 342.14l-0.41 0.81M673.27 314.27l-0.2 0.46M652.05 328.13l-0.54 0.92M629.74 342.21l0.88 0.52M646.06 314.42l0.63 0.43M624.14 360.89l0.01 0.46M628.64 365.65l-0.42 0.67M595.84 386.86l0.01 1M669.05 312.47l0.79 0M629.82 323.87l-0.37 0.26M643.83 335.1l0.17 0.57M579.56 380.27l0.9 0.11M589.7 323.04l-0.59 0.59M579.22 321.5l0.86 0.48M631.65 349l-0.02 0.83M636.05 328.71l0.46 0.35M655.42 367.54l-0.46 0.05M577.36 313.23l0.85 0.39M623.81 368.62l0.4 0.89M630.64 316.75l0.88 0.03M652.59 352.65l-0.83 0.64M614.05 380.34l0.51 0.42M664.28 345.69l0.27 0.93M571.23 384.88l-0.38 0.65M592.77 332.31l-0.29 0.61M645.47 381.55l0.01 0.63M617.27 378.41l0.99 0.24M648.24 383.68l-0.82 0.4M664.85 361.39l-0.1 0.9M652.91 322.45l-0.44 0.43M657.8 317.86l0.57 0.78M651.46 352.38l-0.35 0.25M646.58 324.04l-0 0.46M664.08 337.69l0.43 0.33M664.95 332.84l0.61 0.87M668.44 352.51l-0.71 0.42M619.91 338.57l0.15 0.45M642.37 340.38l-0.46 0.49M624.62 345.97l0.1 0.86M614.32 332.73l-0.66 0.46M636.84 364.5l-0.03 0.52M587.89 383.96l0.29 0.47M641.64 381.39l-0.89 0.17M603.9 342.53l0.61 0.46M603.81 336.27l-0.34 0.39M625.05 329.04l-0.03 0.82M559.85 335.57l-0.75 0.12M639.01 357.42l-0.33 0.48M619.89 370.44l0.91 0.11M643.64 346.4l0.02 0.83M597.91 324.64l-0.52 0.25M662.34 374.91l0.18 0.65M567.69 316.54l-0.16 0.78M590.43 351.32l-0.15 0.69M636.95 322.91l0.51 0.46M664.52 369.83l0.25 0.99M665.33 334.73l0.27 0.3M634.91 334.46l-0.85 0.07M640.35 327.02l-0.41 0.47M633.57 311.67l-0.53 0.18M661.16 321.72l0.14 0.51M590.57 372.74l0.14 1.07M639.94 334.1l0.12 0.39M585.75 319.52l-0.21 0.36M630.3 359.27l0.76 0.14M636.43 342.18l-0.67 0.67M566.74 383.13l-0.55 0.15M655.93 374.1l-0.62 0.69M642.74 328.59l0.45 0.19M588.88 326.18l-0.52 0.23M579.01 334.35l0.03 0.64M601.1 315.85l0.57 0.92M569.4 361.97l0.48 0.25M651.31 341.15l0.51 0.05M664.71 320.36l-0.39 0.24M592.92 373.43l0.41 0.07M658.89 342.12l0.77 0.34M651.35 368.64l-0.06 0.58M574.41 384.82l0.64 0.47M570.54 351.41l-0.24 0.37M671.35 351.05l0.15 1.04M655.32 378.92l0.53 0.03M620.39 334.47l0.19 0.8M637.36 366.71l-0.92 0.49M648 362.24l-0.98 0.1M618.53 318.54l0.8 0.7M636.9 329.64l-0.06 0.93M575.25 337.83l0.82 0.2M570.9 367.88l0.36 0.88M591.25 366.61l0.12 0.65M585.51 340.85l0.53 0.07M605.45 377.04l-0.35 0.55M595.79 353.11l-0.89 0.18M648.53 372.91l-0.82 0.49M597.78 371.79l0.64 0.34M606.83 339.42l0.28 0.56M659.31 320.2l-0.66 0.08M614.94 365.93l0.57 0.86M579.15 341.32l-0.5 0.5M611.4 374.59l-0.23 0.48M661.76 318.77l0.04 0.85M572.88 330.02l-0.37 0.6M643.94 332.7l-0.42 0.47M624.17 366.64l0.48 0.13M659.16 340.45l-0.21 0.43M597.75 329.4l-0.7 0.22M634.85 339.43l-0.2 0.71M570.69 336.17l0.76 0.39M594.72 372.66l-0.68 0.38M640.94 345.88l0.77 0.17M614.31 342.39l0.92 0.41M601.35 379l-0.78 0.26M660.25 351.71l0.58 0.28M602.57 317.51l-0.59 0.33M636.61 373.05l0.86 0.6M604.05 387.09l0.37 0.3M591.07 346.27l-0.45 0.16M642.11 372.77l0.06 1.06M619.97 379.66l0.47 0.41M620.02 349.69l-0.39 0.23M605.68 315.54l0.72 0.76M619.58 364.88l0.98 0.22M575.8 365.09l-0.4 0.48M629.71 336.07l0.53 0.29M564.84 325.93l-0.28 0.96M617.93 344.96l-0.57 0.08M605.61 388.06l-1.05 0.09M619.76 369.71l-0.97 0.07M668.36 354.5l0.65 0.68M599.82 361.74l0.15 0.55M665.45 320.36l0.19 0.42M624.08 316.5l-0.25 0.34M569.14 334.58l-0.55 0.03M633.78 354.35l0.2 0.4M653.31 372.39l-0.96 0.34M619.26 366.13l0.39 0.88M602.21 331.12l-0.52 0.79M568.76 361.87l-0.28 0.54M608.02 345.31l-0.21 0.54M622.94 356.13l0.43 0.48M570.33 325.17l-0.39 0.18M565.83 342.37l-0.51 0.19M644.03 336.67l-0.06 0.42M666.29 381.22l-0.32 0.41M573.95 327.67l-0.23 0.96M649.48 327.58l-0.39 0.14M667.42 375.01l-0.07 0.52M566.29 354.53l0.38 0.64M611.38 377.43l0.22 0.71M602.91 313.65l0.32 0.26M607.78 343.7l0.89 0.16M621.35 323.55l-0.13 0.73M662.9 323.52l-0.78 0.5M585.2 326.09l-0.5 0.49M573.83 321.85l-0.52 0.24M640.79 313.33l-0.06 0.77M664.11 378.87l-0.99 0.44M655.78 319.17l-0.38 0.6M571.69 316.5l-0.64 0.3M567.9 383l0.56 0.37M570.33 378.03l-0.19 0.67M575.2 315.13l0.77 0.18M607.62 369.9l-0.25 0.54M620.6 324.19l-0.98 0.27M658.94 332.03l-0.05 0.57M595.18 318.99l0.68 0.12M615.49 338.58l-0.06 1.03M646.09 353.95l0.01 0.71M587.51 312.62l0.11 1.06M657.7 381.53l-0.71 0.6M639.92 338.6l0.55 0.16M613.9 314.74l0.72 0.09M637.98 337.81l0.59 0.75M649.85 326.39l-0.51 0.28M590.83 361.55l0.29 0.47M579.29 334.02l-0.23 0.44M624.77 336.48l-0.67 0.85M631.68 331.57l-0.4 0.03M624.54 313.22l0.59 0.31M569.03 345.54l0.79 0.01M604.77 334.24l-0.21 0.56M561.55 330.01l0.52 0.32M561.19 334.42l-0.72 0.35M599.1 378.34l0.65 0.44M638.71 320.86l0.86 0.08M603.4 321.26l-0.61 0.03M592 315.3l0.07 0.49M667.19 331.2l0.6 0.09M566.15 379.23l-0.26 0.37M614.48 332.46l0.43 0.49M617.19 373.92l0.71 0.09M601.98 325.4l0.3 0.67M656.49 338.06l0.14 0.46M611.95 355.77l0.3 0.38M598.05 328.38l0.83 0.43M650.63 332.96l0.46 0.08M602.36 314.51l-0.42 0.15M603.41 337.21l0.6 0.13M656.32 341.04l-0.4 0.42M625.38 319.77l-0.66 0.85M644.67 331.44l-0.35 0.46M564.65 359.26l0.67 0.18M613.99 371.96l0.86 0.67M617.8 338.52l0.57 0.41M596.95 324.11l-0.49 0.24M672.78 379.39l-0.08 0.43M595.08 350.2l-0.19 0.8M599.71 357.39l-0.64 0.72M633.46 373.04l-0.33 0.28M611.74 360.87l-0.62 0.04M652.16 338.39l0.66 0.44M581.77 379.1l0.8 0.4M590.66 372.61l-0.6 0.18M600.59 322.46l0.43 0.02M605.64 359.03l0.33 0.51M643.64 339.54l-0.51 0.06M669.11 339.73l0.33 0.83M640.72 352.38l-0.08 0.82M672.74 353.3l0.78 0.07M625.83 317.56l0.7 0.4M624.96 337.54l-0.47 0.88M653.8 344.6l0.88 0.06M567.23 325.43l-0.83 0.24M595.5 359.68l-0.77 0.63M653.34 383.24l1.04 0.07M673.39 377.28l0.3 0.95M635.15 326.1l-0.58 0.09M663.44 324.19l-0.1 0.68M561.43 321.68l0.74 0.04M595.15 323.87l0.11 0.56M665.2 355.99l-0.31 0.44M563.29 348.75l0.88 0.09M614.55 320.51l-0.85 0.66M614.79 346.12l0.08 0.53M612.84 342.1l-0.38 0.7M664.48 380.63l0.4 0.23M603.69 326.15l0.82 0.19M657.22 362.09l-0.26 0.31M654.28 375.5l-0.16 0.49M588.6 382.13l-0.21 0.52M628.87 378.99l0.86 0.53M615.44 378.94l-0.3 0.98M643.2 315.67l-0.08 0.59" stroke="#aa8a84" stroke-width="1.3" stroke-linecap="round" fill="none" opacity="0.7"/>
<path d="M632.86 333.28l-0 0.58M645.38 373.59l0.93 0.3M591.92 320.03l-0.68 0.04M606.25 328.42l-0.22 0.34M566.14 367.69l0.81 0.12M597.75 335.8l0.47 0.01M576.01 341.64l-0.37 0.21M660.56 384.6l0.8 0.45M637.37 332.66l-0.93 0.09M661.58 379.76l-0.27 0.33M666.58 353.9l0.26 0.98M627.41 341.49l0.46 0.65M655.9 335.86l0.75 0.36M666.89 376.2l-0.16 0.64M614.88 348.8l0.48 0.14M568.1 363.58l0.52 0.55M635.09 336.13l-0.41 0.83M670.65 374.14l-0.17 0.51M619.62 365.73l-0.79 0.23M583.43 372.15l0.74 0.33M593.39 336.05l-0.13 1.04M608.74 343.58l-0.49 0.38M616.78 311.78l-0.58 0.69M559.89 373.84l-0.75 0.67M605.4 355.61l0.3 0.75M616.18 367.77l1.04 0.34M636.3 364.37l-0.56 0.01M574.67 320.47l0.52 0.46M600.88 323.75l0.3 0.28M604.88 325.27l0.2 0.73M629.53 356.66l0.14 0.54M569.83 373.93l-0.06 0.76M568.9 340.96l-0.46 0.63M595.55 386.38l0.42 0.62M661.47 382.9l-0.44 0.04M587.54 360.28l0.59 0.21M615.63 381.56l0.15 0.45M618.41 329.55l-0.92 0.23M626.96 354.34l-0.55 0.23M618.34 379.92l0.67 0.39M587.67 370.97l-0.39 0.29M646.8 370.37l0.4 0.63M661.92 326.28l-0.12 0.6M639.47 364.78l-0.04 0.83M639.64 371.4l0.13 0.41M605.35 330.4l-0.76 0.61M611.23 312.52l0.04 0.92M640.01 334.78l0.78 0.19M561.82 385.09l-0.07 0.65M582.48 368.66l-0.05 0.64M580.5 378.84l-0.62 0.49M601.73 386.84l0.5 0.69M628.55 328.33l-0.9 0.45M603.22 335.95l-0.2 0.48M559.94 322.91l0.45 0.37M644.45 386.25l0.76 0.62M672.69 337.55l0.32 0.85M657.33 325.12l0.16 0.5M648.49 321.67l0.52 0.52M644.32 334.77l0.21 0.35M601.17 376.64l0.66 0.78M584.48 314.25l-0.59 0.27M625.29 327.22l0.39 0.9M662.8 387.26l0.62 0.15M617.05 313.16l0.39 0.86M632.07 362.7l0.63 0.07M570.55 344.32l-0.13 0.58M671.13 374.77l-0.83 0.15M611.18 328.47l0.32 0.42M580.72 320.08l-0.29 0.68M653.3 341.3l0.67 0.12M616.08 343.04l-0.95 0.14M584.98 340.57l0.44 0.33M644.94 342.02l-0.5 0.28M559.1 330.75l0.26 0.42M659.51 324.61l0.53 0.24M645.66 341.99l-0.93 0.48M633.65 363.83l0.42 0.74M607.48 344.12l-0.8 0.36M621.8 361.94l-0.89 0.05M565.05 370.83l-0.73 0.46M662.07 329.66l0.58 0.08M612.91 369.34l-0.14 0.91M570.51 369.26l-0.94 0.17M615.05 380.48l1.09 0.13M590.03 357.54l0.9 0.12M656.28 336.8l0.82 0.3M666.78 340l-0.33 0.79M570.83 335.48l-0.44 0.56M628.82 377.58l0.38 0.44M628.61 379.84l-0.55 0.11M660.22 342.1l-0.17 0.58M620.33 366.89l0.52 0.03M635.69 338.77l0.51 0.1M607.8 339.2l-0.47 0.94M571.29 348.1l0.27 0.78M601.43 378.03l0.14 1.02M627.61 317.92l-0.04 0.53M580.85 380.47l-0.4 0.07M617.28 386.24l0.97 0.05M642.41 337.93l-0.6 0.51M614.28 341.32l0.64 0.78M630.49 351.77l0.06 0.55M593.46 349.01l0.58 0.48M630.48 312.27l-0.35 0.51M660.12 354.42l-0.68 0.01M627.6 317.13l-0.87 0.48M647.42 328.18l0.5 0.13M637.31 338.19l-0.48 0.45M642.52 345.07l-1.05 0.2M569.26 355.78l0.78 0.07M573.24 378.98l-0.13 0.68M603.16 368.1l-0.49 0.54M628.26 312.95l-0.75 0.67M634.59 324.91l0.68 0.69M653.99 360.89l-0.1 0.51M650.08 367.66l0.47 0.05M668.15 350.76l-0.97 0.11M596.76 325.54l0.92 0.18M636.18 348.35l-0.2 0.97M633.04 384.96l0.37 0.3M622.77 318.07l0.02 0.43M591.15 386.43l-0.48 0.72M626.21 367.47l-0.22 0.9M586.02 321.77l-0.19 0.36M655.61 350.68l-0.4 0.23M559.84 387.86l-0.87 0.5M645.06 376.23l-0.49 0.06M623.46 381.11l-1.09 0.04M623.13 355.14l0.84 0.45M673 324.24l-0.48 0.79M579.31 367.14l-0.54 0.18M606.5 379.05l0.1 0.51M613.65 325.17l-0.92 0.41M584.65 342.46l0.46 0.03M571.91 338.38l0.53 0.34M593.42 316.34l0.81 0.12M601.06 383.73l0.52 0.07M592.16 341.32l0.3 0.7M643.39 327.63l-0.54 0.72M645.65 318.89l-0.55 0.02M563.69 318.35l0.31 0.95M567.61 338.47l0.45 0.03M561.81 344.05l-0.22 0.73M615.78 383.58l0.36 0.48M572.31 323.56l0.51 0.25M605.22 317.39l-1.01 0.16M592.18 316.92l-0.68 0.49M586.94 373.99l-0.36 0.97M596.58 313.8l0.18 0.69M636.43 325.02l-0.49 0.32M593.81 312.55l-0.45 0.63M592 357.85l0.8 0.05M592.55 318.35l-0.81 0.22M618.05 354.96l0.38 0.68M570.23 318.01l-0.01 1.05M612.18 384.2l-0.59 0.07M614.76 339.25l0.23 0.82M637.18 322.02l-0.64 0.24M675.01 380.19l-0.95 0.09M571.04 350.11l0.45 0.02M620.26 329.34l-0.59 0.22M646.18 366.45l-0.24 0.92M573.22 346.87l-0.31 0.62M635.14 374.93l1.07 0.17M561.46 324.44l-0.89 0.15M637.02 332.67l0.62 0.14M629.07 363.74l-0.26 0.89M581.33 331.78l0.12 0.54M619.93 335.09l-0.47 0.26M629.23 316.97l-0.17 0.97M576.5 324.44l-0.51 0.82M592.32 384.29l0.32 0.3M559.57 331.16l-0.78 0.16M631.05 368.06l0.73 0.49M657.21 326.47l-0.62 0.19M628.67 335.28l-0.92 0.32M638.98 383.99l0.09 0.49M605.61 315.02l-0.16 0.49M643.79 320.3l0.51 0.56M616.26 340.35l-0.11 0.51M561.71 364.06l-0.16 0.78M644.11 359.35l0.66 0.45M640.11 317.46l-0.17 0.81M618.7 341.43l0.31 0.39M597.02 314.37l-0.02 0.81M596.07 334.08l0.54 0.63M570.05 323.62l-0.43 0.35M616.17 329.11l-0.43 0.27M598.73 375.84l0.11 0.49M634.31 346.54l0.17 0.79M595.85 345.58l-0.44 0.36M626.94 361.22l-0.28 0.53M667.87 334.04l-0.35 0.88M587.61 356.46l0.74 0.44M566.73 376.37l0.96 0.36M578.58 377.24l-0.61 0.82M656.6 370.49l1.07 0.24M604.24 337.44l-0.22 0.71M621.59 339.12l0.42 0.73M634.16 378.89l0.88 0.26M579.24 325.32l0.74 0.12M633.33 319.91l-0.87 0.35M571.43 359.19l-0.33 0.54M624.78 363.85l0.24 0.44M674.7 368.22l0.44 0.79M570.61 325.25l-0.66 0.63M564.07 333.88l0.21 0.83M566.66 380.41l0.15 0.53M654.59 322.2l-0.13 0.42M652.51 350.77l0.42 0.25M643.24 314.87l-0.09 0.53M589.32 340.27l-0.41 0.16M562.53 354.21l-0.5 0.38M634.64 316.5l0.05 0.55M652.22 377.61l0.78 0.09M590.63 334.59l-0.01 0.51M601.78 379.43l-0.19 0.68M662.43 360.38l0.42 0.48M600.48 312.43l0.3 0.47M649.38 385.77l-0.79 0.5M647.08 375.37l0.06 0.71M587.92 365.01l-0.61 0.78M574.71 340.33l0.75 0.7M581.83 364.68l-0.8 0.09M583.25 379.47l0.14 0.76M627.84 351.55l-0.31 0.6M670.74 380.07l-0.22 0.43M571.64 312.9l0.77 0.39M674.22 326.79l-0.42 0.29M584.48 357.67l-0.2 0.38M567.12 378.56l0.44 0.22M615.72 324.07l0.19 0.41M614.79 328.29l0.73 0.17M657.55 359.69l-1.02 0.11M614.31 369.29l-0.03 0.61M659.18 379.5l0.25 0.89M640.01 321.86l-0.55 0.06M583.08 365.32l0.51 0.71M561.32 342.86l-0.58 0.04M651.84 381.9l-0.74 0.21M601.65 371.88l-0.79 0.35M563.56 347.74l0.19 0.36M563.58 325.75l-0.43 0.49M606.31 336.96l0.77 0.38M649.5 316.63l0.52 0.1M639.54 359.12l0.26 0.82M572.61 328.62l0.02 0.92" stroke="#88728a" stroke-width="1.3" stroke-linecap="round" fill="none" opacity="0.7"/>
<g filter="url(#bl1)">
<ellipse cx="601" cy="356" rx="1.5" ry="6" fill="#f4f2f0" transform="rotate(20 601 356)"/>
<ellipse cx="609" cy="375" rx="2" ry="7" fill="#f4f2f0" transform="rotate(-10 609 375)"/>
<ellipse cx="631" cy="381" rx="2" ry="5" fill="#f4f2f0"/>
<ellipse cx="579" cy="331" rx="2" ry="4" fill="#f4f2f0"/>
<ellipse cx="637" cy="321" rx="1.5" ry="4" fill="#f4f2f0"/>
<ellipse cx="619" cy="341" rx="1.5" ry="5" fill="#f4f2f0" transform="rotate(15 619 341)"/>
</g>
</g></g>
<line x1="648" y1="385.1" x2="673" y2="385.1" stroke="#3a3a3a" stroke-width="1.1"/>
<text x="501.5" y="216.6" font-size="8.2" text-anchor="middle" fill="#1a1a1a">Normal</text>
<text x="617.3" y="216.6" font-size="8.2" text-anchor="middle" fill="#1a1a1a">Grade 1</text>
<text x="501.5" y="307.8" font-size="8.2" text-anchor="middle" fill="#1a1a1a">Grade 2</text>
<text x="617.3" y="307.8" font-size="8.2" text-anchor="middle" fill="#1a1a1a">Grade 3</text>
<rect x="485.9" y="428.7" width="185.9" height="153.2" fill="none" stroke="#333" stroke-width="0.8"/>
<line x1="481.9" y1="574.5" x2="485.9" y2="574.5" stroke="#333" stroke-width="0.8"/>
<text x="477.2" y="577.3" font-size="8" text-anchor="end" fill="#1a1a1a">0</text>
<line x1="481.9" y1="546.92" x2="485.9" y2="546.92" stroke="#333" stroke-width="0.8"/>
<text x="477.2" y="549.72" font-size="8" text-anchor="end" fill="#1a1a1a">0.2</text>
<line x1="481.9" y1="519.34" x2="485.9" y2="519.34" stroke="#333" stroke-width="0.8"/>
<text x="477.2" y="522.14" font-size="8" text-anchor="end" fill="#1a1a1a">0.4</text>
<line x1="481.9" y1="491.76" x2="485.9" y2="491.76" stroke="#333" stroke-width="0.8"/>
<text x="477.2" y="494.56" font-size="8" text-anchor="end" fill="#1a1a1a">0.6</text>
<line x1="481.9" y1="464.18" x2="485.9" y2="464.18" stroke="#333" stroke-width="0.8"/>
<text x="477.2" y="466.98" font-size="8" text-anchor="end" fill="#1a1a1a">0.8</text>
<line x1="481.9" y1="436.6" x2="485.9" y2="436.6" stroke="#333" stroke-width="0.8"/>
<text x="477.2" y="439.4" font-size="8" text-anchor="end" fill="#1a1a1a">1</text>
<line x1="485.9" y1="581.9" x2="485.9" y2="585.4" stroke="#333" stroke-width="0.8"/>
<text x="485.9" y="595.2" font-size="8" text-anchor="middle" fill="#1a1a1a">0</text>
<line x1="544.6" y1="581.9" x2="544.6" y2="585.4" stroke="#333" stroke-width="0.8"/>
<text x="544.6" y="595.2" font-size="8" text-anchor="middle" fill="#1a1a1a">50</text>
<line x1="603.3" y1="581.9" x2="603.3" y2="585.4" stroke="#333" stroke-width="0.8"/>
<text x="603.3" y="595.2" font-size="8" text-anchor="middle" fill="#1a1a1a">100</text>
<line x1="662" y1="581.9" x2="662" y2="585.4" stroke="#333" stroke-width="0.8"/>
<text x="662" y="595.2" font-size="8" text-anchor="middle" fill="#1a1a1a">150</text>
<text x="573.5" y="604.8" font-size="7.9" text-anchor="middle" fill="#1a1a1a">Time (months)</text>
<text x="462" y="499" font-size="7.9" text-anchor="middle" fill="#1a1a1a" transform="rotate(-90 462 499)">OS probability</text>
<text x="577.7" y="425.1" font-size="8" text-anchor="middle" fill="#1a1a1a">LAP2&#945;</text>
<text x="664" y="439.5" font-size="7.9" text-anchor="end" fill="#1a1a1a">HR = 1.76 (1.04 &#8722; 2.96)</text>
<text x="664" y="449.9" font-size="7.9" text-anchor="end" fill="#1a1a1a">logrank <tspan font-style="italic">P</tspan> = 0.03</text>
<text x="492.3" y="550" font-size="8" text-anchor="start" fill="#1a1a1a">Expression</text>
<line x1="494.9" y1="558.8" x2="510.9" y2="558.8" stroke="#111111" stroke-width="0.8"/>
<line x1="494.9" y1="567.8" x2="510.9" y2="567.8" stroke="#e8262a" stroke-width="0.8"/>
<text x="514.1" y="561.5" font-size="8" text-anchor="start" fill="#1a1a1a">H-score low (n = 96)</text>
<text x="514.1" y="570.5" font-size="8" text-anchor="start" fill="#1a1a1a">H-score high (n = 97)</text>
<polyline points="485.9,436.6 488,436.6 488,437.8 494.6,437.8 494.6,441.4 504.8,441.4 504.8,442.5 517.2,442.5 517.2,443.7 523.1,443.7 523.1,445.1 531.1,445.1 531.1,447.6 532.6,447.6 532.6,449.1 539.1,449.1 539.1,450.5 543.5,450.5 543.5,452 550.1,452 550.1,453.5 557.4,453.5 557.4,454.9 558.8,454.9 558.8,456.4 567.6,456.4 567.6,457.9 572,457.9 572,459.5 575,459.5 575,461 577.2,461 577.2,462.7 602.9,462.7 602.9,465 605,465 605,468.4 616.6,468.4 616.6,471.6 630.2,471.6 630.2,475.3 660,475.3" fill="none" stroke="#111111" stroke-width="0.8"/>
<polyline points="485.9,436.6 496.1,436.6 496.1,437.8 498.2,437.8 498.2,439.3 503.4,439.3 503.4,440.8 505.5,440.8 505.5,443.2 510.7,443.2 510.7,444.7 515,444.7 515,446.6 517.2,446.6 517.2,448.4 518.7,448.4 518.7,450.5 520.9,450.5 520.9,452.7 523.8,452.7 523.8,454.2 526.7,454.2 526.7,456.4 528.2,456.4 528.2,459.3 532.6,459.3 532.6,462.2 535.5,462.2 535.5,463.7 547.9,463.7 547.9,465.9 550.1,465.9 550.1,468.1 553,468.1 553,469.5 557.4,469.5 557.4,471 561.8,471 561.8,473.2 563.9,473.2 563.9,475.4 565.4,475.4 565.4,476.4 576.4,476.4 576.4,478 578,478 578,479.6 594,479.6 594,484.4 615,484.4 615,492.4 655.1,492.4" fill="none" stroke="#e8262a" stroke-width="0.8"/>
<line x1="579" y1="461.4" x2="579" y2="464" stroke="#111111" stroke-width="0.7"/>
<line x1="583" y1="461.4" x2="583" y2="464" stroke="#111111" stroke-width="0.7"/>
<line x1="587" y1="461.4" x2="587" y2="464" stroke="#111111" stroke-width="0.7"/>
<line x1="590" y1="461.4" x2="590" y2="464" stroke="#111111" stroke-width="0.7"/>
<line x1="592" y1="461.4" x2="592" y2="464" stroke="#111111" stroke-width="0.7"/>
<line x1="596" y1="461.4" x2="596" y2="464" stroke="#111111" stroke-width="0.7"/>
<line x1="598" y1="461.4" x2="598" y2="464" stroke="#111111" stroke-width="0.7"/>
<line x1="609" y1="467.1" x2="609" y2="469.7" stroke="#111111" stroke-width="0.7"/>
<line x1="611" y1="467.1" x2="611" y2="469.7" stroke="#111111" stroke-width="0.7"/>
<line x1="613" y1="467.1" x2="613" y2="469.7" stroke="#111111" stroke-width="0.7"/>
<line x1="619" y1="470.3" x2="619" y2="472.9" stroke="#111111" stroke-width="0.7"/>
<line x1="621" y1="470.3" x2="621" y2="472.9" stroke="#111111" stroke-width="0.7"/>
<line x1="623" y1="470.3" x2="623" y2="472.9" stroke="#111111" stroke-width="0.7"/>
<line x1="625" y1="470.3" x2="625" y2="472.9" stroke="#111111" stroke-width="0.7"/>
<line x1="636" y1="474" x2="636" y2="476.6" stroke="#111111" stroke-width="0.7"/>
<line x1="639" y1="474" x2="639" y2="476.6" stroke="#111111" stroke-width="0.7"/>
<line x1="642" y1="474" x2="642" y2="476.6" stroke="#111111" stroke-width="0.7"/>
<line x1="645" y1="474" x2="645" y2="476.6" stroke="#111111" stroke-width="0.7"/>
<line x1="647" y1="474" x2="647" y2="476.6" stroke="#111111" stroke-width="0.7"/>
<line x1="650" y1="474" x2="650" y2="476.6" stroke="#111111" stroke-width="0.7"/>
<line x1="653" y1="474" x2="653" y2="476.6" stroke="#111111" stroke-width="0.7"/>
<line x1="656" y1="474" x2="656" y2="476.6" stroke="#111111" stroke-width="0.7"/>
<line x1="659" y1="474" x2="659" y2="476.6" stroke="#111111" stroke-width="0.7"/>
<line x1="570" y1="475.1" x2="570" y2="477.7" stroke="#e8262a" stroke-width="0.7"/>
<line x1="572" y1="475.1" x2="572" y2="477.7" stroke="#e8262a" stroke-width="0.7"/>
<line x1="581" y1="478.3" x2="581" y2="480.9" stroke="#e8262a" stroke-width="0.7"/>
<line x1="585" y1="478.3" x2="585" y2="480.9" stroke="#e8262a" stroke-width="0.7"/>
<line x1="589" y1="478.3" x2="589" y2="480.9" stroke="#e8262a" stroke-width="0.7"/>
<line x1="600" y1="483.1" x2="600" y2="485.7" stroke="#e8262a" stroke-width="0.7"/>
<line x1="602" y1="483.1" x2="602" y2="485.7" stroke="#e8262a" stroke-width="0.7"/>
<line x1="606" y1="483.1" x2="606" y2="485.7" stroke="#e8262a" stroke-width="0.7"/>
<line x1="609" y1="483.1" x2="609" y2="485.7" stroke="#e8262a" stroke-width="0.7"/>
<line x1="612" y1="483.1" x2="612" y2="485.7" stroke="#e8262a" stroke-width="0.7"/>
<line x1="617" y1="491.1" x2="617" y2="493.7" stroke="#e8262a" stroke-width="0.7"/>
<line x1="620" y1="491.1" x2="620" y2="493.7" stroke="#e8262a" stroke-width="0.7"/>
<line x1="623" y1="491.1" x2="623" y2="493.7" stroke="#e8262a" stroke-width="0.7"/>
<line x1="630" y1="491.1" x2="630" y2="493.7" stroke="#e8262a" stroke-width="0.7"/>
<line x1="636" y1="491.1" x2="636" y2="493.7" stroke="#e8262a" stroke-width="0.7"/>
<line x1="644" y1="491.1" x2="644" y2="493.7" stroke="#e8262a" stroke-width="0.7"/>
<line x1="654" y1="491.1" x2="654" y2="493.7" stroke="#e8262a" stroke-width="0.7"/>
<rect x="39.6" y="666.6" width="187.4" height="157.6" fill="none" stroke="#333" stroke-width="0.8"/>
<line x1="35.6" y1="818.3" x2="39.6" y2="818.3" stroke="#333" stroke-width="0.8"/>
<text x="31" y="821.1" font-size="8" text-anchor="end" fill="#1a1a1a">0</text>
<line x1="35.6" y1="789.12" x2="39.6" y2="789.12" stroke="#333" stroke-width="0.8"/>
<text x="31" y="791.92" font-size="8" text-anchor="end" fill="#1a1a1a">0.2</text>
<line x1="35.6" y1="759.94" x2="39.6" y2="759.94" stroke="#333" stroke-width="0.8"/>
<text x="31" y="762.74" font-size="8" text-anchor="end" fill="#1a1a1a">0.4</text>
<line x1="35.6" y1="730.76" x2="39.6" y2="730.76" stroke="#333" stroke-width="0.8"/>
<text x="31" y="733.56" font-size="8" text-anchor="end" fill="#1a1a1a">0.6</text>
<line x1="35.6" y1="701.58" x2="39.6" y2="701.58" stroke="#333" stroke-width="0.8"/>
<text x="31" y="704.38" font-size="8" text-anchor="end" fill="#1a1a1a">0.8</text>
<line x1="35.6" y1="672.4" x2="39.6" y2="672.4" stroke="#333" stroke-width="0.8"/>
<text x="31" y="675.2" font-size="8" text-anchor="end" fill="#1a1a1a">1</text>
<line x1="46.6" y1="824.2" x2="46.6" y2="827.7" stroke="#333" stroke-width="0.8"/>
<text x="46.6" y="836.3" font-size="8" text-anchor="middle" fill="#1a1a1a">0</text>
<line x1="75.6" y1="824.2" x2="75.6" y2="827.7" stroke="#333" stroke-width="0.8"/>
<text x="75.6" y="836.3" font-size="8" text-anchor="middle" fill="#1a1a1a">50</text>
<line x1="104.6" y1="824.2" x2="104.6" y2="827.7" stroke="#333" stroke-width="0.8"/>
<text x="104.6" y="836.3" font-size="8" text-anchor="middle" fill="#1a1a1a">100</text>
<line x1="133.6" y1="824.2" x2="133.6" y2="827.7" stroke="#333" stroke-width="0.8"/>
<text x="133.6" y="836.3" font-size="8" text-anchor="middle" fill="#1a1a1a">150</text>
<line x1="162.6" y1="824.2" x2="162.6" y2="827.7" stroke="#333" stroke-width="0.8"/>
<text x="162.6" y="836.3" font-size="8" text-anchor="middle" fill="#1a1a1a">200</text>
<line x1="191.6" y1="824.2" x2="191.6" y2="827.7" stroke="#333" stroke-width="0.8"/>
<text x="191.6" y="836.3" font-size="8" text-anchor="middle" fill="#1a1a1a">250</text>
<line x1="220.6" y1="824.2" x2="220.6" y2="827.7" stroke="#333" stroke-width="0.8"/>
<text x="220.6" y="836.3" font-size="8" text-anchor="middle" fill="#1a1a1a">300</text>
<text x="130.8" y="847.2" font-size="8" text-anchor="middle" fill="#1a1a1a">Time (months)</text>
<text x="18.3" y="738.2" font-size="7.9" text-anchor="middle" fill="#1a1a1a" transform="rotate(-90 18.3 738.2)">OS probability</text>
<text x="130" y="661.6" font-size="8" text-anchor="middle" fill="#1a1a1a"><tspan font-style="italic">LAP2&#945;</tspan> (203432_at)</text>
<text x="220" y="678" font-size="7.9" text-anchor="end" fill="#1a1a1a">HR = 1.61 (1.29 &#8722; 2)</text>
<text x="220" y="687.7" font-size="7.9" text-anchor="end" fill="#1a1a1a">logrank <tspan font-style="italic">P</tspan> = 1.5e&#8722;05</text>
<text x="43.8" y="797" font-size="8" text-anchor="start" fill="#1a1a1a">Expression</text>
<line x1="47.3" y1="805.5" x2="62.5" y2="805.5" stroke="#111111" stroke-width="0.8"/>
<line x1="47.3" y1="815" x2="62.5" y2="815" stroke="#e8262a" stroke-width="0.8"/>
<text x="65.5" y="808.3" font-size="8" text-anchor="start" fill="#1a1a1a">Low (n = 702)</text>
<text x="65.5" y="817.8" font-size="8" text-anchor="start" fill="#1a1a1a">High (n = 700)</text>
<polyline points="162.6,722.7 187,722.7" fill="none" stroke="#111111" stroke-width="0.8"/>
<polyline points="156.4,728.8 158.2,728.8 158.2,734 161.7,734 161.7,745.5 166,745.5 166,753.7 221.2,753.7" fill="none" stroke="#e8262a" stroke-width="0.8"/>
<polyline points="46,672.4 52.6,673.9 59.9,678.2 67.2,683.4 74.5,687.7 81.8,691.4 87.6,694.3 96.4,697.2 103.7,699.4 111,703.1 118.3,705.3 125.6,707.4 127.6,711.7 144.2,711.7 145,713 147.7,715.7 150.3,720 152,722.7 162.6,722.7" fill="none" stroke="#111111" stroke-width="2.7" stroke-linejoin="round"/>
<polyline points="46,672.4 51.9,673.9 57,679 62.8,685.5 68.7,692.8 76,697.2 80.3,700.9 86.2,708.2 90.6,711.8 97.9,716.2 106.6,717.7 115.4,719.9 125.6,722 134.4,725.7 146.8,727 148.5,728.8 156.4,728.8" fill="none" stroke="#e8262a" stroke-width="2.7" stroke-linejoin="round"/>
<line x1="165" y1="721" x2="165" y2="724.4" stroke="#111111" stroke-width="0.7"/>
<line x1="167" y1="721" x2="167" y2="724.4" stroke="#111111" stroke-width="0.7"/>
<line x1="169" y1="721" x2="169" y2="724.4" stroke="#111111" stroke-width="0.7"/>
<line x1="172" y1="721" x2="172" y2="724.4" stroke="#111111" stroke-width="0.7"/>
<line x1="175" y1="721" x2="175" y2="724.4" stroke="#111111" stroke-width="0.7"/>
<line x1="178" y1="721" x2="178" y2="724.4" stroke="#111111" stroke-width="0.7"/>
<line x1="181" y1="721" x2="181" y2="724.4" stroke="#111111" stroke-width="0.7"/>
<line x1="185" y1="721" x2="185" y2="724.4" stroke="#111111" stroke-width="0.7"/>
<line x1="167" y1="752" x2="167" y2="755.4" stroke="#e8262a" stroke-width="0.7"/>
<line x1="169" y1="752" x2="169" y2="755.4" stroke="#e8262a" stroke-width="0.7"/>
<line x1="181" y1="752" x2="181" y2="755.4" stroke="#e8262a" stroke-width="0.7"/>
<line x1="204.6" y1="752" x2="204.6" y2="755.4" stroke="#e8262a" stroke-width="0.7"/>
<line x1="213" y1="752" x2="213" y2="755.4" stroke="#e8262a" stroke-width="0.7"/>
<line x1="220.6" y1="752" x2="220.6" y2="755.4" stroke="#e8262a" stroke-width="0.7"/>
<line x1="160.8" y1="732.3" x2="160.8" y2="735.7" stroke="#e8262a" stroke-width="0.7"/>
<line x1="166" y1="743.8" x2="166" y2="747.2" stroke="#e8262a" stroke-width="0.7"/>
<rect x="269.6" y="665.3" width="187.9" height="158.8" fill="none" stroke="#333" stroke-width="0.8"/>
<line x1="265.6" y1="818.3" x2="269.6" y2="818.3" stroke="#333" stroke-width="0.8"/>
<text x="260" y="821.1" font-size="8" text-anchor="end" fill="#1a1a1a">0</text>
<line x1="265.6" y1="789.12" x2="269.6" y2="789.12" stroke="#333" stroke-width="0.8"/>
<text x="260" y="791.92" font-size="8" text-anchor="end" fill="#1a1a1a">0.2</text>
<line x1="265.6" y1="759.94" x2="269.6" y2="759.94" stroke="#333" stroke-width="0.8"/>
<text x="260" y="762.74" font-size="8" text-anchor="end" fill="#1a1a1a">0.4</text>
<line x1="265.6" y1="730.76" x2="269.6" y2="730.76" stroke="#333" stroke-width="0.8"/>
<text x="260" y="733.56" font-size="8" text-anchor="end" fill="#1a1a1a">0.6</text>
<line x1="265.6" y1="701.58" x2="269.6" y2="701.58" stroke="#333" stroke-width="0.8"/>
<text x="260" y="704.38" font-size="8" text-anchor="end" fill="#1a1a1a">0.8</text>
<line x1="265.6" y1="672.4" x2="269.6" y2="672.4" stroke="#333" stroke-width="0.8"/>
<text x="260" y="675.2" font-size="8" text-anchor="end" fill="#1a1a1a">1</text>
<line x1="276.5" y1="824.1" x2="276.5" y2="827.6" stroke="#333" stroke-width="0.8"/>
<text x="276.5" y="836.3" font-size="8" text-anchor="middle" fill="#1a1a1a">0</text>
<line x1="306.8" y1="824.1" x2="306.8" y2="827.6" stroke="#333" stroke-width="0.8"/>
<text x="306.8" y="836.3" font-size="8" text-anchor="middle" fill="#1a1a1a">50</text>
<line x1="337.1" y1="824.1" x2="337.1" y2="827.6" stroke="#333" stroke-width="0.8"/>
<text x="337.1" y="836.3" font-size="8" text-anchor="middle" fill="#1a1a1a">100</text>
<line x1="367.4" y1="824.1" x2="367.4" y2="827.6" stroke="#333" stroke-width="0.8"/>
<text x="367.4" y="836.3" font-size="8" text-anchor="middle" fill="#1a1a1a">150</text>
<line x1="397.7" y1="824.1" x2="397.7" y2="827.6" stroke="#333" stroke-width="0.8"/>
<text x="397.7" y="836.3" font-size="8" text-anchor="middle" fill="#1a1a1a">200</text>
<line x1="428" y1="824.1" x2="428" y2="827.6" stroke="#333" stroke-width="0.8"/>
<text x="428" y="836.3" font-size="8" text-anchor="middle" fill="#1a1a1a">250</text>
<text x="359.3" y="847.2" font-size="8" text-anchor="middle" fill="#1a1a1a">Time (months)</text>
<text x="245.2" y="738.2" font-size="7.9" text-anchor="middle" fill="#1a1a1a" transform="rotate(-90 245.2 738.2)">RFS probability</text>
<text x="360.5" y="661.6" font-size="8" text-anchor="middle" fill="#1a1a1a"><tspan font-style="italic">LAP2&#945;</tspan> (203432_at)</text>
<text x="450.4" y="678" font-size="7.9" text-anchor="end" fill="#1a1a1a">HR = 1.63 (1.46 &#8722; 1.82)</text>
<text x="450.4" y="687.7" font-size="7.9" text-anchor="end" fill="#1a1a1a">logrank <tspan font-style="italic">P</tspan> &lt; 1e&#8722;16</text>
<text x="273.7" y="797" font-size="8" text-anchor="start" fill="#1a1a1a">Expression</text>
<line x1="276.5" y1="805.5" x2="291.7" y2="805.5" stroke="#111111" stroke-width="0.8"/>
<line x1="276.5" y1="815" x2="291.7" y2="815" stroke="#e8262a" stroke-width="0.8"/>
<text x="296.4" y="808.3" font-size="8" text-anchor="start" fill="#1a1a1a">Low (n = 2064)</text>
<text x="296.4" y="817.8" font-size="8" text-anchor="start" fill="#1a1a1a">High (n = 1887)</text>
<polyline points="400.9,733.8 408.9,733.8 408.9,744.3 452.7,744.3" fill="none" stroke="#111111" stroke-width="0.8"/>
<polyline points="403.1,750.6 416.2,750.6 416.2,784.2 423.5,784.2" fill="none" stroke="#e8262a" stroke-width="0.8"/>
<polyline points="276,672.4 281.1,674.6 285.5,680.4 291.4,686.3 297.2,692.8 303,697.2 308.9,700.9 316.2,704.5 323.5,707.4 330.8,711.1 338.1,713.3 345.4,716.2 352.7,718.4 360,721.3 364.4,724.3 368.8,727.2 374.6,728.2 380.4,729.1 383.4,731.6 389.2,733.1 390.7,733.8 400.9,733.8" fill="none" stroke="#111111" stroke-width="2.8" stroke-linejoin="round"/>
<polyline points="276,672.4 279.7,673.9 282.6,681.9 285.5,689.2 289.9,698 294.3,705.3 300.1,712.6 306,718.4 314.7,725 326.4,729.3 338.1,733 349.8,735.9 360,738.4 365.8,739.6 370.2,742.6 376,743.3 379,746.2 387.7,746.2 390.7,747.7 395,750.6 403.1,750.6" fill="none" stroke="#e8262a" stroke-width="2.8" stroke-linejoin="round"/>
<line x1="402.3" y1="732.1" x2="402.3" y2="735.5" stroke="#111111" stroke-width="0.7"/>
<line x1="403.8" y1="732.1" x2="403.8" y2="735.5" stroke="#111111" stroke-width="0.7"/>
<line x1="406" y1="732.1" x2="406" y2="735.5" stroke="#111111" stroke-width="0.7"/>
<line x1="407.5" y1="732.1" x2="407.5" y2="735.5" stroke="#111111" stroke-width="0.7"/>
<line x1="412.6" y1="742.6" x2="412.6" y2="746" stroke="#111111" stroke-width="0.7"/>
<line x1="415.5" y1="742.6" x2="415.5" y2="746" stroke="#111111" stroke-width="0.7"/>
<line x1="417.7" y1="742.6" x2="417.7" y2="746" stroke="#111111" stroke-width="0.7"/>
<line x1="425.7" y1="742.6" x2="425.7" y2="746" stroke="#111111" stroke-width="0.7"/>
<line x1="435.6" y1="742.6" x2="435.6" y2="746" stroke="#111111" stroke-width="0.7"/>
<line x1="446.1" y1="742.6" x2="446.1" y2="746" stroke="#111111" stroke-width="0.7"/>
<line x1="451.7" y1="742.6" x2="451.7" y2="746" stroke="#111111" stroke-width="0.7"/>
<line x1="404.5" y1="748.9" x2="404.5" y2="752.3" stroke="#e8262a" stroke-width="0.7"/>
<line x1="406.5" y1="748.9" x2="406.5" y2="752.3" stroke="#e8262a" stroke-width="0.7"/>
<line x1="408" y1="748.9" x2="408" y2="752.3" stroke="#e8262a" stroke-width="0.7"/>
<line x1="423.5" y1="782.5" x2="423.5" y2="785.9" stroke="#e8262a" stroke-width="0.7"/>
<rect x="495.6" y="665.6" width="187.5" height="158.5" fill="none" stroke="#333" stroke-width="0.8"/>
<line x1="491.6" y1="818.3" x2="495.6" y2="818.3" stroke="#333" stroke-width="0.8"/>
<text x="490.5" y="821.1" font-size="8" text-anchor="end" fill="#1a1a1a">0</text>
<line x1="491.6" y1="789.12" x2="495.6" y2="789.12" stroke="#333" stroke-width="0.8"/>
<text x="490.5" y="791.92" font-size="8" text-anchor="end" fill="#1a1a1a">0.2</text>
<line x1="491.6" y1="759.94" x2="495.6" y2="759.94" stroke="#333" stroke-width="0.8"/>
<text x="490.5" y="762.74" font-size="8" text-anchor="end" fill="#1a1a1a">0.4</text>
<line x1="491.6" y1="730.76" x2="495.6" y2="730.76" stroke="#333" stroke-width="0.8"/>
<text x="490.5" y="733.56" font-size="8" text-anchor="end" fill="#1a1a1a">0.6</text>
<line x1="491.6" y1="701.58" x2="495.6" y2="701.58" stroke="#333" stroke-width="0.8"/>
<text x="490.5" y="704.38" font-size="8" text-anchor="end" fill="#1a1a1a">0.8</text>
<line x1="491.6" y1="672.4" x2="495.6" y2="672.4" stroke="#333" stroke-width="0.8"/>
<text x="490.5" y="675.2" font-size="8" text-anchor="end" fill="#1a1a1a">1</text>
<line x1="502.5" y1="824.1" x2="502.5" y2="827.6" stroke="#333" stroke-width="0.8"/>
<text x="502.5" y="836.3" font-size="8" text-anchor="middle" fill="#1a1a1a">0</text>
<line x1="539.1" y1="824.1" x2="539.1" y2="827.6" stroke="#333" stroke-width="0.8"/>
<text x="539.1" y="836.3" font-size="8" text-anchor="middle" fill="#1a1a1a">50</text>
<line x1="575.7" y1="824.1" x2="575.7" y2="827.6" stroke="#333" stroke-width="0.8"/>
<text x="575.7" y="836.3" font-size="8" text-anchor="middle" fill="#1a1a1a">100</text>
<line x1="612.3" y1="824.1" x2="612.3" y2="827.6" stroke="#333" stroke-width="0.8"/>
<text x="612.3" y="836.3" font-size="8" text-anchor="middle" fill="#1a1a1a">150</text>
<line x1="648.9" y1="824.1" x2="648.9" y2="827.6" stroke="#333" stroke-width="0.8"/>
<text x="648.9" y="836.3" font-size="8" text-anchor="middle" fill="#1a1a1a">200</text>
<text x="585.8" y="847.2" font-size="8" text-anchor="middle" fill="#1a1a1a">Time (months)</text>
<text x="475.4" y="738.2" font-size="7.9" text-anchor="middle" fill="#1a1a1a" transform="rotate(-90 475.4 738.2)">PFS probability</text>
<text x="587" y="661.6" font-size="8" text-anchor="middle" fill="#1a1a1a"><tspan font-style="italic">LAP2&#945;</tspan> (203432_at)</text>
<text x="676.4" y="678" font-size="7.9" text-anchor="end" fill="#1a1a1a">HR = 1.37 (1.06 &#8722; 1.77)</text>
<text x="676.4" y="687.7" font-size="7.9" text-anchor="end" fill="#1a1a1a">logrank <tspan font-style="italic">P</tspan> = 0.016</text>
<text x="500.4" y="797" font-size="8" text-anchor="start" fill="#1a1a1a">Expression</text>
<line x1="503.2" y1="805.5" x2="518.4" y2="805.5" stroke="#111111" stroke-width="0.8"/>
<line x1="503.2" y1="815" x2="518.4" y2="815" stroke="#e8262a" stroke-width="0.8"/>
<text x="522.7" y="808.3" font-size="8" text-anchor="start" fill="#1a1a1a">Low (n = 295)</text>
<text x="522.7" y="817.8" font-size="8" text-anchor="start" fill="#1a1a1a">High (n = 119)</text>
<polyline points="502.4,672.1 503.5,679.1 505.9,687.9 508.2,695 510.9,703.8 513.5,714.4 515.8,721.4 518.8,729.4 523.2,734.7 527.6,740.8 530.3,749.7 534.7,756.7 540,762 546.1,766.4 553.2,770 560.3,772.2 567.3,774.3 576.1,776.5 583.2,777.5 585,778.7 589.4,782.3 602.5,782.3 602.5,791.4 638.3,791.4" fill="none" stroke="#111111" stroke-width="0.8"/>
<polyline points="502.4,672.1 504.7,680.9 507.3,687.9 510,700.3 511.8,712.6 512.6,726.7 515.3,735.5 518.8,742.6 523.2,751.4 527.6,760.2 532,768.2 535.6,775.2 540.9,780.5 546.1,786.7 549.7,788.5 560.3,790.6 570.8,795.2 579.7,795.9 585,797.4 599.6,797.4 600.3,801.3 634.6,801.3 634.6,806.7 678.4,806.7" fill="none" stroke="#e8262a" stroke-width="0.8"/>
<polyline points="" fill="none" stroke="#111111" stroke-width="2" stroke-linejoin="round"/>
<polyline points="" fill="none" stroke="#e8262a" stroke-width="2" stroke-linejoin="round"/>
<line x1="534.97" y1="754.97" x2="534.97" y2="758.97" stroke="#111111" stroke-width="0.8"/>
<line x1="533.37" y1="756.97" x2="536.57" y2="756.97" stroke="#111111" stroke-width="0.8"/>
<line x1="548.72" y1="765.73" x2="548.72" y2="769.73" stroke="#111111" stroke-width="0.8"/>
<line x1="547.12" y1="767.73" x2="550.32" y2="767.73" stroke="#111111" stroke-width="0.8"/>
<line x1="555.95" y1="768.85" x2="555.95" y2="772.85" stroke="#111111" stroke-width="0.8"/>
<line x1="554.35" y1="770.85" x2="557.55" y2="770.85" stroke="#111111" stroke-width="0.8"/>
<line x1="576.92" y1="774.62" x2="576.92" y2="778.62" stroke="#111111" stroke-width="0.8"/>
<line x1="575.32" y1="776.62" x2="578.52" y2="776.62" stroke="#111111" stroke-width="0.8"/>
<line x1="548.47" y1="765.6" x2="548.47" y2="769.6" stroke="#111111" stroke-width="0.8"/>
<line x1="546.87" y1="767.6" x2="550.07" y2="767.6" stroke="#111111" stroke-width="0.8"/>
<line x1="574.02" y1="773.98" x2="574.02" y2="777.98" stroke="#111111" stroke-width="0.8"/>
<line x1="572.42" y1="775.98" x2="575.62" y2="775.98" stroke="#111111" stroke-width="0.8"/>
<line x1="503.07" y1="674.34" x2="503.07" y2="678.34" stroke="#111111" stroke-width="0.8"/>
<line x1="501.47" y1="676.34" x2="504.67" y2="676.34" stroke="#111111" stroke-width="0.8"/>
<line x1="524.5" y1="734.51" x2="524.5" y2="738.51" stroke="#111111" stroke-width="0.8"/>
<line x1="522.9" y1="736.51" x2="526.1" y2="736.51" stroke="#111111" stroke-width="0.8"/>
<line x1="577.05" y1="774.63" x2="577.05" y2="778.63" stroke="#111111" stroke-width="0.8"/>
<line x1="575.45" y1="776.63" x2="578.65" y2="776.63" stroke="#111111" stroke-width="0.8"/>
<line x1="537.7" y1="757.7" x2="537.7" y2="761.7" stroke="#111111" stroke-width="0.8"/>
<line x1="536.1" y1="759.7" x2="539.3" y2="759.7" stroke="#111111" stroke-width="0.8"/>
<line x1="570.94" y1="773.21" x2="570.94" y2="777.21" stroke="#111111" stroke-width="0.8"/>
<line x1="569.34" y1="775.21" x2="572.54" y2="775.21" stroke="#111111" stroke-width="0.8"/>
<line x1="506.06" y1="686.4" x2="506.06" y2="690.4" stroke="#111111" stroke-width="0.8"/>
<line x1="504.46" y1="688.4" x2="507.66" y2="688.4" stroke="#111111" stroke-width="0.8"/>
<line x1="524.8" y1="734.92" x2="524.8" y2="738.92" stroke="#111111" stroke-width="0.8"/>
<line x1="523.2" y1="736.92" x2="526.4" y2="736.92" stroke="#111111" stroke-width="0.8"/>
<line x1="511.75" y1="705.27" x2="511.75" y2="709.27" stroke="#111111" stroke-width="0.8"/>
<line x1="510.15" y1="707.27" x2="513.35" y2="707.27" stroke="#111111" stroke-width="0.8"/>
<line x1="529.42" y1="744.79" x2="529.42" y2="748.79" stroke="#111111" stroke-width="0.8"/>
<line x1="527.82" y1="746.79" x2="531.02" y2="746.79" stroke="#111111" stroke-width="0.8"/>
<line x1="531.05" y1="748.9" x2="531.05" y2="752.9" stroke="#111111" stroke-width="0.8"/>
<line x1="529.45" y1="750.9" x2="532.65" y2="750.9" stroke="#111111" stroke-width="0.8"/>
<line x1="502.7" y1="672.01" x2="502.7" y2="676.01" stroke="#111111" stroke-width="0.8"/>
<line x1="501.1" y1="674.01" x2="504.3" y2="674.01" stroke="#111111" stroke-width="0.8"/>
<line x1="510.65" y1="700.99" x2="510.65" y2="704.99" stroke="#111111" stroke-width="0.8"/>
<line x1="509.05" y1="702.99" x2="512.25" y2="702.99" stroke="#111111" stroke-width="0.8"/>
<line x1="512.91" y1="709.99" x2="512.91" y2="713.99" stroke="#111111" stroke-width="0.8"/>
<line x1="511.31" y1="711.99" x2="514.51" y2="711.99" stroke="#111111" stroke-width="0.8"/>
<line x1="573.16" y1="773.76" x2="573.16" y2="777.76" stroke="#111111" stroke-width="0.8"/>
<line x1="571.56" y1="775.76" x2="574.76" y2="775.76" stroke="#111111" stroke-width="0.8"/>
<line x1="551.88" y1="767.33" x2="551.88" y2="771.33" stroke="#111111" stroke-width="0.8"/>
<line x1="550.28" y1="769.33" x2="553.48" y2="769.33" stroke="#111111" stroke-width="0.8"/>
<line x1="508.18" y1="692.92" x2="508.18" y2="696.92" stroke="#111111" stroke-width="0.8"/>
<line x1="506.58" y1="694.92" x2="509.78" y2="694.92" stroke="#111111" stroke-width="0.8"/>
<line x1="556.22" y1="768.94" x2="556.22" y2="772.94" stroke="#111111" stroke-width="0.8"/>
<line x1="554.62" y1="770.94" x2="557.82" y2="770.94" stroke="#111111" stroke-width="0.8"/>
<line x1="507.23" y1="689.99" x2="507.23" y2="693.99" stroke="#111111" stroke-width="0.8"/>
<line x1="505.63" y1="691.99" x2="508.83" y2="691.99" stroke="#111111" stroke-width="0.8"/>
<line x1="534.48" y1="754.35" x2="534.48" y2="758.35" stroke="#111111" stroke-width="0.8"/>
<line x1="532.88" y1="756.35" x2="536.08" y2="756.35" stroke="#111111" stroke-width="0.8"/>
<line x1="506.68" y1="688.3" x2="506.68" y2="692.3" stroke="#111111" stroke-width="0.8"/>
<line x1="505.08" y1="690.3" x2="508.28" y2="690.3" stroke="#111111" stroke-width="0.8"/>
<line x1="502.44" y1="670.36" x2="502.44" y2="674.36" stroke="#111111" stroke-width="0.8"/>
<line x1="500.84" y1="672.36" x2="504.04" y2="672.36" stroke="#111111" stroke-width="0.8"/>
<line x1="566.72" y1="772.13" x2="566.72" y2="776.13" stroke="#111111" stroke-width="0.8"/>
<line x1="565.12" y1="774.13" x2="568.32" y2="774.13" stroke="#111111" stroke-width="0.8"/>
<line x1="510.34" y1="699.97" x2="510.34" y2="703.97" stroke="#111111" stroke-width="0.8"/>
<line x1="508.74" y1="701.97" x2="511.94" y2="701.97" stroke="#111111" stroke-width="0.8"/>
<line x1="510.6" y1="700.82" x2="510.6" y2="704.82" stroke="#111111" stroke-width="0.8"/>
<line x1="509" y1="702.82" x2="512.2" y2="702.82" stroke="#111111" stroke-width="0.8"/>
<line x1="582.77" y1="775.44" x2="582.77" y2="779.44" stroke="#111111" stroke-width="0.8"/>
<line x1="581.17" y1="777.44" x2="584.37" y2="777.44" stroke="#111111" stroke-width="0.8"/>
<line x1="566.86" y1="772.17" x2="566.86" y2="776.17" stroke="#111111" stroke-width="0.8"/>
<line x1="565.26" y1="774.17" x2="568.46" y2="774.17" stroke="#111111" stroke-width="0.8"/>
<line x1="513.25" y1="711.4" x2="513.25" y2="715.4" stroke="#111111" stroke-width="0.8"/>
<line x1="511.65" y1="713.4" x2="514.85" y2="713.4" stroke="#111111" stroke-width="0.8"/>
<line x1="579.7" y1="775.01" x2="579.7" y2="779.01" stroke="#111111" stroke-width="0.8"/>
<line x1="578.1" y1="777.01" x2="581.3" y2="777.01" stroke="#111111" stroke-width="0.8"/>
<line x1="529.22" y1="744.15" x2="529.22" y2="748.15" stroke="#111111" stroke-width="0.8"/>
<line x1="527.62" y1="746.15" x2="530.82" y2="746.15" stroke="#111111" stroke-width="0.8"/>
<line x1="540.82" y1="760.59" x2="540.82" y2="764.59" stroke="#111111" stroke-width="0.8"/>
<line x1="539.22" y1="762.59" x2="542.42" y2="762.59" stroke="#111111" stroke-width="0.8"/>
<line x1="510.13" y1="699.31" x2="510.13" y2="703.31" stroke="#111111" stroke-width="0.8"/>
<line x1="508.53" y1="701.31" x2="511.73" y2="701.31" stroke="#111111" stroke-width="0.8"/>
<line x1="576.7" y1="774.59" x2="576.7" y2="778.59" stroke="#111111" stroke-width="0.8"/>
<line x1="575.1" y1="776.59" x2="578.3" y2="776.59" stroke="#111111" stroke-width="0.8"/>
<line x1="542.35" y1="761.7" x2="542.35" y2="765.7" stroke="#111111" stroke-width="0.8"/>
<line x1="540.75" y1="763.7" x2="543.95" y2="763.7" stroke="#111111" stroke-width="0.8"/>
<line x1="580.45" y1="775.11" x2="580.45" y2="779.11" stroke="#111111" stroke-width="0.8"/>
<line x1="578.85" y1="777.11" x2="582.05" y2="777.11" stroke="#111111" stroke-width="0.8"/>
<line x1="569.92" y1="772.95" x2="569.92" y2="776.95" stroke="#111111" stroke-width="0.8"/>
<line x1="568.32" y1="774.95" x2="571.52" y2="774.95" stroke="#111111" stroke-width="0.8"/>
<line x1="513.62" y1="712.75" x2="513.62" y2="716.75" stroke="#111111" stroke-width="0.8"/>
<line x1="512.02" y1="714.75" x2="515.22" y2="714.75" stroke="#111111" stroke-width="0.8"/>
<line x1="516.58" y1="721.49" x2="516.58" y2="725.49" stroke="#111111" stroke-width="0.8"/>
<line x1="514.98" y1="723.49" x2="518.18" y2="723.49" stroke="#111111" stroke-width="0.8"/>
<line x1="508.45" y1="693.82" x2="508.45" y2="697.82" stroke="#111111" stroke-width="0.8"/>
<line x1="506.85" y1="695.82" x2="510.05" y2="695.82" stroke="#111111" stroke-width="0.8"/>
<line x1="507.54" y1="690.97" x2="507.54" y2="694.97" stroke="#111111" stroke-width="0.8"/>
<line x1="505.94" y1="692.97" x2="509.14" y2="692.97" stroke="#111111" stroke-width="0.8"/>
<line x1="504.17" y1="679.55" x2="504.17" y2="683.55" stroke="#111111" stroke-width="0.8"/>
<line x1="502.57" y1="681.55" x2="505.77" y2="681.55" stroke="#111111" stroke-width="0.8"/>
<line x1="513.73" y1="713.11" x2="513.73" y2="717.11" stroke="#111111" stroke-width="0.8"/>
<line x1="512.13" y1="715.11" x2="515.33" y2="715.11" stroke="#111111" stroke-width="0.8"/>
<line x1="533.35" y1="752.55" x2="533.35" y2="756.55" stroke="#111111" stroke-width="0.8"/>
<line x1="531.75" y1="754.55" x2="534.95" y2="754.55" stroke="#111111" stroke-width="0.8"/>
<line x1="502.48" y1="670.59" x2="502.48" y2="674.59" stroke="#111111" stroke-width="0.8"/>
<line x1="500.88" y1="672.59" x2="504.08" y2="672.59" stroke="#111111" stroke-width="0.8"/>
<line x1="540.83" y1="760.6" x2="540.83" y2="764.6" stroke="#111111" stroke-width="0.8"/>
<line x1="539.23" y1="762.6" x2="542.43" y2="762.6" stroke="#111111" stroke-width="0.8"/>
<line x1="515.42" y1="718.25" x2="515.42" y2="722.25" stroke="#111111" stroke-width="0.8"/>
<line x1="513.82" y1="720.25" x2="517.02" y2="720.25" stroke="#111111" stroke-width="0.8"/>
<line x1="514.13" y1="714.32" x2="514.13" y2="718.32" stroke="#111111" stroke-width="0.8"/>
<line x1="512.53" y1="716.32" x2="515.73" y2="716.32" stroke="#111111" stroke-width="0.8"/>
<line x1="559.24" y1="769.87" x2="559.24" y2="773.87" stroke="#111111" stroke-width="0.8"/>
<line x1="557.64" y1="771.87" x2="560.84" y2="771.87" stroke="#111111" stroke-width="0.8"/>
<line x1="525.81" y1="736.32" x2="525.81" y2="740.32" stroke="#111111" stroke-width="0.8"/>
<line x1="524.21" y1="738.32" x2="527.41" y2="738.32" stroke="#111111" stroke-width="0.8"/>
<line x1="514.4" y1="715.14" x2="514.4" y2="719.14" stroke="#111111" stroke-width="0.8"/>
<line x1="512.8" y1="717.14" x2="516" y2="717.14" stroke="#111111" stroke-width="0.8"/>
<line x1="525.85" y1="736.38" x2="525.85" y2="740.38" stroke="#111111" stroke-width="0.8"/>
<line x1="524.25" y1="738.38" x2="527.45" y2="738.38" stroke="#111111" stroke-width="0.8"/>
<line x1="544.04" y1="762.91" x2="544.04" y2="766.91" stroke="#111111" stroke-width="0.8"/>
<line x1="542.44" y1="764.91" x2="545.64" y2="764.91" stroke="#111111" stroke-width="0.8"/>
<line x1="503.85" y1="678.39" x2="503.85" y2="682.39" stroke="#111111" stroke-width="0.8"/>
<line x1="502.25" y1="680.39" x2="505.45" y2="680.39" stroke="#111111" stroke-width="0.8"/>
<line x1="581.7" y1="775.29" x2="581.7" y2="779.29" stroke="#111111" stroke-width="0.8"/>
<line x1="580.1" y1="777.29" x2="583.3" y2="777.29" stroke="#111111" stroke-width="0.8"/>
<line x1="502.92" y1="673.44" x2="502.92" y2="677.44" stroke="#111111" stroke-width="0.8"/>
<line x1="501.32" y1="675.44" x2="504.52" y2="675.44" stroke="#111111" stroke-width="0.8"/>
<line x1="549.78" y1="766.27" x2="549.78" y2="770.27" stroke="#111111" stroke-width="0.8"/>
<line x1="548.18" y1="768.27" x2="551.38" y2="768.27" stroke="#111111" stroke-width="0.8"/>
<line x1="562.97" y1="771" x2="562.97" y2="775" stroke="#111111" stroke-width="0.8"/>
<line x1="561.37" y1="773" x2="564.57" y2="773" stroke="#111111" stroke-width="0.8"/>
<line x1="502.81" y1="672.74" x2="502.81" y2="676.74" stroke="#111111" stroke-width="0.8"/>
<line x1="501.21" y1="674.74" x2="504.41" y2="674.74" stroke="#111111" stroke-width="0.8"/>
<line x1="554.89" y1="768.52" x2="554.89" y2="772.52" stroke="#111111" stroke-width="0.8"/>
<line x1="553.29" y1="770.52" x2="556.49" y2="770.52" stroke="#111111" stroke-width="0.8"/>
<line x1="516.84" y1="722.18" x2="516.84" y2="726.18" stroke="#111111" stroke-width="0.8"/>
<line x1="515.24" y1="724.18" x2="518.44" y2="724.18" stroke="#111111" stroke-width="0.8"/>
<line x1="531.41" y1="749.47" x2="531.41" y2="753.47" stroke="#111111" stroke-width="0.8"/>
<line x1="529.81" y1="751.47" x2="533.01" y2="751.47" stroke="#111111" stroke-width="0.8"/>
<line x1="502.61" y1="671.43" x2="502.61" y2="675.43" stroke="#111111" stroke-width="0.8"/>
<line x1="501.01" y1="673.43" x2="504.21" y2="673.43" stroke="#111111" stroke-width="0.8"/>
<line x1="503.47" y1="676.92" x2="503.47" y2="680.92" stroke="#111111" stroke-width="0.8"/>
<line x1="501.87" y1="678.92" x2="505.07" y2="678.92" stroke="#111111" stroke-width="0.8"/>
<line x1="509.1" y1="695.93" x2="509.1" y2="699.93" stroke="#111111" stroke-width="0.8"/>
<line x1="507.5" y1="697.93" x2="510.7" y2="697.93" stroke="#111111" stroke-width="0.8"/>
<line x1="578.78" y1="774.88" x2="578.78" y2="778.88" stroke="#111111" stroke-width="0.8"/>
<line x1="577.18" y1="776.88" x2="580.38" y2="776.88" stroke="#111111" stroke-width="0.8"/>
<line x1="547.95" y1="785.63" x2="547.95" y2="789.63" stroke="#e8262a" stroke-width="0.8"/>
<line x1="546.35" y1="787.63" x2="549.55" y2="787.63" stroke="#e8262a" stroke-width="0.8"/>
<line x1="552.29" y1="787.01" x2="552.29" y2="791.01" stroke="#e8262a" stroke-width="0.8"/>
<line x1="550.69" y1="789.01" x2="553.89" y2="789.01" stroke="#e8262a" stroke-width="0.8"/>
<line x1="520.98" y1="744.96" x2="520.98" y2="748.96" stroke="#e8262a" stroke-width="0.8"/>
<line x1="519.38" y1="746.96" x2="522.58" y2="746.96" stroke="#e8262a" stroke-width="0.8"/>
<line x1="511.82" y1="710.88" x2="511.82" y2="714.88" stroke="#e8262a" stroke-width="0.8"/>
<line x1="510.22" y1="712.88" x2="513.42" y2="712.88" stroke="#e8262a" stroke-width="0.8"/>
<line x1="502.42" y1="670.17" x2="502.42" y2="674.17" stroke="#e8262a" stroke-width="0.8"/>
<line x1="500.82" y1="672.17" x2="504.02" y2="672.17" stroke="#e8262a" stroke-width="0.8"/>
<line x1="534.1" y1="770.28" x2="534.1" y2="774.28" stroke="#e8262a" stroke-width="0.8"/>
<line x1="532.5" y1="772.28" x2="535.7" y2="772.28" stroke="#e8262a" stroke-width="0.8"/>
<line x1="519.92" y1="742.84" x2="519.92" y2="746.84" stroke="#e8262a" stroke-width="0.8"/>
<line x1="518.32" y1="744.84" x2="521.52" y2="744.84" stroke="#e8262a" stroke-width="0.8"/>
<line x1="543.97" y1="782.16" x2="543.97" y2="786.16" stroke="#e8262a" stroke-width="0.8"/>
<line x1="542.37" y1="784.16" x2="545.57" y2="784.16" stroke="#e8262a" stroke-width="0.8"/>
<line x1="513.79" y1="728.58" x2="513.79" y2="732.58" stroke="#e8262a" stroke-width="0.8"/>
<line x1="512.19" y1="730.58" x2="515.39" y2="730.58" stroke="#e8262a" stroke-width="0.8"/>
<line x1="545.04" y1="783.43" x2="545.04" y2="787.43" stroke="#e8262a" stroke-width="0.8"/>
<line x1="543.44" y1="785.43" x2="546.64" y2="785.43" stroke="#e8262a" stroke-width="0.8"/>
<line x1="511.92" y1="712.66" x2="511.92" y2="716.66" stroke="#e8262a" stroke-width="0.8"/>
<line x1="510.32" y1="714.66" x2="513.52" y2="714.66" stroke="#e8262a" stroke-width="0.8"/>
<line x1="549.18" y1="786.24" x2="549.18" y2="790.24" stroke="#e8262a" stroke-width="0.8"/>
<line x1="547.58" y1="788.24" x2="550.78" y2="788.24" stroke="#e8262a" stroke-width="0.8"/>
<line x1="540.88" y1="778.48" x2="540.88" y2="782.48" stroke="#e8262a" stroke-width="0.8"/>
<line x1="539.28" y1="780.48" x2="542.48" y2="780.48" stroke="#e8262a" stroke-width="0.8"/>
<line x1="515.92" y1="734.76" x2="515.92" y2="738.76" stroke="#e8262a" stroke-width="0.8"/>
<line x1="514.32" y1="736.76" x2="517.52" y2="736.76" stroke="#e8262a" stroke-width="0.8"/>
<line x1="524.8" y1="752.61" x2="524.8" y2="756.61" stroke="#e8262a" stroke-width="0.8"/>
<line x1="523.2" y1="754.61" x2="526.4" y2="754.61" stroke="#e8262a" stroke-width="0.8"/>
<line x1="535.51" y1="773.03" x2="535.51" y2="777.03" stroke="#e8262a" stroke-width="0.8"/>
<line x1="533.91" y1="775.03" x2="537.11" y2="775.03" stroke="#e8262a" stroke-width="0.8"/>
<line x1="510.25" y1="699.99" x2="510.25" y2="703.99" stroke="#e8262a" stroke-width="0.8"/>
<line x1="508.65" y1="701.99" x2="511.85" y2="701.99" stroke="#e8262a" stroke-width="0.8"/>
<line x1="525.9" y1="754.8" x2="525.9" y2="758.8" stroke="#e8262a" stroke-width="0.8"/>
<line x1="524.3" y1="756.8" x2="527.5" y2="756.8" stroke="#e8262a" stroke-width="0.8"/>
<line x1="549.64" y1="786.47" x2="549.64" y2="790.47" stroke="#e8262a" stroke-width="0.8"/>
<line x1="548.04" y1="788.47" x2="551.24" y2="788.47" stroke="#e8262a" stroke-width="0.8"/>
<line x1="511.85" y1="711.51" x2="511.85" y2="715.51" stroke="#e8262a" stroke-width="0.8"/>
<line x1="510.25" y1="713.51" x2="513.45" y2="713.51" stroke="#e8262a" stroke-width="0.8"/>
<line x1="549.39" y1="786.35" x2="549.39" y2="790.35" stroke="#e8262a" stroke-width="0.8"/>
<line x1="547.79" y1="788.35" x2="550.99" y2="788.35" stroke="#e8262a" stroke-width="0.8"/>
<line x1="535.87" y1="773.47" x2="535.87" y2="777.47" stroke="#e8262a" stroke-width="0.8"/>
<line x1="534.27" y1="775.47" x2="537.47" y2="775.47" stroke="#e8262a" stroke-width="0.8"/>
<line x1="555.8" y1="787.71" x2="555.8" y2="791.71" stroke="#e8262a" stroke-width="0.8"/>
<line x1="554.2" y1="789.71" x2="557.4" y2="789.71" stroke="#e8262a" stroke-width="0.8"/>
<line x1="512.49" y1="722.73" x2="512.49" y2="726.73" stroke="#e8262a" stroke-width="0.8"/>
<line x1="510.89" y1="724.73" x2="514.09" y2="724.73" stroke="#e8262a" stroke-width="0.8"/>
<line x1="590.2" y1="780.6" x2="590.2" y2="784" stroke="#111111" stroke-width="0.7"/>
<line x1="592.4" y1="780.6" x2="592.4" y2="784" stroke="#111111" stroke-width="0.7"/>
<line x1="594.5" y1="780.6" x2="594.5" y2="784" stroke="#111111" stroke-width="0.7"/>
<line x1="602.5" y1="780.6" x2="602.5" y2="784" stroke="#111111" stroke-width="0.7"/>
<line x1="607.6" y1="789.7" x2="607.6" y2="793.1" stroke="#111111" stroke-width="0.7"/>
<line x1="616.8" y1="789.7" x2="616.8" y2="793.1" stroke="#111111" stroke-width="0.7"/>
<line x1="628.5" y1="789.7" x2="628.5" y2="793.1" stroke="#111111" stroke-width="0.7"/>
<line x1="630.2" y1="789.7" x2="630.2" y2="793.1" stroke="#111111" stroke-width="0.7"/>
<line x1="636.4" y1="789.7" x2="636.4" y2="793.1" stroke="#111111" stroke-width="0.7"/>
<line x1="593" y1="795.7" x2="593" y2="799.1" stroke="#e8262a" stroke-width="0.7"/>
<line x1="607.6" y1="799.6" x2="607.6" y2="803" stroke="#e8262a" stroke-width="0.7"/>
<line x1="628.5" y1="799.6" x2="628.5" y2="803" stroke="#e8262a" stroke-width="0.7"/>
<line x1="656.5" y1="805" x2="656.5" y2="808.4" stroke="#e8262a" stroke-width="0.7"/>
<line x1="676.7" y1="805" x2="676.7" y2="808.4" stroke="#e8262a" stroke-width="0.7"/>
</svg></body></html>
